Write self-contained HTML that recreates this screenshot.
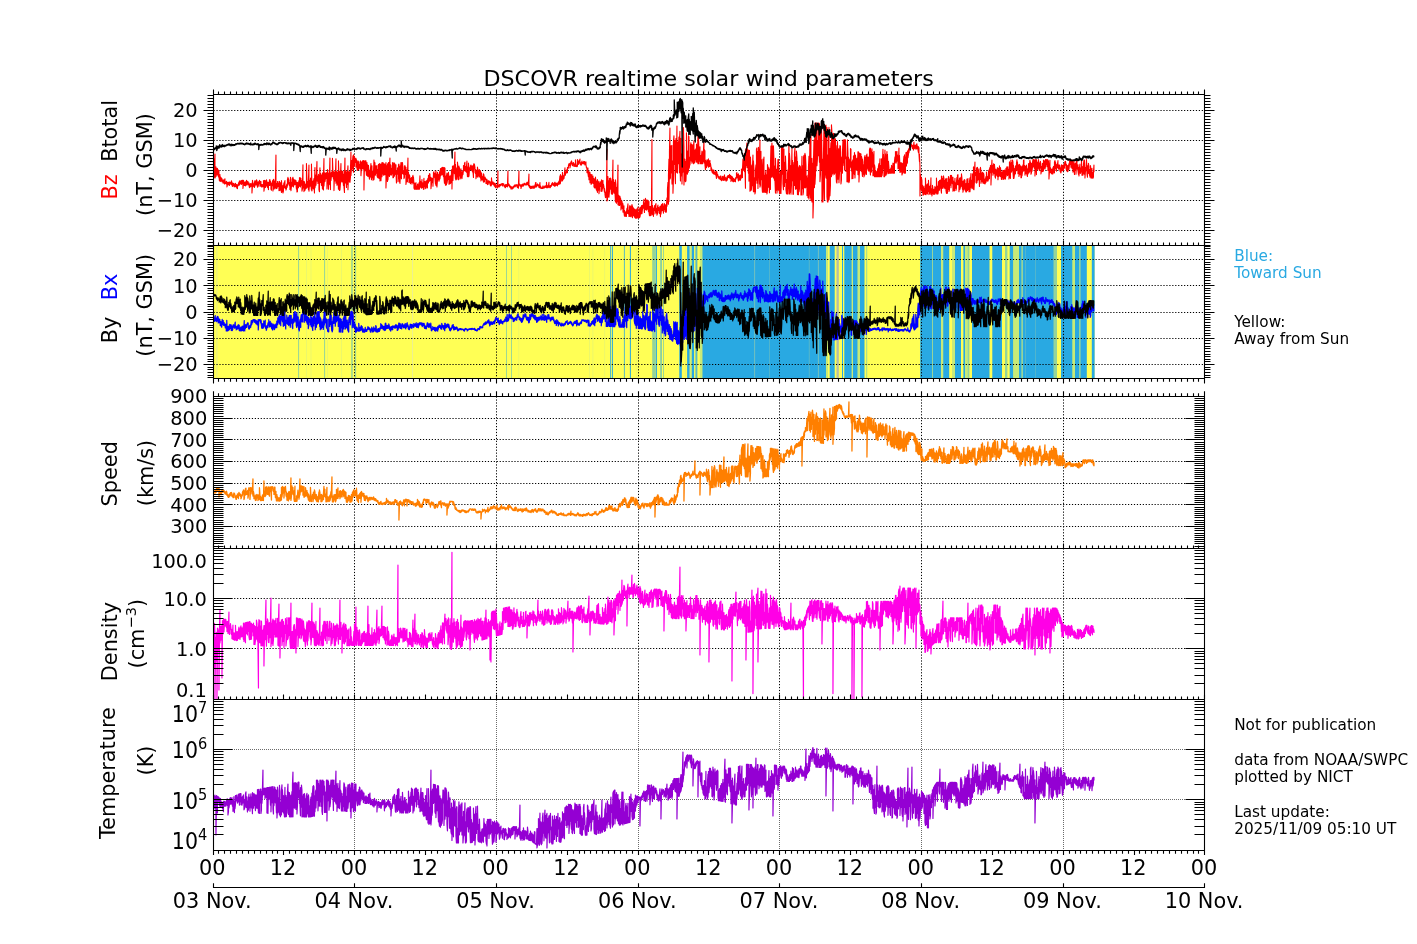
<!DOCTYPE html>
<html><head><meta charset="utf-8"><title>DSCOVR realtime solar wind parameters</title>
<style>html,body{margin:0;padding:0;background:#fff;}body{width:1417px;height:944px;overflow:hidden;}svg{display:block;}</style>
</head><body>
<svg width="1417" height="944" viewBox="0 0 1417 944" font-family="'DejaVu Sans','Liberation Sans',sans-serif">
<defs><clipPath id="c1"><rect x="213.5" y="94.5" width="991" height="151"/></clipPath><clipPath id="c2"><rect x="213.5" y="245.5" width="991" height="133"/></clipPath><clipPath id="c3"><rect x="213.5" y="396.5" width="991" height="152"/></clipPath><clipPath id="c4"><rect x="213.5" y="548.5" width="991" height="151"/></clipPath><clipPath id="c5"><rect x="213.5" y="699.5" width="991" height="151"/></clipPath></defs>
<rect width="1417" height="944" fill="#fff"/>
<rect x="213.5" y="245.3" width="881.1" height="133" fill="#ffff55"/>
<rect x="216.4" y="245.3" width="1" height="133" fill="#e6eb8c"/>
<rect x="298.1" y="245.3" width="1" height="133" fill="#94d49b"/>
<rect x="324.1" y="245.3" width="1" height="133" fill="#94d49b"/>
<rect x="351.2" y="245.3" width="1.5" height="133" fill="#94d49b"/>
<rect x="355.1" y="245.3" width="1" height="133" fill="#94d49b"/>
<rect x="306" y="245.3" width="0.8" height="133" fill="#e8f570"/>
<rect x="310.6" y="245.3" width="0.8" height="133" fill="#e8f570"/>
<rect x="327" y="245.3" width="0.8" height="133" fill="#e8f570"/>
<rect x="341.1" y="245.3" width="0.8" height="133" fill="#e8f570"/>
<rect x="412.2" y="245.3" width="0.8" height="133" fill="#e9eda0"/>
<rect x="506" y="245.3" width="0.9" height="133" fill="#94d49b"/>
<rect x="511" y="245.3" width="0.9" height="133" fill="#94d49b"/>
<rect x="518.4" y="245.3" width="0.8" height="133" fill="#e8f570"/>
<rect x="589" y="245.3" width="0.8" height="133" fill="#e8f570"/>
<rect x="592.5" y="245.3" width="0.8" height="133" fill="#e8f570"/>
<rect x="604.3" y="245.3" width="0.8" height="133" fill="#e8f570"/>
<rect x="610" y="245.3" width="1.2" height="133" fill="#5cbcc0"/>
<rect x="612.1" y="245.3" width="0.9" height="133" fill="#29a9e2"/>
<rect x="623.9" y="245.3" width="1" height="133" fill="#5cbcc0"/>
<rect x="629.9" y="245.3" width="1" height="133" fill="#29a9e2"/>
<rect x="636.4" y="245.3" width="0.8" height="133" fill="#e8f570"/>
<rect x="652.2" y="245.3" width="3.4" height="133" fill="#94d49b"/>
<rect x="655.8" y="245.3" width="1.1" height="133" fill="#29a9e2"/>
<rect x="660.4" y="245.3" width="1.3" height="133" fill="#5cbcc0"/>
<rect x="663" y="245.3" width="0.9" height="133" fill="#94d49b"/>
<rect x="679.3" y="245.3" width="2.5" height="133" fill="#29a9e2"/>
<rect x="685.1" y="245.3" width="0.8" height="133" fill="#e8f570"/>
<rect x="687.1" y="245.3" width="2.5" height="133" fill="#29a9e2"/>
<rect x="690.6" y="245.3" width="0.8" height="133" fill="#94d49b"/>
<rect x="691.8" y="245.3" width="2.3" height="133" fill="#29a9e2"/>
<rect x="695.4" y="245.3" width="2" height="133" fill="#5cbcc0"/>
<rect x="699.8" y="245.3" width="2.6" height="133" fill="#c8ea78"/>
<rect x="702.4" y="245.3" width="123.6" height="133" fill="#29a9e2"/>
<rect x="754.2" y="245.3" width="0.9" height="133" fill="#7cc4b8"/>
<rect x="769" y="245.3" width="0.8" height="133" fill="#5ab8c8"/>
<rect x="808.8" y="245.3" width="0.9" height="133" fill="#5ab8c8"/>
<rect x="817.9" y="245.3" width="0.9" height="133" fill="#7cc4b8"/>
<rect x="826" y="245.3" width="2" height="133" fill="#c8ea78"/>
<rect x="829" y="245.3" width="0.8" height="133" fill="#b4de8c"/>
<rect x="830" y="245.3" width="4.7" height="133" fill="#29a9e2"/>
<rect x="836.5" y="245.3" width="2.3" height="133" fill="#b4bea8"/>
<rect x="842" y="245.3" width="1" height="133" fill="#29a9e2"/>
<rect x="844.3" y="245.3" width="7.4" height="133" fill="#29a9e2"/>
<rect x="852" y="245.3" width="1" height="133" fill="#c8ea78"/>
<rect x="853" y="245.3" width="4.6" height="133" fill="#29a9e2"/>
<rect x="858" y="245.3" width="2" height="133" fill="#c8ea78"/>
<rect x="860" y="245.3" width="4.5" height="133" fill="#29a9e2"/>
<rect x="866.3" y="245.3" width="0.9" height="133" fill="#94d49b"/>
<rect x="920.2" y="245.3" width="20.8" height="133" fill="#29a9e2"/>
<rect x="932" y="245.3" width="1" height="133" fill="#94d49b"/>
<rect x="941" y="245.3" width="2.2" height="133" fill="#c8ea78"/>
<rect x="943.2" y="245.3" width="6" height="133" fill="#29a9e2"/>
<rect x="952" y="245.3" width="3" height="133" fill="#c8ea78"/>
<rect x="955" y="245.3" width="6" height="133" fill="#29a9e2"/>
<rect x="963.4" y="245.3" width="1.8" height="133" fill="#29a9e2"/>
<rect x="965.2" y="245.3" width="2.3" height="133" fill="#c8ea78"/>
<rect x="967.5" y="245.3" width="1.9" height="133" fill="#94d49b"/>
<rect x="972" y="245.3" width="17.5" height="133" fill="#29a9e2"/>
<rect x="992.3" y="245.3" width="9.7" height="133" fill="#29a9e2"/>
<rect x="1005" y="245.3" width="2.4" height="133" fill="#94d49b"/>
<rect x="1009.7" y="245.3" width="3.7" height="133" fill="#29a9e2"/>
<rect x="1013.4" y="245.3" width="5.6" height="133" fill="#c8ea78"/>
<rect x="1019" y="245.3" width="2.7" height="133" fill="#29a9e2"/>
<rect x="1021.7" y="245.3" width="1.3" height="133" fill="#94d49b"/>
<rect x="1023" y="245.3" width="30.8" height="133" fill="#29a9e2"/>
<rect x="1025" y="245.3" width="0.8" height="133" fill="#5ab8c8"/>
<rect x="1035" y="245.3" width="0.8" height="133" fill="#5ab8c8"/>
<rect x="1053.8" y="245.3" width="3.2" height="133" fill="#94d49b"/>
<rect x="1061" y="245.3" width="11.6" height="133" fill="#29a9e2"/>
<rect x="1072.6" y="245.3" width="2.4" height="133" fill="#c8ea78"/>
<rect x="1075" y="245.3" width="4" height="133" fill="#29a9e2"/>
<rect x="1079" y="245.3" width="1.4" height="133" fill="#94d49b"/>
<rect x="1080.4" y="245.3" width="6.4" height="133" fill="#29a9e2"/>
<rect x="1091.8" y="245.3" width="2.8" height="133" fill="#29a9e2"/>
<path d="M354.5 94.4V245.3M496.5 94.4V245.3M638.5 94.4V245.3M779.5 94.4V245.3M921.5 94.4V245.3M1063.5 94.4V245.3M213.5 110.5H1204.5M213.5 140.5H1204.5M213.5 170.5H1204.5M213.5 200.5H1204.5M213.5 230.5H1204.5" fill="none" stroke="#000" stroke-width="1" stroke-dasharray="1.2 1.75"/>
<path d="M354.5 245.3V378.3M496.5 245.3V378.3M638.5 245.3V378.3M779.5 245.3V378.3M921.5 245.3V378.3M1063.5 245.3V378.3M213.5 259.5H1204.5M213.5 285.5H1204.5M213.5 312.5H1204.5M213.5 338.5H1204.5M213.5 364.5H1204.5" fill="none" stroke="#000" stroke-width="1" stroke-dasharray="1.2 1.75"/>
<path d="M354.5 396.5V548.3M496.5 396.5V548.3M638.5 396.5V548.3M779.5 396.5V548.3M921.5 396.5V548.3M1063.5 396.5V548.3M213.5 526.5H1204.5M213.5 504.5H1204.5M213.5 483.5H1204.5M213.5 461.5H1204.5M213.5 439.5H1204.5M213.5 418.5H1204.5" fill="none" stroke="#000" stroke-width="1" stroke-dasharray="1.2 1.75"/>
<path d="M354.5 548.3V699.2M496.5 548.3V699.2M638.5 548.3V699.2M779.5 548.3V699.2M921.5 548.3V699.2M1063.5 548.3V699.2M213.5 598.5H1204.5M213.5 648.5H1204.5" fill="none" stroke="#000" stroke-width="1" stroke-dasharray="1.2 1.75"/>
<path d="M354.5 700V850.2M496.5 700V850.2M638.5 700V850.2M779.5 700V850.2M921.5 700V850.2M1063.5 700V850.2M214 749.5H1204.5M214 799.5H1204.5" fill="none" stroke="#6a6a6a" stroke-width="1" stroke-dasharray="1 1"/>
<path d="M213.95 158.5v13.6l.5 5.2v-4.5l.5-18.8v24.1l.5-2.1v-3.4l.5-5.7v9.7l.5-1.9v-5.5l.5-0.8v5.8l.5 0.7v-6.7l.5 3.9v2l.5 2.9v-7l.5 0.7v5.4l.5 4.9v-3.6l.5-2.8v5.4l.5 1.4v-4.5l.5 0.6v3.4l.5-0.2v-2.7l.5 0.8v2.9l.5-0.2v-1.7l.5 1.1v2l.5 0v-2.8l.5-0.3v2.8l.5 1.5v-2.1l.5-3.3v4.7l.5 0.2v-1.7l.5 0.8v1.1l.5 0.1v-2.7l.5 1v4.7l.5-2.6v-1.4l.5-0.4v2.2l.5-0.1v-2.2l.5-0.3v2.8l.5 0.6v-3.2l.5-0.2v2l.5-0.7v-1.1l.5 0.5v1.2l.5 0.6v-3.9l.5 2.4v1.5l.5 1.9v-3.4l.5 1.1v1.3l.5 0v-2.2l.5 1v2.3l.5-0.5v-1.4l.5-0.8v3l.5-2.3v-1.4l.5 2.4v0.8l.5 0.8v-2.3l.5-0.4v3.7l.5 0.4v-3.5l.5-0.3v1.2l.5-1v-1.6l.5-1.3v3.2l.5-0.2v-4.3l.5 1.8v1.7l.5-1.5v-0.6l.5-1.6v1.6l.5 2.2v-3.1l.5-0.9v3.4l.5-1.4v-2.1l.5 0v8.1l.5-5.1v-2.9l.5 1.4v2.9l.5 0.8v-3l.5 0.3v1.8l.5 1.3v-4.1l.5 0.9v1.6l.5 0.5v-4.4l.5 0.7v4l.5-1.7v-0.8l.5-1.1v1.8l.5 1.4v-1.7l.5-0.1v2.3l.5 2.5v-2.1l.5-1.6v3.2l.5-0.5v-3.1l.5 0.6v1.8l.5 0.4v-1.7l.5-1.6v9.9l.5-6.7v-6l.5 3.4v2.5l.5-0.3v-2l.5-0.2v3.1l.5 0.7v-5.1l.5-1.8v5.5l.5-1.7v-3.3l.5 0.6v1.1l.5 2.2v-5.3l.5 1v2.8l.5 3.8v-4.5l.5-0.7v4.7l.5-1.7v-3.4l.5 0.2v2.1l.5-2.5v-1.3l.5 1.6v4.5l.5-0.6v-4.2l.5 0.1v4.1l.5 1.2v-2.5l.5 0.4v2.2l.5-0.4v-1.7l.5-0.6v2.4l.5-1v-5.1l.5 2.5v8.2l.5-3.8v-7.1l.5 0.3v2.6l.5 4.1v-3.2l.5-3.7v5.6l.5-1.2v-5.2l.5 2.5v3.1l.5 2.2v-4.4l.5-0.8v3.6l.5 3.7v-7.3l.5 0.5v2.8l.5-0.4v-5.4l.5-0.1v5.8l.5-2.4v-2.1l.5 2.6v5.5l.5 1.1v-6.1l.5-1.1v2.9l.5-1.3v-3.3l.5-1v10.6l.5-7v-4.6l.5 0.8v9.2l.5-1v-7.2l.5 2.1v4.3l.5 0.2v-8.7l.5-24v33.7l.5-1v-3.9l.5-0.5v5.1l.5-1.7v-5.1l.5 0v4.9l.5-1.2v-2.1l.5 0v7.4l.5-5.7v-3.5l.5 2.3v6.7l.5-1.4v-6.3l.5 0.2v6.2l.5 3.4v-12l.5 5.7v5.7l.5-4.4v-1.6l.5-0.3v7.4l.5-2v-4.8l.5-3.4v5.3l.5-3.4v-2.4l.5-1.7v6.5l.5 1.4v-1.7l.5-0.7v4l.5-1.2v-3.5l.5-1.4v3.5l.5-2.1v-5.7l.5-2.3v3.6l.5 2.9v-5.4l.5 1.9v4l.5 1.4v-3.4l.5 4.4v2.6l.5-1.4v-10.8l.5 2.4v11.2l.5-4.4v-4.4l.5 0.9v3.3l.5-0.7v-6.8l.5-1.4v9l.5 0.7v-8.3l.5 1.6v2.9l.5 1.7v-4.1l.5-1.1v2.8l.5 2v-3.5l.5-0.4v3.9l.5 4.6v-7.1l.5 1.4v8.6l.5-0.4v-9.2l.5 2.7v2.4l.5 0.3v-4.5l.5-2.8v5.6l.5 0.1v-8.6l.5 5.1v3.3l.5 0.9v-9l.5 0.5v7l.5-1.5v-3.6l.5 2.1v8.7l.5-2.2v-4.3l.5-19.9v23.4l.5-1.1v-2.7l.5-2.9v10.2l.5-4.4v-5.3l.5 2.9v5.6l.5-2v-4l.5 0.1v3.4l.5 0.3v-24.6l.5 16.9v6.7l.5 0v-5.8l.5 0.2v2.8l.5 5.2v-10.2l.5-14.4v26.1l.5-6v-5l.5 0.8v5.4l.5-1.1v-7.1l.5 4.1v3.7l.5 4.4v-26.2l.5 21v5.9l.5-5.3v-3.1l.5-1.5v5.7l.5 2.1v-6.5l.5-3.9v5.5l.5 9v-9.9l.5-15.6v20.5l.5-3.5v-9.7l.5 2.1v8.4l.5-6v-5.4l.5-12.3v18.7l.5 1v-5.6l.5 2.5v5.2l.5-1.3v-7.8l.5 4.1v11.3l.5 2.1v-10.2l.5-13.9v13.1l.5 1.7v-9.3l.5 2.7v4.8l.5 4.8v-9.9l.5-0.7v5l.5 9.1v-16.1l.5 3.9v6.5l.5 6.6v-13.7l.5-17.7v27.4l.5-6.9v-6.4l.5 2.3v6.8l.5-3v-4.6l.5-1.4v6l.5-2.2v-4l.5 3.3v13.2l.5-15.4v-4l.5 2.7v4l.5 13v-16.3l.5 4v7.8l.5-1.3v-9.2l.5-16.3v18.7l.5 12.9v-11.3l.5-5.5v7.8l.5-4.5v-4.1l.5 0v2.7l.5 2v-18.5l.5 13.7v0.7l.5 6.3v-7l.5-0.1v18.8l.5-15.1v-3.7l.5 1.5v7.7l.5-1.9v-7l.5-13.4v24.5l.5-2v-9.6l.5 0.1v13.6l.5-2.4v-10.8l.5 1.3v3.5l.5 12.4v-28.4l.5 13v3.2l.5 13.4v-19.1l.5 0.3v18.3l.5-6.2v-9.4l.5-10.8v17l.5 0.7v-10.1l.5 0v10.9l.5-5.1v-2.8l.5-3.1v8.4l.5 6v-7.6l.5-3.8v12.9l.5 5.4v-15.2l.5-19.2v25.3l.5-3.4v-9.1l.5 0v7.3l.5 9.3v-15.5l.5 6.2v4.1l.5 2.5v-11.7l.5-7.3v24.1l.5-10.7v-6.7l.5-0.6v8l.5 1.9v-4.1l.5-6.2v11.1l.5-5.2v-7.9l.5-17.4v23.5l.5-6.6v-8.5l.5 0.2v8.9l.5-2.7v-5.4l.5-5.5v9.2l.5 7.1v-17.5l.5 1.9v7.8l.5 1.8v-9.5l.5 3v2.8l.5-1.6v-1.4l.5-1.3v8.9l.5-3.9v-3.7l.5 5.6v2.7l.5 2.6v-6.7l.5-3v5.2l.5 3.8v-7.5l.5-0.4v7.4l.5-3.3v-1.8l.5 1.6v1.8l.5 1.4v-8.1l.5 3.7v11.1l.5-7.3v-5.4l.5-1.3v7.5l.5-0.5v-6.9l.5-1.2v7.3l.5 1.2v-8.4l.5 0.4v29l.5-25.2v-3.7l.5 0v9.9l.5-3.3v-7l.5 0v7.8l.5 6.8v-9.8l.5-2.9v10.2l.5 3v-11.3l.5 6.4v5.5l.5-1.1v-10.1l.5 6.9v3.5l.5 3.6v-8.4l.5-0.6v6l.5 0.9v-8.1l.5-5.5v9.8l.5 6.5v-8.2l.5-5.9v12.3l.5-0.7v-4.6l.5-1.3v8.9l.5-3.6v-3.4l.5-13.3v19.7l.5-5.1v-12.5l.5 1v4.4l.5 7.6v-9.1l.5-0.1v5.7l.5 1.8v-6.5l.5-1.3v9.7l.5 2v-5.6l.5-2.3v8.3l.5-4.5v-8.8l.5 5.5v8.6l.5-1.2v-13.8l.5 4.4v13.1l.5-4.6v-12l.5-0.4v16.7l.5-8v-6l.5-4.2v14.2l.5-6.5v-7.1l.5-0.6v8.6l.5 4.2v-10.2l.5-1.5v10.6l.5 0.6v-7.9l.5-2.7v9.6l.5 0.9v-7.2l.5-5v25.5l.5-12.5v-9.4l.5-0.6v6.1l.5 9.9v-17.7l.5 6.4v9.7l.5-6.9v-10.5l.5 0v8.1l.5 5.8v-11.1l.5-7.3v16.8l.5 0.1v-10.3l.5 1.1v6.4l.5 3v-5.4l.5-1.5v5l.5 0.6v-11.3l.5 2.7v12.6l.5-0.1v-12.9l.5-2.3v10l.5 3.7v-12.9l.5 0.7v9.6l.5 0.7v-8.5l.5-1v8.2l.5 9.9v-12l.5 0.4v0.9l.5 2.1v-6.4l.5 1.2v12.7l.5-12v-5l.5-0.7v11.2l.5 6.7v-12l.5-3.9v17.3l.5-9.1v-6l.5-5.8v6.5l.5 9.7v-9.2l.5-7v4.1l.5 7v-11.1l.5 5.6v3.6l.5 2.6v-3.8l.5 1.5v6.6l.5-1.2v-11.2l.5-0.6v5.1l.5 4v-7.7l.5 0.5v17l.5-3.6v-8.9l.5-2.3v11.8l.5 0.3v-7.8l.5-16v20.2l.5-0.7v-5.2l.5 5.6v4.5l.5-0.9v-6.6l.5 2.7v4.1l.5 2.1v-5.5l.5 1.1v3.2l.5-2v-3l.5 0.6v5.9l.5-4.1v-2.8l.5-1.9v6.9l.5 1.1v-6.5l.5 7.8v3.5l.5 1.2v-6.2l.5 0.5v5.7l.5 0v-2.9l.5-3.8v6.4l.5 0.3v-3.6l.5 1.1v2.5l.5 0v-5.2l.5 1.1v4.1l.5 0v-1.8l.5-4.8v4.2l.5 2.4v-4l.5-9.5v11.8l.5-2.7v-3.9l.5 2.1v2.8l.5 2.4v-2.8l.5-5.9v7.7l.5 0.2v-4.9l.5 1.9v2.5l.5 2.4v-4.5l.5-6.5v6.9l.5 1.6v-5.7l.5 2.7v5l.5-1.5v-5.6l.5-0.6v7.1l.5-3v-3.2l.5-1.9v5.2l.5 2.6v-7.5l.5-2.3v4.8l.5 0v-7.5l.5-0.2v6.2l.5-0.4v-7.5l.5 0.3v5.8l.5 0.9v-3.2l.5 0v11.3l.5-4.6v-6.1l.5 0.6v4.2l.5-0.8v-3.8l.5 0.5v7.6l.5-11.7v-1.8l.5-1.1v3.2l.5 2.6v-3.5l.5-0.7v4.8l.5 5.9v-7.9l.5-5.3v14.7l.5 0.1v-8.6l.5-3v13l.5-6.4v-8.4l.5 2.9v1.8l.5 3.1v-2.9l.5-2.8v7l.5-2v-6.7l.5-1.8v8.2l.5-5.3v-5.2l.5 1.5v5.6l.5-1.7v-5.9l.5-0.2v4.4l.5 2.6v-7.2l.5-0.3v5.2l.5 4.2v-9.1l.5 3.9v6l.5 5.6v-15.5l.5 0.5v10.2l.5 7v-8.6l.5-0.5v4.9l.5 3.9v-9l.5-2.9v10.2l.5-2.8v-5.1l.5-1.8v5.9l.5-1.6v-5.5l.5 6.2v5.7l.5-0.2v-8l.5 4.9v2.8l.5-0.4v-7l.5-1.3v7.6l.5-7.7v-5.3l.5 0.1v19.2l.5-17.5v-5.5l.5 4.2v10.2l.5-11.1v-3.5l.5 0.9v3.3l.5 3.8v-8.5l.5-13.3v18.6l.5 8.4v-14.8l.5 10.6v5.2l.5-5.9v-3.3l.5-3.1v11.5l.5-7.9v-9.3l.5 4.8v6.3l.5 6.7v-11.2l.5-2.6v10l.5-1.3v-7.2l.5 5.6v6l.5-2.3v-4l.5-3.9v9l.5-1.2v-5.1l.5 3.9v3.2l.5-4.3v-2.2l.5-1.5v4l.5-4.4v-4.8l.5 0.1v5.3l.5-0.8v-6.5l.5-1.3v6.8l.5 2.1v-4.3l.5-0.4v5l.5 0.7v-5.5l.5-5.7v8.1l.5 7.5v-9.1l.5-0.6v4.8l.5 5.1v-13.8l.5 5v8.2l.5-6.3v-2.1l.5 1.1v0.9l.5-0.7v-3.1l.5-1v4.2l.5 1.1v-4.4l.5 0.8v1.6l.5 3.7v-6.2l.5 2.8v2.5l.5 6.4v-12l.5-1.9v5.6l.5-2.8v-2l.5 2.9v5.1l.5 1.2v-4.4l.5 2.6v6.9l.5-3.3v-1.4l.5-4.2v3.9l.5 3.4v-10.1l.5 3.4v3.7l.5 1.8v-5.8l.5 1.4v5.5l.5-3.5v-3.9l.5 1.9v5l.5 1.7v-7.5l.5 5.7v4.6l.5-3.7v-4.6l.5 3.7v3.4l.5 0.2v-2.3l.5-1.2v2.2l.5 3.5v-8.4l.5 1.1v4.2l.5 2.8v-3l.5-1.9v2.7l.5-0.5v-1.3l.5 1.4v4.2l.5-0.2v-2.7l.5-1.4v3.7l.5 1.8v-2.5l.5-1.4v3.7l.5-1.7v-2l.5 0.2v1.2l.5 0.7v-1.7l.5 1.3v1.6l.5 1.6v-3.9l.5 1.8v2.4l.5-1v-7.2l.5 4.8v1.9l.5-0.6v-1.6l.5-0.5v1.4l.5 1.4v-2l.5 0.5v1.9l.5 1.3v-3.2l.5 1.1v1.3l.5 2.2v-4.1l.5 1.3v1.5l.5 0.5v-1.3l.5 0.6v1.2l.5 0.6v-1.4l.5-15.6v15.9l.5-0.3v-1.5l.5 1.2v0.8l.5-0.7v-1.8l.5-0.1v1.4l.5-0.2v-1l.5-0.6v0.9l.5-0.5v-0.8l.5 0v1.1l.5 1.1v-2.4l.5 0.3v0.4l.5 0.9v-1.3l.5 0.3v2.2l.5 0.1v-1.2l.5 0.9v1.5l.5 0v-2.6l.5-0.5v1.1l.5 1v-1.9l.5 0.4v1.1l.5 0.7v-1.6l.5-14.3v14.8l.5-0.4v-1.7l.5 0.6v1l.5 1.2v-1.6l.5 1.9v0.7l.5 0.2v-1.6l.5 0.8v2l.5 0v-2.1l.5 0.8v1.1l.5 0.2v-1.4l.5-0.8v1.7l.5-1v-0.9l.5-0.5v0.9l.5-0.8v-1.1l.5 0.5v1.5l.5-0.8v-1.3l.5-0.2v0.9l.5 0.3v-0.7l.5-0.6v1.9l.5 1.1v-2.2l.5-0.6v2.1l.5 1.3v-4l.5-13.2v14.1l.5 0.2v-1.4l.5 1.3v0.9l.5 0.1v-1.4l.5 0.6v3.1l.5-1.8v-1.8l.5-0.1v1.3l.5-0.8v-1.2l.5 0.7v1.5l.5-0.4v-1.3l.5-1.2v2l.5-1.2v-0.9l.5 0.1v0.7l.5 0.6v-0.5l.5-0.2v1.3l.5-1.1v-0.7l.5-1.2v2.4l.5-1v-1.4l.5 0.4v1.8l.5 1v-3l.5-8.5v12.1l.5 1.2v-1.9l.5 0.6v1.7l.5 0.9v-2.3l.5 0.8v1l.5 0.3v-2.1l.5 0.3v1.4l.5 0.1v-0.8l.5-1.4v1.4l.5 0.5v-1.7l.5 0.8v1.5l.5-0.5v-1.3l.5-1.7v2.8l.5-3.1v-1.9l.5-0.2v4l.5 0.5v-2.2l.5 0.1v0.7l.5-0.3v-1.4l.5 1v1.2l.5-0.2v-1l.5 0.5v2.1l.5 0.2v-1.5l.5-3.6v5.1l.5-0.1v-1.7l.5 1.1v1.4l.5 0v-0.7l.5 0.4v0.3l.5 0v-0.7l.5-1.9v2.6l.5-0.9v-0.9l.5 0.4v0.9l.5 0.1v-1.2l.5-0.9v1.3l.5 0.1v-1.3l.5-0.4v1.9l.5 0.2v-5.4l.5 4.4v1.1l.5-0.4v-1.5l.5 0v1.7l.5-0.7v-1.1l.5-3.4v4.9l.5-0.2v-1.1l.5-0.2v2l.5-0.5v-1.9l.5 0.3v0.5l.5 0v-1.3l.5-1.7v1.9l.5-1.3v-1.2l.5 0.6v1.9l.5 0.3v-1.8l.5 0.3v1.2l.5 1.2v-3.2l.5-0.9v3.8l.5-0.1v-0.9l.5-1.9v2l.5 0.2v-1.8l.5-0.1v1.9l.5 0.6v-2.8l.5-0.2v1.9l.5-0.4v-1.9l.5-1.4v3.1l.5-1.1v-2.3l.5-5v8.2l.5-0.7v-8.8l.5 4.7v2.4l.5-2.7v-2.8l.5 0.2v3l.5 1.6v-8.6l.5 4.1v3.6l.5-2.4v-1.7l.5 0v2.9l.5-3.8v-2l.5-5.2v6.2l.5 1.3v-2.5l.5-1.1v2l.5-1.8v-0.9l.5-1.6v3.1l.5 0.2v-5.3l.5 0.3v1.1l.5-1.5v-1.9l.5-1.7v1.5l.5 0.3v-1.2l.5-1v4.7l.5-2.6v-1.8l.5-1.8v2.2l.5-0.6v-2.5l.5 1.6v1.8l.5 1.5v-2.7l.5 0.6v1.6l.5-1v-1.8l.5 1.5v2.4l.5-0.2v-2.2l.5 0.6v1.5l.5 0.4v-6.6l.5 4.8v1.1l.5 0.7v-1.3l.5 0.3v1.3l.5-0.7v-6.6l.5 2.1v2.3l.5 0.4v-2.1l.5-1.3v1.1l.5 0.9v-2.2l.5-1.6v4.5l.5 0.8v-1.9l.5 1.8v1l.5-0.4v-2.3l.5-1.5v2.7l.5 0v-1.3l.5-0.2v0.9l.5 0.2v-1.4l.5-0.6v2.7l.5-0.2v-2.3l.5 1.1v2.2l.5-0.7v-1.9l.5-0.5v2.6l.5 3.6v-1.4l.5 1.3v4.7l.5 0v-2.9l.5-1.6v5.2l.5 3.5v-5.7l.5 1.8v6.8l.5-0.8v-6.9l.5 0.5v10.2l.5-1.6v-6.9l.5 0.2v9.7l.5 0v-6l.5-3.6v4.7l.5 4.1v-4l.5-3.2v6.7l.5 0.6v-5.4l.5 3v5.7l.5 1v-8.8l.5 0.5v8.5l.5-6.7v-4.2l.5 4.8v5.8l.5 2.6v-9.1l.5 2v6.6l.5 2.8v-13l.5 2.7v8.2l.5-2.4v-5l.5-1.4v12.2l.5-4.1v-6.1l.5-0.6v3.2l.5 0.3v-4.8l.5 2.4v7.2l.5-1.6v-9.8l.5 2.5v9l.5-3.1v-7.4l.5-0.5v5l.5 2.6v-4l.5 3.1v1.5l.5 3.6v-3.9l.5 3.6v2.3l.5 3.5v-3.3l.5-2.3v4.9l.5 0.4v-3.5l.5-44.9v52l.5-1v-23.3l.5-0.1v20.4l.5-7.3v-8.8l.5-0.1v16.5l.5-5.9v-13.2l.5 6.2v5.1l.5-3.5v-7.9l.5 0.9v8.1l.5 6.8v-13.2l.5 3.1v3l.5 7.4v-11.4l.5-22.8v30.4l.5 1.8v-13l.5 3.9v10.2l.5-1.5v-9.3l.5 0.6v9.1l.5 9.7v-22l.5 4.6v13l.5 5.7v-12.5l.5-3.5v9l.5 5.5v-9l.5-27.7v39.8l.5 0.3v-10l.5 0.6v4.6l.5 5.2v-7.6l.5-1.6v8.6l.5-0.7v-6.3l.5 2.7v9.3l.5-2.8v-4.5l.5-1.5v5l.5 2.6v-5.8l.5 1v8.2l.5-0.6v-2.8l.5-2.8v6.6l.5 3.6v-5.9l.5 2.8v3.2l.5-0.2v-4.2l.5 2.8v1.8l.5 0.1v-4.5l.5-3.6v5.3l.5-2.1v-3.9l.5-3.8v9.5l.5 0.6v-4l.5 1.8v4.6l.5-2.6v-6.7l.5-1.6v11l.5-2.5v-7.6l.5 3.3v7.1l.5-2.1v-7.7l.5-2.4v8.3l.5 4.8v-11.9l.5 4.5v4.3l.5 1.1v-7.8l.5 0.9v3.8l.5 4.7v-7.2l.5-0.8v6.3l.5 2.7v-3.3l.5-5.1v7.1l.5 1.1v-3.2l.5-6v9.4l.5-2.9v-4.8l.5-3.5v10l.5 0.8v-5.9l.5 3.3v2.6l.5-0.1v-8.1l.5-2.2v9.7l.5-3.2v-2l.5-5.3v7.1l.5-0.4v-7.4l.5-0.5v8.1l.5-4.1v-3.4l.5-1v3.1l.5-0.1v-5.6l.5-3.2v7.9l.5 5.2v-8.9l.5-0.6v7.1l.5-2.6v-9.1l.5 3.3v7.9l.5 0.6v-6.1l.5-4.2v4.2l.5 5.2v-6.4l.5-2.5v7.3l.5 4.1v-4.5l.5-5.7v10.3l.5 3.9v-9.4l.5 1.3v8.1l.5-2.9v-6.4l.5 0.7v8.6l.5-2.5v-7.6l.5-66.1v74.4l.5 0.5v-9.1l.5 6.1v3.3l.5 1.7v-6l.5-2.5v1.6l.5 1.1v-4.7l.5-0.4v8.4l.5-3.5v-5.5l.5-1.3v5.3l.5 4.3v-4.8l.5 3.1v3.7l.5-1.7v-6.3l.5-2.2v5.6l.5-0.5v-2.9l.5 1.4v3.8l.5 1.1v-3.6l.5-3.5v3.8l.5 6.5v-10.6l.5 2.9v5.2l.5-4v-5.7l.5 1.8v4.5l.5-0.2v-7l.5 0.4v4l.5 5.1v-7l.5 0v3.6l.5-1.1v-5l.5 1.6v6.3l.5 0.1v-6.8l.5 2.9v4.7l.5-1.1v-6.3l.5-7.3v8.4l.5-5.7v-11l.5-7.1v11.5l.5 10.5v-29l.5-16.2v42.4l.5-32v-18.1l.5-23.4v51l.5-1.2v-10.9l.5-21.1v27.1l.5-8.3v-13.8l.5-5.4v38.5l.5-6v-15.2l.5-1.8v32.4l.5-13.6v-38.2l.5-5.8v22.7l.5 6v-23.5l.5-0.4v32.5l.5 10.6v-10.2l.5-34.8v34l.5-0.6v-13.6l.5-32.4v34.1l.5 13v-27.3l.5-3.7v16.5l.5 5.1v-17.7l.5-8.9v21.9l.5 13.8v-32.4l.5-9v34.7l.5 14.8v-39.7l.5-2.8v27.4l.5 10.1v-22l.5 10.8v19.2l.5-13.9v-16.5l.5-8.9v27.5l.5-22.2v-22.3l.5 19v38.4l.5-12.9v-13.3l.5 0.7v19.4l.5 2.9v-14.1l.5-6.4v19.8l.5-13.5v-34.9l.5 25.1v15.6l.5 0.7v-23l.5 6.1v15.5l.5-1.8v-35.1l.5 1v31.9l.5-1.7v-3.3l.5-6.6v7.8l.5-7v-12.6l.5-2.6v13.7l.5 4.9v-16.9l.5 4.3v14.5l.5-3.4v-15.1l.5 2v11.6l.5 5.4v-17.9l.5-5.1v14.7l.5 7.5v-11.8l.5-1.1v8l.5 2v-9.3l.5-2v13.3l.5-10.2v-7.8l.5 5.3v13l.5-1.6v-10l.5-14.7v27.7l.5 0v-26.9l.5 12.5v9.6l.5 2.4v-4.1l.5-10.4v16.9l.5-5.5v-3l.5 1.7v6.8l.5 0v-7.6l.5-5v12.6l.5 0v-10.7l.5-1.3v8.5l.5 1.5v-11l.5-9.9v22.3l.5-2.5v-11l.5 1.4v14l.5 4.8v-9.7l.5 3.8v2.5l.5 1.4v-3.7l.5-4.2v6.4l.5-2.2v-3.5l.5-0.8v2.3l.5 5v-8.2l.5 4.7v3.1l.5-0.9v-4.6l.5-0.7v5.9l.5-1.6v-1.4l.5 3.5v3.6l.5-0.3v-2.7l.5 2.6v1.7l.5 1v-2.3l.5-0.5v3.1l.5 0.8v-3l.5-0.8v3.4l.5 0.5v-1.6l.5-0.1v2.3l.5 0.3v-2.9l.5-0.4v2.9l.5 3.9v-7.1l.5 1.1v3.2l.5 0.4v-1.9l.5 1.1v2.2l.5 0.4v-1.6l.5 1.6v1l.5 0.2v-1.1l.5-1.6v2l.5 1.3v-3.5l.5-0.1v3.6l.5 1v-1.9l.5-0.8v2.7l.5-1.9v-2.3l.5 0.9v1.9l.5 1.2v-3.1l.5-1.2v4.2l.5-1.6v-3.9l.5 3.5v1.8l.5-0.2v-2.4l.5 3v0.5l.5 0v-1.7l.5-2.4v3.6l.5-1.7v-2.1l.5-1.1v2.1l.5-1.5v-0.7l.5 0.4v1.7l.5-0.9v-2.3l.5 1.8v2.5l.5-3.1v-0.4l.5 0.7v5.5l.5-3.4v-1.8l.5 1.4v2l.5 1.4v-4.1l.5 3.8v0.9l.5 0v-3.3l.5 0.7v2.6l.5-0.9v-0.9l.5-0.7v2l.5 0.7v-3.4l.5-1.1v1.8l.5-2.4v-3.6l.5-0.4v5l.5-0.6v-2.7l.5 0.4v3.8l.5 2.3v-7.1l.5 2.7v4l.5-0.8v-3.4l.5-0.8v3.8l.5 1v-2.6l.5-3v4.1l.5-1.9v-7.9l.5 0.6v4.4l.5 3.6v-7.9l.5-10.6v3.5l.5 7.6v-9.2l.5-0.6v7.7l.5 3.5v-18.2l.5 4.3v8.5l.5 22.1v-38.4l.5-1v10.8l.5 6.1v-17l.5-5.8v24.6l.5-13.3v-5.6l.5 1.7v16.9l.5 5.8v-22.7l.5 2v28.7l.5-1.9v-29l.5 26.2v14.9l.5-11.6v-22.7l.5 15.7v17.9l.5-1.4v-15.9l.5-8.3v20.7l.5-0.7v-18.5l.5-11.5v31.2l.5 5.4v-30.7l.5 8.5v22.2l.5 0v-14l.5 4.1v12.3l.5-2.3v-21.9l.5-5.1v14.6l.5 0.8v-31.2l.5-1v35.4l.5-2.7v-13.4l.5-15.8v37l.5-28.9v-12.1l.5 7.8v14.2l.5 14.5v-24.9l.5-19v47.1l.5-1.9v-31.7l.5-2.1v13.7l.5 14.6v-20.1l.5 12.8v13.4l.5 6.4v-17.6l.5-15.5v33.1l.5 0.1v-20.8l.5-14.4v11.5l.5 23.7v-16.3l.5-0.3v15.5l.5 1.2v-17.8l.5-4.4v21.1l.5 1.2v-13.5l.5-4.4v19.4l.5-3.3v-26.2l.5 2.6v20.4l.5-1.1v-15.8l.5-2.9v13.5l.5 11.5v-22.3l.5-1.1v16.1l.5 4.1v-24.3l.5-19.2v23.3l.5 7.8v-23.1l.5-11v34l.5-1.5v-29.7l.5 6.9v20.2l.5 5.1v-32.3l.5 14.8v10.1l.5 9.7v-14.6l.5 5.1v9.3l.5 13v-34.7l.5 15.9v16.2l.5-3.3v-18l.5 8.9v15.1l.5-4.4v-19.9l.5-9.3v26.1l.5 4.4v-30.7l.5 11.6v16.6l.5 5.8v-14.8l.5-5v19.8l.5-3v-19.1l.5 0.5v21.7l.5-18v-27.9l.5-0.9v25.2l.5 2.4v-20.5l.5-7.4v37.1l.5 6.3v-21.8l.5-19v25.3l.5 12.2v-24.4l.5 4v12.1l.5 4.4v-26.6l.5 12.8v20.9l.5 4.1v-6l.5-8.6v14.7l.5 0v-20.3l.5-3.7v24.1l.5-13.5v-14.7l.5-21.9v35.5l.5 14.6v-40.6l.5 7.3v29.3l.5 2.5v-27.2l.5 2.2v26.6l.5-8.6v-13.2l.5-23.5v28.7l.5 3.4v-20.6l.5 12.6v21.4l.5 0v-24.3l.5-7.8v22.2l.5 1.1v-31.4l.5-6.3v26.7l.5 14.7v-32.5l.5 5.7v25.6l.5 0.8v-37.7l.5 7.2v13.7l.5 22.5v-33.3l.5 12.6v20.9l.5 0v-21.8l.5-6v24.9l.5-2.8v-23.4l.5 0.4v13.8l.5-1.3v-12l.5 18.7v9.7l.5 0v-17.5l.5-21.1v32.7l.5-2.7v-9.9l.5-10.8v29.4l.5-3.2v-34.4l.5-2.1v26.7l.5 5.7v-30.5l.5-4v32l.5 2.7v-33l.5 10.6v21.7l.5-0.9v-10.5l.5 4.8v15l.5-1.7v-7.1l.5-11.7v22.5l.5-10.1v-20.2l.5-11v42.8l.5-17.5v-9.6l.5-34.3v52.8l.5 7.4v-29.8l.5-34.2v66.6l.5-9.9v-28.4l.5-3.8v43.5l.5-0.9v-26.8l.5-11.2v55l.5-16.1v-39.9l.5-22v39.4l.5 8.2v-22.4l.5-42.2v61.1l.5-8.7v-35.4l.5-16.9v47.9l.5-19v-28.9l.5 0v42.5l.5-6.7v-17.7l.5-0.9v15.6l.5-0.7v-32l.5-0.1v26.8l.5 12.3v-38.7l.5 18.5v39.6l.5-6.8v-28.4l.5-14.2v23.3l.5 13.9v-46.3l.5 36v42.8l.5-5.6v-37.1l.5 0.3v42.4l.5-27v-19.8l.5-28.2v36.2l.5 36.4v-71.6l.5-2.1v52.1l.5-16.3v-19.1l.5-17.5v48l.5 5.2v-19.3l.5-31.6v69.4l.5 5.2v-47.1l.5 14v33.1l.5-15.2v-45.9l.5-13.4v72.6l.5-4.8v-35.2l.5-11.5v47.1l.5-10v-33.3l.5-9.7v31.4l.5 2.8v-52l.5 7.7v37.6l.5 3.5v-25.1l.5-14.2v40.7l.5-24v-17.6l.5 10.3v29l.5 1.6v-22l.5-14v12.9l.5 21.8v-33.9l.5 20.5v12.6l.5 10v-18.9l.5-17.7v37.5l.5-14.7v-26.9l.5 14.6v23.2l.5-11.5v-19l.5 1v32.9l.5-8.7v-23.1l.5-5.3v25.6l.5-6.3v-18.8l.5 18.8v19l.5-4v-18.6l.5-4.5v16.3l.5 0.1v-21l.5-12.2v25.5l.5-9.5v-6.7l.5-9.4v13.7l.5 16.3v-30l.5 0v18.8l.5-6.1v-12.7l.5 15.9v15.6l.5-3.6v-6l.5-5v24.9l.5-14.1v-27.7l.5 13.3v28.7l.5-4.5v-20.4l.5 11.8v13.9l.5-1.9v-20l.5-1.9v9.1l.5-3.3v-16.1l.5 0.5v11.7l.5 10.2v-9.3l.5 2.3v14.8l.5-1.3v-16.4l.5-1.3v18.7l.5-13.3v-9.5l.5 6.6v10.5l.5 1.8v-22.1l.5 9.3v16.1l.5-11.4v-11.4l.5 5.6v8.9l.5-3.3v-5.8l.5-2.2v11.6l.5-0.1v-5.5l.5-12.6v22.9l.5-9.9v-12.9l.5 6.5v23.7l.5-10.6v-18.4l.5 5.8v12.2l.5-4.8v-12.6l.5 0.4v13.2l.5 4.2v-15.2l.5 2.4v12.7l.5 5.1v-17.3l.5 3.1v12.2l.5-2v-3.9l.5-4v12.4l.5-1.7v-17.5l.5-2.2v19.2l.5-5.5v-12.1l.5 3.4v11.4l.5 2.6v-19.1l.5-1.3v10.8l.5 3.5v-11.5l.5 1.4v11.5l.5 1v-13.8l.5 1.2v13.1l.5-5.7v-15.7l.5-1.9v21.6l.5 5.4v-26.6l.5 6.5v17.5l.5-0.7v-16.5l.5-6.4v16.1l.5 2.3v-15l.5 5.7v17.8l.5-2v-11.7l.5-10.8v24.2l.5 1.3v-12l.5 3v3.6l.5 5.4v-6.5l.5 3.3v3.2l.5 0v-5.1l.5 4.7v0.4l.5 0v-6.5l.5-2v8.5l.5 0v-10.3l.5-2.9v12l.5 1.2v-8.1l.5-9.8v17.9l.5-4.3v-7l.5 1.7v9.6l.5 0v-17.9l.5 1.1v15.9l.5-3.5v-11.6l.5-11.4v11l.5 8.7v-14.8l.5 10.2v12.3l.5 0v-7.7l.5-18.9v25.9l.5-7.4v-14.9l.5 4.3v17.2l.5-1.4v-14.9l.5-7.3v9.6l.5 10.8v-17.8l.5 13.4v6.1l.5-0.3v-12.1l.5 6.5v5.4l.5-0.1v-3.9l.5 3.1v0.8l.5 0v-3.5l.5-1.7v5.2l.5 0v-7.7l.5 1.7v4.4l.5 1.6v-2.8l.5-7.3v9.6l.5 0.5v-2.8l.5-7.1v9.9l.5 0v-11.8l.5-4.6v5.8l.5-3.6v-7.4l.5 0.6v11.2l.5-1.4v-10.2l.5-0.2v7l.5 2.7v-6.4l.5 4.8v9l.5-3.9v-2.2l.5-14.5v19.9l.5 2.6v-15.1l.5 11v6.1l.5-0.9v-8.9l.5 0.5v8.8l.5-0.9v-8.4l.5 1.1v11.2l.5-1.9v-5.3l.5-4.7v10l.5-1.9v-10.2l.5-4.6v14.2l.5 2.5v-18.2l.5 6.7v11.5l.5 0v-8l.5-12.5v13.3l.5 0.2v-13.9l.5 5.2v6.4l.5-1.4v-11l.5-0.8v7.2l.5-3.1v-5.1l.5-1v4.3l.5-4v-3.5l.5 0v2l.5 0.1v-2.6l.5-0.5v1.1l.5 0.7v-2l.5 1.5v1l.5 1.8v-3l.5-0.1v2.1l.5 2.6v-3.5l.5-4.6v7l.5-0.6v-1.7l.5-1.6v2.1l.5 1.1v-3l.5 1.7v2.2l.5-0.7v-4.4l.5-0.2v4.9l.5-0.4v-2.5l.5 1.5v2.4l.5 2.9v-6.1l.5 1.4v5.6l.5 7.8v-7.4l.5 12.4v29.6l.5-15.8v-5.7l.5 4.3v7.6l.5 4v-12.7l.5 3v9.2l.5 2.7v-7.6l.5 5.5v4.7l.5-0.4v-6.3l.5-2.5v3.5l.5 4.8v-6l.5 0.3v3.9l.5 2v-16.5l.5 11.2v5.6l.5-3.6v-6.5l.5 2.1v6l.5 1.2v-10.1l.5 1.7v6.1l.5-4.1v-7.2l.5 8.5v5.7l.5-1v-4.7l.5-2.8v4.3l.5 2.8v-3.2l.5-12.2v16.6l.5-2.9v-3l.5 0.8v6.7l.5-5.2v-5.5l.5 3.5v3.5l.5 2v-5l.5 1.2v3.8l.5-0.1v-3l.5-4.8v7.8l.5-2.5v-4l.5-0.2v3.9l.5 1.9v-15.3l.5 11.1v5l.5-2.8v-5.1l.5 0.5v7.3l.5-3.8v-8.5l.5-0.3v3.6l.5 5.2v-9.8l.5 1.3v0.7l.5 5.7v-8.1l.5 0.2v8.9l.5 4v-17l.5 0.5v7.2l.5 4.5v-9.9l.5 1.2v8.9l.5-4.8v-7.8l.5 2.4v7.1l.5 2.6v-7.6l.5 1.8v6.5l.5-2v-7.9l.5 5.6v6l.5 3v-14.2l.5-0.8v7.6l.5 7.3v-10l.5-1.1v7.5l.5-4.7v-8.5l.5 1.2v13.8l.5-1.4v-9.7l.5-1.3v6.3l.5-2.1v-7.9l.5 4.5v7.9l.5-9v-3.5l.5 2.6v4.5l.5 1.3v-3.1l.5-3.4v14.1l.5-5.9v-4.5l.5 3.5v6.1l.5 0.4v-3.8l.5-8.9v10.2l.5-3.3v-2.5l.5 2.1v5.8l.5-2.4v-6.2l.5-4.7v7.7l.5-0.4v-9.2l.5-0.6v6.8l.5 3.4v-2.4l.5-2.5v11.8l.5-5.6v-8l.5-0.2v11.4l.5-2.2v-4.6l.5-5.5v9.6l.5-1.5v-11.3l.5 4.4v5.8l.5 5v-4.6l.5-3.3v11l.5-2.9v-3.5l.5-5.7v9l.5-0.5v-9l.5 1v8.7l.5 1.7v-6.8l.5-0.7v8.5l.5-0.1v-3.1l.5-9.7v9.9l.5 1.7v-8.4l.5-3.7v7.9l.5 3.2v-6.3l.5 4.7v3.7l.5-3.5v-6.7l.5-3.9v14l.5-5.5v-6.7l.5-6v13.9l.5-3.1v-4.1l.5 0.6v7.8l.5-0.7v-14l.5 2.6v7.5l.5 5.1v-22.3l.5 2.4v20.6l.5-8.4v-10.9l.5-8.5v13.7l.5-2.3v-1l.5 1v9.1l.5 0.6v-14.7l.5-0.9v15.3l.5-4.7v-10.7l.5 6.9v5.8l.5-1.1v-5.7l.5-4.4v6.7l.5 10.9v-11.8l.5-1.3v6.3l.5-4.5v-8l.5 4.1v12l.5-3.1v-7.4l.5 1.4v6l.5 1.6v-9.6l.5 2.2v8.7l.5-2.4v-7.7l.5 2.1v8.4l.5-0.1v-4.5l.5 1.9v3.2l.5-1.3v-3.7l.5-2.4v5.9l.5-2.3v-8.2l.5 5.2v2.9l.5 0.9v-4.4l.5 1.9v2.7l.5-1.8v-8l.5-1.4v6.8l.5 2v-9.4l.5-2v4.2l.5 1.3v-7.7l.5 4.7v15.1l.5-12.2v-4.5l.5-8.3v12.3l.5-1.2v-5.7l.5 0.9v9l.5-3.1v-8.5l.5 1.6v6.1l.5 2.4v-9.6l.5 6.4v5.8l.5 1.8v-6.7l.5-2.4v6l.5-1.4v-3.6l.5 0v5.8l.5 0.5v-8.8l.5 1.2v11l.5-6v-3.6l.5-2.2v8.5l.5-2.7v-7.9l.5 6.3v3.3l.5 1v-8.9l.5 4.2v2.8l.5 4.9v-4.6l.5-2.8v5.9l.5-1.2v-0.4l.5-6.1v9.1l.5-0.8v-8l.5 5.8v2.9l.5-2.5v-6.8l.5 2v5.9l.5 1.2v-5.2l.5-5.5v8.6l.5-3.8v-4.4l.5-2.1v4.4l.5 4.5v-5.5l.5-3.2v6.1l.5 2v-5.8l.5 0.3v9.4l.5-2.7v-14.3l.5 3.9v10.6l.5 2v-11l.5-7.4v8l.5 4.1v-9.7l.5 1.6v4.3l.5 2.6v-10.9l.5 1.9v9.8l.5 6.8v-13.4l.5 6.7v6.7l.5-3.7v-5.4l.5-1.1v5.9l.5-0.6v-7.5l.5-0.6v5.4l.5-1v-6.5l.5-3.7v8.8l.5 1.8v-8.5l.5 6.5v5.4l.5-1.7v-7.2l.5 3.3v8.3l.5-3.3v-8.7l.5 1v7.7l.5 1.7v-8.2l.5-0.4v11.5l.5 0v-6.9l.5-3.9v9.1l.5-3.7v-4.9l.5-2.5v6.8l.5-3.9v-7.4l.5-0.5v10.8l.5 0.1v-5.6l.5 5.8v4.1l.5-5.8v-3.3l.5 4v3.7l.5-5.7v-3l.5 4.1v5.7l.5 1.7v-5.3l.5-2.5v5.5l.5-3.4v-7.3l.5 0.6v8.8l.5-1.3v-7.1l.5-4.4v8.3l.5 2.7v-9.4l.5 5.7v6.8l.5-1.4v-9.6l.5 2.8v5.4l.5-3.9v-5l.5-2.9v7.5l.5-2.5v-5l.5 0v6.4l.5 2.4v-3.1l.5-5.3v16l.5-8.8v-7.6l.5 0.3v3l.5 11.7v-15l.5 3v4.7l.5 2.3v-7.4l.5 1.7v4.6l.5-4.5v-4.4l.5 4v5.8l.5 1.2v-7.5l.5 1v2.7l.5 1.3v-6.9l.5 4.8v7.9l.5-3.4v-4.3l.5 2.2v3.2l.5-3.7v-4.5l.5-0.2v8.4l.5-1v-10.6l.5 3.8v4.6l.5-2.7v-5l.5 2.1v6.3l.5-2.5v-7l.5 0v5.3l.5-0.4v-3.9l.5-1v7.1l.5-1.1v-5.7l.5 0.1v10.5l.5-0.6v-9.1l.5 8.7v9.5l.5-7.2v-4.1l.5-7.5v11.9l.5 0.5v-5l.5 1.5v3.6l.5 0.6v-3.3l.5-0.7v4.7l.5 0v-2.7l.5-3.7v6.3l.5-2.4v-5.1l.5 0.2v3.4l.5 2.9v-10.9l.5-1.4v4.9l.5 3.3v-7.1l.5 3.9v3.6l.5 2v-4.5l.5-2.3v3.6l.5-1.3v-2.2l.5-4v5.7l.5 3v-3.4l.5-0.9v2.5l.5 1.5v-3.9l.5 0.9v4.7l.5 1.6v-3l.5-1.4v5.2l.5-4.5v-3.8l.5 3v3l.5-2.2v-3.2l.5 1v4.5l.5-0.5v-3.9l.5-2.3v2.7l.5 1.4v-4.1l.5-2.5v3.5l.5 0.2v-4.1l.5 3v4l.5 1.8v-5.7l.5 1.9v4.7l.5 0.8v-5.2l.5-0.9v5.9l.5-3.4v-1.9l.5-2.6v5.8l.5-4.5v-3.4l.5-1.2v4.4l.5-0.6v-3.5l.5-1v7.7l.5-1.1v-5.6l.5 4.9v2.9l.5 0.3v-8.5l.5 6.6v5.3l.5-1.3v-4.5l.5-5.9v8.7l.5 5.3v-9.2l.5-1.4v5.3l.5 1.5v-7.5l.5 5.9v5.2l.5-7.8v-5.8l.5 0.4v7.2l.5 1.1v-3.4l.5-1.2v5.4l.5 4.3v-7.3l.5 1.8v7l.5-6v-2l.5-3.8v8.8l.5 0.4v-2.8l.5-2.6v4.3l.5-2v-9.7l.5 10.5v4.3l.5-3.3v-5.4l.5 1.3v7.4l.5-4.1v-6.8l.5-4.4v11.8l.5 2.5v-14.3l.5 6.6v11.4l.5-6.6v-4.1l.5 1v2.7l.5-3.1v-8.3l.5 8v5.9l.5 3.8v-8.3l.5-3.4v7l.5 0.7v-10l.5 3.2v3.4l.5 5.3v-5.9l.5 1.7v6.1l.5-3.8v-7.7l.5 4.2v8.2l.5 0v-4.3l.5-5.4v9.8l.5-0.3v-5.4l.5 0.3v5.6l.5-1.3v-5.3l.5-6.7v7.3" fill="none" stroke="#f00" stroke-width="1.1" stroke-linejoin="round" clip-path="url(#c1)"/>
<path d="M213.75 148.0v1.4l.5 0.3v-1.3l.5-0.2v1.1l.5-0.3v-0.4l.5-1.1v0.9l.5-1.4v-1.2l.5 1.4v3.4l.5-1.7v-1.2l.5-1.6v1.4l.5 0.5v-1.8l.5 0.3v1.5l.5-0.1v-1.4l.5-1.9v2.2l.5-0.7v-0.3l.5 0.5v0.7l.5 0.2v-1.5l.5-0.3v0.9l.5 0.2v-2l.5 1.3v0.7l.5-0.1v-0.9l.5-0.1v0.5l.5 0.8v-1.3l.5-0.1v0.8l.5 0.1v-0.5l.5-0.4v0.8l.5-0.4v-0.9l.5 0.1v0.5l.5-0.2v-0.6l.5-0.1v0.4l.5 0.2v-0.5l.5-0.7v0.9l.5 0.2v-1l.5 0.2v0.4l.5 1.2v-0.9l.5-0.2v0.5l.5-0.1v-0.9l.5 0.8v0.8l.5-0.6v-0.7l.5 0.1v0.7l.5-0.3v-0.3l.5 0v0.8l.5-0.3v-0.5l.5 0v0.6l.5-0.5v-0.3l.5-0.7v0.8l.5-0.1v-0.7l.5-0.2v0.2l.5 0.1v-0.4l.5-0.1v0.6l.5-0.2v-0.4l.5 0.1v0.6l.5-0.1v-0.4l.5-0.3v0.4l.5 0.1v-0.5l.5-0.1v0.4l.5 0.2v-0.4l.5-0.2v0.7l.5 0v-0.3l.5-0.3v0.7l.5 0.3v-0.6l.5 0.1v0.3l.5 0.5v-0.5l.5 0.3v0.4l.5-0.4v-0.4l.5-0.6v0.6l.5-0.2v-0.9l.5 0.4v0.7l.5 0.1v-0.5l.5-0.3v0.4l.5-0.1v-0.3l.5 0.2v0.8l.5-0.1v-0.4l.5 0.2v0.5l.5 0v-1.1l.5-0.4v1.9l.5-0.4v-0.4l.5 0.2v0.4l.5 0.2v-0.8l.5 0.1v0.7l.5-0.1v-0.6l.5-0.4v0.3l.5 0.5v-0.6l.5-0.8v1.2l.5-0.2v-0.7l.5-0.1v0.5l.5 0.4v-0.3l.5 0.1v0.6l.5 0v-0.5l.5-0.5v0.8l.5 0.4v-0.9l.5 0.1v5.4l.5-4.4v-0.5l.5 0.4v0.4l.5-0.1v-0.2l.5-0.7v0.8l.5-0.5v-0.4l.5 0.2v0.7l.5 0v-0.3l.5-0.3v0.6l.5-0.2v-0.8l.5-0.3v0.5l.5 0.1v-0.5l.5-0.6v0.9l.5-0.3v-0.4l.5 0.2v0.6l.5 0.3v-1.3l.5-0.5v0.8l.5 0.3v-1l.5 1v0.3l.5 0.3v-0.6l.5-0.9v1.1l.5 0v-1l.5 1v0.3l.5 0.3v-0.7l.5 0.1v0.8l.5-0.7v-0.6l.5 0.2v0.2l.5 0v-0.9l.5-1v0.7l.5-0.3v-0.4l.5 0.2v0.6l.5 0.5v-0.7l.5 0.1v0.7l.5 0.2v-0.6l.5 0.5v0.4l.5 0.5v-0.8l.5 0.3v0.5l.5-0.3v-0.4l.5 0.2v0.4l.5-0.5v-0.8l.5-0.5v0.7l.5-0.1v-0.6l.5-0.2v0.4l.5 0v-0.4l.5 0v0.3l.5 0.2v-0.3l.5 0v0.5l.5 0.3v-0.7l.5 0.2v0.5l.5-0.1v-0.8l.5 0v0.3l.5-0.3v0l.5 0v0.1l.5 0.4v-0.4l.5 0.5v0.3l.5 0.2v-1l.5 0.6v0.4l.5 0.1v-0.4l.5-0.5v0.5l.5 0.3v-0.5l.5-0.3v0.8l.5-0.1v-0.5l.5 0v0.4l.5 0.5v-0.6l.5-0.4v2.3l.5-2.2v-0.2l.5 0v0.1l.5 0.1v-0.2l.5 0v0.5l.5 0.3v-0.7l.5 0.1v7.4l.5-6.8v-0.6l.5 0.1v0.5l.5-0.2v-0.3l.5 0.1v0.3l.5 0.4v-0.5l.5 0.3v0.5l.5 0.1v-0.6l.5 0.4v0.3l.5 0.6v-0.4l.5-0.5v0.9l.5 0.3v-0.6l.5 1v0.6l.5 5.1v-5.4l.5-0.2v1l.5-0.3v-0.8l.5 0.2v0.5l.5 0.6v-0.7l.5 0.2v0.7l.5 0.1v-1l.5-0.2v0.8l.5-0.6v-0.6l.5 0.1v0.6l.5-0.1v-1l.5 0v0.6l.5 0.7v-0.8l.5 0.2v0.5l.5-0.2v-0.9l.5-0.3v0.6l.5 0.8v-0.7l.5-0.2v0.8l.5 0.6v-0.9l.5 0.3v0.4l.5-0.2v-0.1l.5-0.9v0.9l.5 6.7v-7.1l.5-0.2v1.1l.5 0.1v-0.3l.5 0.2v0.5l.5-0.3v-0.9l.5 0.3v0.4l.5-0.4v-0.6l.5-0.2v0.6l.5-0.9v-0.4l.5 0.4v0.9l.5 0.4v-1.2l.5 1v0.7l.5 0v-0.5l.5-1.2v1.7l.5-0.7v-0.7l.5-0.5v0.5l.5 0.2v-0.7l.5 0.1v0.8l.5 1v-1.1l.5 0.5v0.6l.5 0v-0.6l.5-0.1v0.7l.5 0.5v-0.9l.5-0.4v1.1l.5-0.6v-0.3l.5-0.3v1.3l.5 0.4v-0.9l.5 0.6v0.3l.5 0.5v-0.5l.5 0.2v6.7l.5-6.5v-0.5l.5 0v0.8l.5 0.2v-0.4l.5-0.3v0.5l.5 0.4v-0.7l.5-0.6v1.2l.5-0.9v-1.3l.5 0.5v2.4l.5-1.3v-0.7l.5 0v0.6l.5 0.2v-0.5l.5-0.2v1.3l.5-0.4v-1.6l.5 0.6v0.9l.5-0.1v-1.5l.5 0.8v0.4l.5-0.2v-0.8l.5 0v0.9l.5-0.1v-0.8l.5 0.5v0.8l.5 0.4v-0.4l.5 0v4.6l.5-4.3v-0.4l.5 0.2v0.2l.5 0.1v-1.1l.5 0.1v0.6l.5 0.9v-0.9l.5 0.5v0.8l.5-0.3v-0.6l.5 0.4v0.4l.5 0.6v-1.2l.5 0.3v0.9l.5-1v-0.5l.5 0.2v0.9l.5 0.5v-1.8l.5 0.9v0.4l.5 0v-0.6l.5 0.2v0.9l.5 0v-0.1l.5-0.6v0.7l.5-0.5v-0.7l.5-0.1v0.7l.5-0.7v-0.7l.5 0.7v0.5l.5 0.2v-0.5l.5-0.4v0.5l.5 0v-0.4l.5 0.5v0.8l.5-0.1v-0.8l.5-0.2v0.9l.5-0.2v-0.6l.5-0.2v0.1l.5 0.1v-0.4l.5-0.6v1l.5-0.4v-0.8l.5 0.5v0.4l.5 0.1v-0.8l.5 0.1v0.5l.5 0.1v-0.4l.5 0v0.5l.5 0.2v-0.5l.5-0.6v0.7l.5 0.1v-1.1l.5-0.2v0.8l.5-0.1v-0.5l.5-0.1v0.5l.5 0.2v-0.8l.5 0.7v0.3l.5 0.1v-0.7l.5 0v0.5l.5-0.1v-0.3l.5-0.5v0.4l.5 0.1v-0.4l.5-0.3v0.5l.5-0.4v-0.1l.5 0.4v1.1l.5-0.1v-0.5l.5 0.5v0.2l.5 0.4v-0.5l.5 0v0.4l.5-0.1v-0.9l.5 0.1v0.1l.5 0.2v-0.3l.5 0.1v0.5l.5-0.2v-0.5l.5 0.3v0.3l.5 0.2v-0.5l.5 0.1v0.5l.5 0v-0.6l.5-0.6v0.4l.5 0.1v-0.3l.5-0.4v0.5l.5 0.2v-0.6l.5-0.6v0.7l.5 0.2v-0.4l.5-0.2v0.4l.5-0.1v-0.3l.5-0.6v0.7l.5-0.3v-0.3l.5 0.1v0.4l.5 0.2v-0.3l.5 0.1v0.5l.5-0.1v-0.4l.5-0.2v0.4l.5 0.1v-0.5l.5 0.1v0.5l.5-0.4v-0.3l.5 0.1v0.2l.5-0.2v-0.3l.5 0v8.6l.5-8.3v-0.2l.5 0v0.7l.5 0.1v-0.5l.5-0.2v0.2l.5-0.1v-0.6l.5-0.7v0.7l.5 0.3v-0.5l.5-0.1v0.5l.5-0.3v-0.2l.5 0.2v0.9l.5-0.3v-0.7l.5-0.2v0.7l.5-0.1v-0.7l.5 0.3v0.3l.5-0.4v-0.4l.5-0.3v0.4l.5 0v-0.3l.5-0.2v0.7l.5 0.1v-0.9l.5 0.1v1.3l.5-0.3v-0.3l.5 0.4v0.5l.5 0.2v-0.3l.5-0.4v0.7l.5-0.6v-0.6l.5 0v0.5l.5 0.2v-1.1l.5-0.2v1.5l.5-0.2v-0.8l.5 0v1l.5 3.5v-4l.5-0.3v0.6l.5-0.3v-0.5l.5-0.7v1.1l.5-0.9v-0.6l.5-0.2v0.7l.5-0.2v-0.6l.5 0.1v1.2l.5 0.4v-0.8l.5-0.6v1.6l.5-0.8v-5.2l.5 5.7v0.5l.5-0.8v-0.2l.5-0.9v0.8l.5 0.1v-0.2l.5 0.1v1.1l.5 0.3v-0.5l.5-0.9v1l.5-0.5v-0.3l.5 0v0.7l.5 0v-0.7l.5 0.1v0.5l.5 0.2v-0.6l.5 0.1v0.5l.5 0.4v-0.8l.5 0.5v0.4l.5 0.6v-0.9l.5 0.6v0.3l.5 0.2v-0.6l.5 0.2v0.4l.5 0.1v-0.5l.5 0.2v0.2l.5-0.1v-0.1l.5-0.2v0.6l.5-0.1v-0.4l.5 0.2v0.2l.5-0.1v-0.4l.5-0.2v0.7l.5 0.2v-0.5l.5 0.4v0.4l.5 0v-0.4l.5 0.1v0.3l.5 0.1v-0.7l.5 0v0.3l.5 0v-0.4l.5 0.3v0.6l.5-0.3v-0.3l.5 0.2v0.3l.5-0.2v-0.4l.5-0.1v0.1l.5 0.1v-0.4l.5 0.3v0.1l.5 0v-0.2l.5-0.1v0.3l.5 0.4v-0.4l.5 0.2v0.4l.5-0.1v-0.4l.5 0.2v0.7l.5-0.4v-0.5l.5 0.4v0.3l.5-0.2v-0.3l.5-0.4v0.3l.5-0.4v-0.3l.5-0.1v0.4l.5 0.1v-0.3l.5 0.3v0.3l.5 0.2v-0.3l.5 0.2v0.3l.5-0.2v-0.4l.5-0.1v0.7l.5-0.3v-0.3l.5 0v0.5l.5 0v-0.2l.5-0.2v0.3l.5 0.1v-0.6l.5 0.6v0.2l.5 0.1v-0.3l.5-0.6v0.4l.5 0.3v-0.8l.5 0.3v0.4l.5 0.6v-0.5l.5-0.3v0.4l.5 0.3v-0.5l.5 0.2v0.2l.5 0.1v-0.4l.5 0.1v0.5l.5-0.1v-0.4l.5-0.1v0.5l.5 0.4v-0.8l.5 0.6v0.1l.5-0.1v-0.4l.5 0v0.7l.5 0.1v-0.4l.5 0.5v0.6l.5 0.1v-0.4l.5-0.3v0.7l.5-0.1v-0.4l.5-0.3v0.3l.5-0.2v-0.3l.5 0.3v0.3l.5 0.1v-0.4l.5-0.1v0.6l.5-0.1v-0.3l.5-0.2v0.5l.5-0.3v-0.4l.5 0.1v0.3l.5 0.2v-0.4l.5-0.6v0.4l.5 0.1v-0.5l.5 0.1v0.2l.5 0.1v-0.3l.5-0.5v0.5l.5 8.2v-8.5l.5 0v0.5l.5-0.1v-0.6l.5-0.1v0.3l.5-0.3v-0.3l.5 0.1v0.2l.5-0.1v-0.2l.5-0.2v0.3l.5-0.3v-0.3l.5 0v0.6l.5 0.1v-0.3l.5 0.1v0.2l.5-0.4v-0.1l.5-0.2v0.2l.5 0v-0.4l.5-0.4v0.5l.5 0v-0.2l.5-0.1v0.3l.5 0.6v-0.5l.5 0.2v0.3l.5-0.3v-0.5l.5 0.3v0.2l.5 0v-0.2l.5 0.4v0.2l.5 0.2v-0.4l.5 0v0.4l.5 0.2v-0.4l.5 0.4v0.2l.5 0v-0.3l.5 0.3v0l.5 0v0l.5-0.1v0.1l.5 0v-0.2l.5 0.1v0.1l.5 0v-0.3l.5 0.3v0l.5 0v0l.5 0v0l.5 0v0l.5-0.4v0.4l.5-0.2v-0.4l.5 0.2v0.1l.5-0.2v-0.6l.5 0.1v0.6l.5-0.2v-0.3l.5-0.1v0.4l.5 0v-0.4l.5 0.2v0.3l.5 0.3v-0.5l.5 0.3v0.2l.5-0.2v-0.4l.5-0.2v0.3l.5 0.2v-0.6l.5 0.1v0.2l.5-0.3v-0.2l.5 0.1v0.5l.5 0.2v-0.3l.5-0.1v0.2l.5-0.1v-0.2l.5-0.4v0.5l.5 0.2v-0.3l.5 0v0.2l.5-0.2v-0.3l.5 0.1v0.3l.5 0.2v-0.4l.5 0v0.5l.5-0.3v-0.2l.5-0.1v0.3l.5 0.1v-0.3l.5-0.2v0.2l.5 0.3v-0.4l.5 0v0.2l.5-0.1v-0.3l.5 0.1v0.5l.5 0v-0.3l.5-0.2v0.2l.5 0v-0.2l.5 0.1v0.2l.5 0v-0.4l.5 0.2v0.2l.5 0v-0.3l.5-0.4v0.6l.5-0.2v-0.5l.5 0.1v0.5l.5 0v-0.3l.5 0v0.4l.5 0v-0.5l.5 0.1v0.3l.5 0.1v-0.3l.5 0.2v0.3l.5 0.3v-0.4l.5 0v0.3l.5 0v-0.4l.5 0.3v0.3l.5-0.2v-0.2l.5-0.1v0.2l.5 0v-0.4l.5 0.2v0.4l.5 0v-0.4l.5 0.1v0.3l.5 0.2v-0.5l.5 0.3v0.5l.5-0.2v-0.2l.5 0v0.1l.5 0.8v-0.8l.5 0.5v0.3l.5 0.3v-0.4l.5 0.4v0.3l.5 0v-0.3l.5-0.1v0.4l.5-0.2v-0.7l.5 0.2v0.5l.5 0.1v-0.4l.5 0v0.3l.5 0.2v-0.4l.5-0.2v0.3l.5 0.1v-0.5l.5-0.1v0.4l.5 0.4v-0.3l.5 0.3v0.3l.5 0.3v-0.3l.5 0.1v0.3l.5-0.1v-0.4l.5 0.3v0.3l.5-0.3v-0.1l.5 0v0.5l.5-0.2v-0.4l.5-0.2v0.3l.5-0.3v-0.3l.5 0.1v0.1l.5 0.5v-0.4l.5-0.1v0.5l.5-0.1v-0.3l.5-0.5v0.8l.5-0.1v-0.5l.5 0.1v0.4l.5 0.1v-0.5l.5 0v0.4l.5 0.5v-0.8l.5 0.6v0.2l.5-0.1v-0.4l.5 0v0.3l.5 0v-0.3l.5-0.1v0.3l.5 0.1v-0.5l.5 0v0.2l.5 4.1v-4.2l.5 0.4v0.5l.5-0.2v-0.3l.5 0.2v0.3l.5 0.4v-0.6l.5 0.2v0.4l.5 0v-0.3l.5 0v0.5l.5 0v-0.5l.5 0.1v0.4l.5 0.2v-0.6l.5-0.3v0.9l.5-0.8v-0.3l.5 0v0.5l.5-0.1v-0.4l.5 0.1v0.3l.5-0.1v-0.3l.5 0v0.3l.5 0.1v-0.2l.5 0.2v0.4l.5 0.3v-0.3l.5 0v0.5l.5-0.4v-0.4l.5 0.1v0.2l.5 0v-0.2l.5-0.1v0.4l.5-0.1v-0.3l.5-0.1v0.5l.5 0.3v-0.6l.5-0.2v0.2l.5 0.3v-0.5l.5 0v0.3l.5 0.1v-0.3l.5 0.1v0.7l.5-0.2v-0.2l.5 0.3v0.2l.5 0.3v-0.7l.5 0.1v0.2l.5-0.1v-0.3l.5 0v0.5l.5-0.2v-0.3l.5 0.1v0.7l.5-0.1v-0.4l.5-0.3v0.5l.5 0.2v-0.5l.5 0.2v0.4l.5 0.3v-0.5l.5 0.1v0.4l.5 0.2v-0.4l.5 0.4v0l.5 0v0l.5 0v0l.5 0v-0.1l.5-0.6v0.5l.5-0.4v-0.3l.5 0v0.4l.5-0.2v-0.3l.5-0.1v0.3l.5 0v-0.7l.5 0.1v0.5l.5 0v-0.5l.5 0.2v0.2l.5 0.6v-0.8l.5 0.3v0.4l.5 0v-0.2l.5-0.2v0.4l.5-0.2v-0.5l.5 0.2v0.5l.5 0.2v-0.4l.5-0.2v0.6l.5-0.5v-0.4l.5 0v0.5l.5-0.2v-0.6l.5 0.4v0.3l.5 0.1v-0.5l.5-0.1v0.4l.5 0.5v-0.3l.5-0.7v0.8l.5 0.3v-0.5l.5 0.1v0.4l.5-0.4v-0.3l.5 0v0.3l.5-0.1v-0.4l.5 0.1v0.4l.5 0.9v-0.9l.5 0.2v0.2l.5-0.2v-0.4l.5 0.1v0.4l.5 0v-0.2l.5-0.1v0.3l.5-0.4v-0.3l.5-0.2v0.5l.5-0.5v-0.1l.5-0.3v0.6l.5-0.6v-0.1l.5-0.2v0.2l.5 0v-0.3l.5-0.1v0.2l.5 0.5v-0.7l.5 0v0.4l.5 0v-0.5l.5 0v0.3l.5 0.4v-0.6l.5-0.3v0.6l.5-0.2v-0.6l.5 0.2v0.5l.5 0.1v-0.9l.5 0.3v0.5l.5 0.4v-0.3l.5-0.3v0.8l.5 0.6v-1.2l.5-0.5v0.8l.5 0.2v-1.1l.5-0.2v0.9l.5-0.5v-0.3l.5-0.4v0.8l.5-0.2v-0.6l.5-0.5v0.7l.5 0.6v-0.9l.5-0.2v0.7l.5-0.2v-0.5l.5-1v1.1l.5 0v-0.8l.5-0.3v0.7l.5 0v-1l.5 0v0.8l.5-0.3v-0.7l.5-0.1v0.8l.5 0.4v-0.6l.5-0.4v0.7l.5-0.9v-0.3l.5 0.3v0.5l.5 0.6v-0.7l.5-0.5v0.8l.5-0.6v-1.1l.5-0.4v0.9l.5-0.9v-0.7l.5-0.1v0.1l.5 0.2v-0.4l.5 0v0.8l.5 0.4v-1.3l.5-0.3v0.8l.5 0.4v-1.1l.5 0.8v1.1l.5 1v-1.3l.5 0.9v0.6l.5 0v-0.9l.5 0.3v0.3l.5-0.1v-1.3l.5-0.6v0.5l.5 0.4v-2.3l.5-3.2v2.5l.5-3.1v-2.5l.5-0.3v1l.5 1.4v-1.5l.5-0.2v2.1l.5-0.5v-1.7l.5 1.7v1.4l.5 0.2v-1.7l.5-0.3v2.6l.5-0.9v-1.3l.5 0.7v0.5l.5-1.3v-3l.5 0.3v21.4l.5-17.5v-3.8l.5 1.3v0.6l.5 1v-1.7l.5-1.1v1.6l.5 1v-0.7l.5-0.2v1l.5 2.1v-1.8l.5-2.2v2l.5-1v-1.5l.5 1.2v1.3l.5 1.8v-3l.5 0.6v1.6l.5-0.2v-1.4l.5 0.9v2.1l.5-1.2v-0.5l.5-0.4v1.2l.5 0v-0.8l.5-0.8v1l.5 0.6v-1.3l.5-0.5v0.9l.5-0.4v-2.1l.5-0.5v0.7l.5 0.1v-1.5l.5 0.4v0.2l.5-0.6v-3l.5-4.6v3.4l.5-4.1v-2.5l.5-0.1v1.5l.5 0.4v-1.5l.5-0.1v1l.5-0.3v-0.8l.5-0.8v1.1l.5 1.3v-1.5l.5-0.6v1.6l.5-0.6v-1l.5-0.4v1.2l.5-0.3v-1.1l.5-0.8v1.9l.5-1.8v-1.6l.5-0.4v1l.5-0.1v-2.4l.5 0.1v1.5l.5 0.5v-1.4l.5 0.4v0.9l.5 0v-1l.5 0.9v0.6l.5 1.4v-1.5l.5-2.1v2.7l.5-0.6v-1.9l.5-0.1v1.6l.5 1.2v-0.9l.5-0.8v1l.5 1.2v-1.2l.5-0.1v1.2l.5 0.2v-1.9l.5 1v1l.5-1v-1.1l.5 1.8v1.2l.5 0.5v-1.3l.5 1.1v0.2l.5 0v-1l.5-1v1.1l.5 0.2v-1.1l.5 0.2v0.4l.5 0.3v-0.8l.5-0.2v0.5l.5 1v-1.6l.5 0.3v0.3l.5 0.4v-0.7l.5-0.1v0.6l.5-0.1v-0.8l.5-0.4v0.9l.5 0.1v-0.4l.5-0.3v0.4l.5 0.5v-0.9l.5 0v0.9l.5 0.1v-1l.5 0.5v1l.5 0.3v-0.9l.5 0.7v0.8l.5 0.9v-0.5l.5-0.4v1l.5 0.4v-1.2l.5-0.8v1.6l.5-0.1v-2l.5-0.5v1.3l.5-0.6v-1.4l.5 0.1v1.7l.5 0.8v-2.5l.5 1.1v3.5l.5 0.1v-1.3l.5-0.4v8.5l.5-6.7v-1.2l.5-1.1v1.7l.5-1.4v-0.9l.5 0.2v0.9l.5-0.2v-1.6l.5-0.7v1.1l.5-2v-1l.5-0.8v0.7l.5-0.3v-1.3l.5 0.2v0.5l.5-0.2v-0.9l.5 0.6v0.2l.5 0.5v-0.7l.5-1v1l.5-0.1v-0.3l.5 0.3v1.2l.5-0.5v-1.1l.5-0.3v1.3l.5-1.1v-0.6l.5 0.5v1.3l.5 0.1v-1.1l.5 0.8v1.1l.5 0.6v-1.7l.5-1v0.8l.5 1.1v-2.5l.5 0.7v1.8l.5-0.6v-0.9l.5-2.1v1.8l.5-1v-0.4l.5 0.8v2.3l.5-0.3v-2l.5 2.3v1.4l.5-1.3v-3l.5-2.7v2.6l.5 0v-3.4l.5 2.6v1.8l.5-0.3v-2.4l.5-0.2v2.4l.5 0v-2.1l.5-0.4v1l.5-1.8v-2.4l.5-1.1v3.8l.5-2.5v-15.8l.5 12.2v3.4l.5-1.4v-3.3l.5 0.7v2.1l.5-0.3v-3.5l.5 2.6v5.4l.5-3.2v-12.5l.5 12.5v2.6l.5-8.2v-6.5l.5-0.9v9.6l.5-2.5v-6l.5-3.7v7.2l.5 2.2v-10.1l.5 2.6v8.5l.5 3.3v-9.2l.5-4v2.9l.5 64.5v-66.2l.5 2.1v2.9l.5 12.2v-9.8l.5 10.7v4.3l.5-2.5v-8.5l.5 5.8v4.8l.5-2.3v-3.1l.5-1.6v11.2l.5-0.3v-6.3l.5 2v4.1l.5 4.5v-11.7l.5 2v7.6l.5 2.5v-13.9l.5-3.5v20.5l.5-1.1v-14.2l.5 9v4.7l.5 1.7v-12.9l.5 0.4v7.5l.5-5.1v-8.1l.5 2.5v11.4l.5 0.3v-7.5l.5-9.6v17l.5 3.5v-26l.5 10.9v12.2l.5-4.4v-14.6l.5 12.9v8.5l.5 8.5v-18.8l.5-0.2v13.3l.5-6.1v-9.8l.5 7.9v5.9l.5 1.2v-9.8l.5 3.5v4.7l.5 2.2v-5.4l.5 1.2v5.1l.5 1.4v-6.4l.5 0.4v5.1l.5-2.2v-2.6l.5 0.6v4.8l.5-0.7v-2.6l.5-0.8v2.9l.5 2.2v-3.2l.5 1.9v4.4l.5 0.5v-2.9l.5-0.9v2.7l.5-0.9v-4.2l.5 1.4v2.5l.5 2v-1.4l.5-0.3v0.9l.5 0.1v-2.3l.5 0.8v1.6l.5 0v-0.8l.5 0.1v1l.5 0.3v-0.6l.5 0.6v0.5l.5 0.2v-0.2l.5 0.5v1l.5-0.1v-0.4l.5 0.4v0.2l.5 0.2v-0.2l.5 0.3v0.2l.5 0.5v-0.5l.5 0.4v0.5l.5-0.1v-0.2l.5 0.2v0.4l.5 0.2v-0.3l.5 0.4v0.2l.5 0.6v-0.6l.5 0.3v0.2l.5 1v-0.7l.5 0.4v0.7l.5 0.2v-0.3l.5-0.1v0.7l.5 0.1v-0.6l.5 0.3v0.6l.5 0.2v-0.5l.5-0.4v0.6l.5 0.6v-1l.5 0.6v0.4l.5 1.7v-2.3l.5 0.3v0.5l.5 0.3v-0.7l.5 0.5v0.5l.5-0.6v-0.6l.5 0.3v0.4l.5 1v-0.6l.5 0.6v0.2l.5-0.2v-0.5l.5 0.1v0.6l.5 0.2v-0.7l.5 0.6v0.6l.5-0.1v-0.8l.5 0.1v0.4l.5-0.1v-0.8l.5 0.1v0.3l.5-0.4v-0.3l.5 0.3v0.6l.5-0.2v-0.6l.5-0.2v1l.5-0.1v-0.5l.5 0v0.5l.5 0.3v-1l.5 1v0.4l.5 0.9v-0.8l.5 0.4v0.4l.5-0.2v-0.2l.5 0.1v0.7l.5 0.2v-1.1l.5 0.1v0.2l.5 0.3v-0.8l.5 0v1.7l.5-1.1v-0.7l.5-0.8v0.8l.5-0.6v-1.3l.5-0.5v0.6l.5-0.7v-0.9l.5-0.8v0.7l.5 0.5v-1.3l.5 0.8v1.1l.5 0.7v-0.8l.5 0.9v2l.5 1.7v-1.3l.5 1.8v1.3l.5 0.7v-1.3l.5 1.5v1.2l.5 1.9v-3.2l.5-2.9v2.1l.5-1.3v-1.1l.5-2v1.1l.5-2.4v-0.6l.5-2.7v1l.5-1.9v-0.5l.5-1.9v1.9l.5-3.3v-1.9l.5-0.5v3.2l.5-2.3v-1.6l.5-0.6v0.7l.5 1.8v-1.6l.5 0.9v0.9l.5-0.7v-0.8l.5 0.5v1.2l.5-0.7v-1.3l.5-0.2v1.3l.5-0.5v-1.5l.5-1.1v1l.5 0.7v-0.6l.5-1.2v1.6l.5-0.1v-1.3l.5-0.9v0.6l.5 0v-1.1l.5-1.6v1.4l.5-0.2v-0.3l.5-0.5v0.8l.5-0.2v-0.2l.5-0.9v5l.5-3.2v-1.1l.5 0.8v0.8l.5-0.2v-1.9l.5-0.2v1.6l.5-0.2v-0.5l.5-0.7v1.1l.5-0.2v-0.8l.5-0.7v1.2l.5 0.8v-1.4l.5 1.4v0.8l.5-0.4v-1.3l.5 0.2v4.5l.5-3.9v-0.7l.5 1.8v2l.5-0.3v-1.4l.5 1.1v1.2l.5 1.5v-1.6l.5-0.1v1.1l.5 0.3v-2l.5 0.4v0.7l.5-0.3v-0.8l.5-0.4v2.3l.5-0.2v-0.6l.5 0.2v0.9l.5-0.2v-0.8l.5-0.5v1.5l.5-1.3v-0.6l.5-0.2v1.2l.5 0.2v-1.2l.5-1.3v1.1l.5 0.1v-1.5l.5 0.8v2.2l.5 0.5v-1.5l.5-0.3v1.5l.5-0.4v-0.9l.5 1.7v1l.5 1.3v-1.9l.5 2v0.8l.5 0.2v-1.2l.5 1.8v0.6l.5 0.6v-1.1l.5 0.1v1.5l.5 0.2v-0.7l.5 0.2v0.5l.5 0v-0.2l.5-1.2v1.1l.5 0.2v-1.1l.5-0.1v0.9l.5 0.2v-0.5l.5-2.2v2.3l.5-0.7v-1l.5-0.3v1l.5 0.3v-1.4l.5 0.7v0.8l.5 0v-0.9l.5-0.1v0.6l.5-0.4v-0.3l.5-0.9v0.8l.5 0v-1.3l.5 0.6v1.6l.5 0v-1l.5 0.2v0.8l.5 0.3v-0.4l.5 0.4v0.7l.5-0.1v-0.9l.5 0.9v1.3l.5 0.1v-0.5l.5-0.4v0.6l.5-0.2v-1.1l.5-0.3v0.4l.5 0.5v-0.7l.5-0.3v1l.5-0.3v-0.6l.5 0.8v0.6l.5-0.1v-0.7l.5 0.1v0.6l.5-0.3v-0.9l.5 0.2v0.8l.5-0.1v-1l.5-0.4v1.3l.5-1.7v-1l.5 0.1v1.2l.5-0.5v-1l.5 0.3v0.5l.5 0.4v-1.3l.5 0.4v0.4l.5 0v-0.5l.5-1.8v1.8l.5 0v-0.8l.5-0.6v0.3l.5-0.4v-1.9l.5-2.5v2.2l.5 1.5v-3.7l.5-0.4v4l.5 0.4v-5.2l.5-4.9v4.8l.5-4.2v-4.2l.5 0.6v7.6l.5 2.8v-10.8l.5 0.1v14.7l.5-2.8v-6.3l.5-1.9v4.9l.5 0.2v-6.8l.5-2.2v3.5l.5-1.9v-5.1l.5 1.5v8.5l.5 0.3v-7.3l.5-7.2v12.9l.5 1.2v-9.7l.5 3.5v6.5l.5 1.6v-7.3l.5 4.2v2.5l.5-0.7v-11.9l.5-0.7v10.7l.5-3.4v-2.5l.5-2.6v4.8l.5-2.9v-2.9l.5-1.1v4.5l.5 2v-6.1l.5 1.4v2.9l.5 7.1v-8.9l.5 2.4v5.6l.5-4.8v-2.8l.5 0.2v6.2l.5-3.8v-7.6l.5-1.1v7.8l.5 0.4v-3.7l.5-6.2v9.1l.5-0.3v-5.7l.5-0.4v6.8l.5 2.2v-6.3l.5 2.2v1.9l.5 5.6v-7.6l.5 6.3v4l.5-2.4v-2.6l.5 2.3v3.5l.5-1.5v-2.3l.5-4.2v5.5l.5 0.1v-4.1l.5 0v2.1l.5 1.2v-3.8l.5-0.6v5.6l.5 2.1v-2.9l.5-0.4v2.7l.5-0.6v-3.7l.5 1.6v2.2l.5 1.7v-4.1l.5 2v2.8l.5 0v-1.1l.5-0.5v1.1l.5-0.4v-2.7l.5-1.4v1.3l.5 1.5v-1.5l.5-0.7v2.2l.5-0.5v-1.8l.5 0.8v0.7l.5-0.9v-1.1l.5-0.2v0.9l.5-0.9v-1.8l.5-0.6v1.4l.5-0.7v-0.4l.5-0.4v1l.5-0.3v-0.6l.5-0.2v0.7l.5-0.6v-0.4l.5 0v1.8l.5 0.8v-1.2l.5 0.7v0.6l.5 1v-0.9l.5 0.4v0.9l.5-0.2v-1l.5 0.1v1.5l.5 0.6v-1l.5 0.5v0.9l.5 0.5v-1.2l.5-1v1.6l.5-1.3v-0.7l.5-0.4v0.5l.5-0.3v-0.6l.5 0.4v0.8l.5 0.8v-1.1l.5 0.1v1.5l.5 0v-0.7l.5 0.7v1.3l.5 0v-0.5l.5-0.2v1.2l.5-0.2v-0.5l.5 0.8v0.7l.5-0.3v-0.5l.5-0.9v1.1l.5-1.3v-0.9l.5 0.7v0.7l.5-0.3v-1.3l.5-0.3v0.7l.5 0.6v-0.5l.5 0.5v0.6l.5-0.3v-0.4l.5 0v0.7l.5 0.3v-1.2l.5 0.4v1.1l.5 0.6v-0.8l.5 0.5v1.3l.5 0.1v-0.9l.5 0.7v1l.5-0.6v-1.1l.5 0.2v1l.5 1v-1.8l.5 0.1v0.5l.5 0.2v-0.7l.5 0.6v0.5l.5-0.5v-0.2l.5-0.4v1.4l.5 0v-0.8l.5-0.3v0.7l.5-0.1v-0.6l.5 1v1l.5 0.2v-0.2l.5-0.8v0.6l.5 1.6v-1.9l.5 1.8v0.5l.5 0v-0.6l.5-0.5v0.9l.5-0.7v-0.6l.5 0.1v0.5l.5 0.2v-1.1l.5 0.1v0.6l.5-0.1v-0.9l.5 0.5v0.8l.5 0.3v-1.1l.5 0.7v1l.5 0.1v-0.7l.5 0.2v1.1l.5-0.8v-0.3l.5-0.3v0.7l.5 0.4v-1l.5 0.1v0.5l.5 0v-0.5l.5 0v0.3l.5 0.2v-1.3l.5 0.5v0.6l.5 0.8v-0.7l.5 0.2v1.4l.5-0.6v-0.7l.5-0.4v0.6l.5 0v-0.3l.5 0.6v0.5l.5 0.4v-0.9l.5 0v1.2l.5-0.3v-1l.5 0.3v0.7l.5-0.5v-0.9l.5 0.9v0.3l.5 0.6v-1.1l.5 0.2v1l.5-0.7v-1l.5 0.3v0.5l.5 0.4v-0.7l.5 0v0.7l.5-0.4v-0.3l.5-0.6v0.3l.5 0.1v-0.9l.5 0v0.3l.5 0.4v-0.8l.5 0.5v1.2l.5-0.6v-0.3l.5-0.6v0.9l.5-0.2v-0.9l.5-0.6v0.4l.5 0.4v-0.4l.5 0.2v0.3l.5-0.1v-0.4l.5-0.2v0.5l.5 0.1v-0.7l.5-0.1v0.4l.5 0v-0.6l.5-0.1v0.5l.5 0.3v-0.3l.5 0.2v0.5l.5-0.5v-0.7l.5-0.2v1.1l.5-0.3v-0.2l.5-0.1v0.9l.5 0v-0.8l.5-0.5v0.9l.5-0.4v-1.2l.5 0.3v0.8l.5 0.2v-0.6l.5-0.4v1.2l.5-0.1v-0.6l.5-0.6v0.9l.5 0.2v-0.9l.5 0v0.6l.5 0.6v-0.7l.5 0.5v0.5l.5 1v-1.1l.5-0.8v0.8l.5 1.4v-2.3l.5 0.8v1.3l.5-0.4v-1.4l.5 0.5v1l.5 1.1v-2.5l.5 0.1v2.6l.5 5v-7.2l.5-2.6v3.5l.5-1.6v-2.8l.5-0.1v1.8l.5 0.1v-1.3l.5-2.1v1.1l.5-0.9v-0.7l.5-1.6v1.4l.5-1.3v-1.3l.5-0.2v0.8l.5 1.2v-1.7l.5 1.1v1l.5 0.2v-1.4l.5 1.1v1.4l.5-0.1v-1l.5-0.9v1.9l.5-0.1v-1.7l.5 3.3v0.8l.5 1.2v-3.4l.5 0.3v2.7l.5-0.3v-1.8l.5-1v2.8l.5-0.2v-1.4l.5-1v1.8l.5-1.2v-2.1l.5-0.3v2.3l.5 0.8v-1.7l.5 0.6v2l.5-0.4v-0.9l.5-1.4v1.5l.5 1v-1.8l.5 0.7v1.6l.5-0.2v-1.2l.5 0.1v1.4l.5-0.2v-0.9l.5-1.1v1.9l.5-1.3v-1l.5 0.5v1l.5 0.3v-0.9l.5 0.7v0.5l.5-0.6v-0.9l.5 0.8v0.6l.5 0.2v-0.9l.5-0.2v0.7l.5-0.5v-0.6l.5-0.1v0.7l.5 0.1v-1.1l.5 0.8v1.1l.5 0.3v-0.2l.5-0.3v0.7l.5 0v-1l.5 0.3v0.5l.5 0.3v-0.8l.5 0.1v0.4l.5 1.4v-0.9l.5-2.4v2.9l.5 0.4v-1.1l.5 0.6v0.8l.5-0.2v0l.5-0.5v0.6l.5 0v-1.3l.5 1v0.6l.5 0.2v-1.1l.5 0.4v1.2l.5 0.1v-0.7l.5-0.3v1.1l.5 0.2v-1.1l.5-0.2v0.3l.5 0v-0.5l.5 0.4v0.5l.5 0.8v-1.1l.5 1v0.8l.5 0.1v-0.7l.5 0.1v0.7l.5-0.1v-0.8l.5 0.6v0.5l.5 0.3v-1.1l.5 0.3v0.8l.5-0.1v-1.1l.5 0.4v0.6l.5 2.2v-2.3l.5 0.5v1l.5-0.3v-0.5l.5-0.3v0.8l.5-0.4v-0.8l.5 0.1v0.7l.5-0.6v-0.9l.5 0.1v0.6l.5 0.7v-0.7l.5-0.2v1.1l.5 1.2v-1l.5 0.5v1l.5-0.1v-0.5l.5 0v0.8l.5-0.2v-1.3l.5 0v0.6l.5-0.2v-1.1l.5 0.7v0.9l.5-0.1v-0.7l.5 0.9v0.5l.5 0.2v-0.7l.5-0.3v0.8l.5 0.9v-1l.5 0.2v0.6l.5 0.1v-1.2l.5-0.3v0.9l.5-1.1v-0.6l.5 0.8v0.4l.5 0.5v-0.4l.5-0.6v1l.5-0.7v-0.4l.5-0.8v0.9l.5-0.4v-0.5l.5 0v0.7l.5 0.3v-0.8l.5 0.1v0.7l.5 0.4v-0.6l.5-0.7v1.3l.5-1v-0.3l.5-0.1v0.6l.5 0v-0.6l.5 1.1v0l.5 0.6v-0.4l.5 0.7v1.8l.5 1.4v-1.1l.5 1.2v0.6l.5 1v-1.1l.5 1.1v1.3l.5 0v-0.2l.5 0v0.1l.5 0.2v-1.4l.5 0v0.5l.5 0.2v-1.2l.5-0.8v1.1l.5 0.4v-0.8l.5 0.1v0.9l.5 0.1v-1.3l.5 0.3v1.1l.5 1.2v-1.8l.5-0.1v3.4l.5-1.9v-1.8l.5-1.2v2.4l.5-0.2v-1l.5-0.4v1l.5-0.1v-1.4l.5-0.1v2l.5 0.1v-0.7l.5-0.9v1.7l.5 0.7v-1.3l.5 0v1.2l.5 0.1v-1.1l.5 0.2v1.3l.5-0.4v-0.6l.5-0.2v1l.5 5.5v-7.5l.5 0.9v1.4l.5-0.5v-1.1l.5 1v1l.5 0.9v-1.5l.5-1.9v0.8l.5 0.2v-1l.5-0.2v0.8l.5-0.2v-0.5l.5 0v0.4l.5 0.9v-1.2l.5 0.1v1l.5-0.8v-0.2l.5 0.1v0.8l.5 1.3v-1.2l.5-0.6v1.1l.5 0.5v-1.2l.5-0.2v0.6l.5 0.6v-1.5l.5 1.1v0.7l.5 0.3v-0.6l.5-0.2v1.6l.5 0.4v-1.1l.5 0.3v1.3l.5 0.4v-1.2l.5 0v1.1l.5 0.4v-0.5l.5-0.5v0.9l.5 0.6v-1.6l.5-0.4v0.9l.5 0v-0.7l.5-0.5v1l.5 5.2v-5.5l.5-0.3v0.9l.5 0.4v-1l.5-1.5v3l.5 0.9v-1.5l.5-0.2v1.4l.5 0v-1.2l.5-0.4v1.5l.5-1.1v-0.7l.5-0.8v2l.5-0.9v-1.6l.5 1.9v0.7l.5-0.3v-1.2l.5-0.6v0.9l.5 0.9v-0.8l.5 0.2v0.8l.5-0.2v-0.9l.5-0.4v0.6l.5 0.4v-2.1l.5 1.1v1.2l.5-0.6v-0.7l.5-0.2v1.2l.5-0.9v-0.8l.5 0.1v0.9l.5 0.3v-0.6l.5-0.5v0.5l.5-0.5v-0.8l.5 0.3v1.6l.5-0.7v-1l.5-0.3v0.8l.5 0.6v-1l.5 0.5v1.6l.5 0.4v-0.9l.5 0.5v1l.5-0.4v-0.4l.5 0.3v0.4l.5 0.3v-0.8l.5-0.8v1.4l.5-1.1v-0.6l.5-0.1v0.5l.5 0.2v-0.6l.5-0.2v1.1l.5-0.3v-0.9l.5 0.6v0.6l.5 0.3v-0.6l.5-0.1v0.8l.5 0.3v-0.7l.5 0.2v0.6l.5-0.1v-0.5l.5-0.2v0.7l.5 0.2v-0.8l.5 0.1v0.7l.5-0.4v-0.5l.5-0.5v1l.5-0.3v-0.5l.5-0.1v0.7l.5 0.5v-0.7l.5 0.3v0.5l.5 0v-1l.5-0.1v0.2l.5 0v-0.6l.5-0.4v0.7l.5 0.3v-1.1l.5 0.5v0.7l.5-0.1v-0.3l.5-0.1v1l.5-0.3v-0.7l.5 0.2v0.4l.5-0.1v-0.8l.5 0.3v0.6l.5 0.2v-0.7l.5-0.2v0.6l.5-0.6v-0.4l.5-0.1v0.7l.5-0.1v-2.1l.5 1.5v1.1l.5-0.5v-0.7l.5-0.1v0.5l.5-0.2v-0.2l.5-0.5v0.6l.5 0.6v-0.5l.5 0.2v0.3l.5 0.2v-1.1l.5-0.3v0.8l.5-0.4v-0.8l.5 0.1v0.4l.5-0.2v-0.9l.5 0.1v0.7l.5 0.5v-0.7l.5-0.4v0.6l.5 0.3v-0.7l.5 0.8v0.8l.5-0.1v-0.9l.5-0.8v0.9l.5 0.6v-0.9l.5-0.1v0.7l.5 1.3v-1.6l.5-0.5v0.7l.5 0v-0.6l.5-0.3v0.7l.5-0.7v-1l.5 0.1v1.1l.5 1.1v-1.9l.5-0.1v1.5l.5-0.8v-0.5l.5 0.1v1.7l.5 1.4v-2.2l.5 1.1v0.9l.5-0.7v-1.2l.5-0.3v0.8l.5 0.1v-0.9l.5 0v1.7l.5 0v-1.5l.5 1.3v0.6l.5 0v-1.3l.5-0.1v0.8l.5 0.2v-1.7l.5 0.3v2.4l.5 0.8v-1.5l.5-0.7v1l.5-0.2v-1.1l.5-0.3v1.1l.5 0v-1.3l.5 0.2v0.4l.5 0.5v-1.5l.5 1.1v1.2l.5 1.1v-1.1l.5 0.7v0.3l.5 0.5v-1l.5 0.8v0.6l.5-0.1v-1.1l.5 0.6v0.8l.5-0.3v-0.8l.5 0.1v0.6l.5 0v-0.9l.5 1.4v0.4l.5-0.1v-0.5l.5 0.2v0.4l.5 0v-0.1l.5-0.5v0.6l.5 0v-0.7l.5 0.1v0.6l.5 0v-0.8l.5 0v0.5l.5-0.6v-0.6l.5-0.1v1.5l.5-1v-1l.5 0v1l.5 0.9v-1.6l.5 0.6v1.1l.5-0.6v-0.8l.5 0.4v1l.5-0.5v-3.3l.5 1.7v0.9l.5 0.2v-1.1l.5-0.2v1l.5 1v-1.6l.5 1.2v0.7l.5-0.8v-0.3l.5-2.4v2l.5-2v-0.7l.5-0.3v1l.5-0.1v-0.3l.5-0.5v1l.5-0.4v-0.7l.5 0.8v0.8l.5 0.1v-1.1l.5 0.3v1.1l.5-1.1v-0.8l.5 0.3v1l.5 0.4v-0.9l.5-0.9v1.9l.5-0.8v-1l.5 0v1.3l.5 0.3v-1l.5 0.7v1.2l.5-0.3v-0.9l.5-0.1v0.8l.5-0.7v-0.9l.5-0.7v1.4l.5-0.8v-0.7l.5 0.3v1.1" fill="none" stroke="#000" stroke-width="1.3" stroke-linejoin="round" clip-path="url(#c1)"/>
<path d="M214.25 317.7v2.6l.5 1.2v-4.4l.5-1.5v5l.5 0.1v-2.3l.5-0.2v2.7l.5 0.6v-2.7l.5-2.2v4.4l.5-1.7v-3l.5 1.5v5.2l.5-1.9v-2.6l.5 2v1.2l.5 1.3v-3.7l.5 4.9v1.4l.5-0.9v-3.2l.5 2v2.4l.5 1.4v-3l.5-4.9v5.2l.5 0.1v-2.7l.5-1.4v1.3l.5 3.4v-2.7l.5 0.2v2.4l.5 0.6v-0.8l.5-0.6v3.4l.5 0.1v-3.8l.5 0.8v6l.5 0v-10.6l.5 9.7v0.9l.5 0v-4.2l.5 1v2.4l.5 0.2v-4.3l.5 1.9v1.8l.5-1.3v-4.1l.5 0.7v2.5l.5 1.2v-3.9l.5 0.3v5.5l.5-0.3v-4l.5 0.1v4.2l.5-1.2v-2.9l.5-1.8v2.5l.5-0.2v-1.6l.5 1.5v1l.5 0.3v-3.8l.5-2.4v3.1l.5 2.7v-1.2l.5 1.5v1.8l.5-1.8v-1.9l.5-0.2v3.2l.5-0.6v-1.9l.5-2v3.5l.5 0.6v-2.6l.5-1v5.3l.5 0.4v-2.6l.5-0.5v3.1l.5-0.9v-2.9l.5 0v3.7l.5-0.1v-1.3l.5-3.3v3.7l.5 0.6v-2.7l.5-1.5v4.6l.5 0.1v-2l.5-8.3v8.4l.5 1.9v-2.1l.5-4v3.9l.5-1.5v-2.6l.5 0.8v1.9l.5 0.1v-2l.5-2v1.3l.5-0.8v-1.2l.5 0.7v2.6l.5 3v-2.2l.5 0.4v1.9l.5-1.2v-2.6l.5 0v2.1l.5-0.2v-2l.5-4.5v4.4l.5-0.5v-3.8l.5 0v1.8l.5 0.2v-2.8l.5-0.3v1.7l.5-1.5v-0.2l.5 0v0l.5 2.8v-2.8l.5 0.2v2.5l.5 0.9v-3l.5 1.1v2.6l.5-0.9v-2.3l.5 2.4v1.6l.5 0.1v-2.4l.5-2.8v10.3l.5-7.3v-2.9l.5-0.1v1.1l.5-1.1v0l.5 0v1l.5 2.5v-3.5l.5 1.3v3.3l.5 3.9v-4.2l.5-0.3v2.4l.5 2.2v-4.3l.5-0.2v4.3l.5-2.6v-4.7l.5 1.5v3.8l.5 0.1v-1.5l.5-4.5v7.4l.5 0.7v-2.4l.5 2.3v2.1l.5-1.5v-2.9l.5-0.5v2.3l.5-0.2v-3.2l.5-1.8v1.8l.5 0.9v-5.5l.5 4v3.4l.5-2.2v-1l.5-2.5v5l.5 0.2v-2.3l.5-1.2v3.3l.5 2.4v-2.2l.5-2.8v4.5l.5 1.8v-3.1l.5-2.2v3.6l.5-2.4v-1.8l.5 0.9v4.5l.5-0.7v-3.3l.5-0.6v1.5l.5 1.2v-3.7l.5-0.1v3.2l.5 0.6v-6.6l.5 0.4v3.5l.5-2v-5.1l.5 0.5v3.9l.5-1.2v-4.6l.5-0.2v7.9l.5-3.2v-6.4l.5 2v2.9l.5 6.2v-6.7l.5-2.7v3.7l.5-0.6v-7.9l.5 0v9.7l.5 0.8v-3.7l.5-3.3v11.3l.5-2.9v-5.3l.5-6.6v13.9l.5-3.2v-10.7l.5 9.1v3.2l.5 5.1v-8.7l.5 1.4v2.3l.5-1.3v-7.4l.5 4.3v2l.5 2.9v-3.2l.5-3.7v5.8l.5 2.4v-7.6l.5-2.6v5.3l.5 3.9v-9.1l.5-0.3v12l.5-5.5v-4.1l.5-2.2v7.7l.5-0.9v-3.1l.5 1.3v6.5l.5 1.6v-8.2l.5-2.5v5.2l.5-0.6v-8.8l.5-0.4v8.6l.5-5.5v-4.9l.5 0v5.3l.5 5.2v-7.6l.5 0.7v10.3l.5 2.1v-14.9l.5 7v3.3l.5 2.9v-9l.5 0.4v7.1l.5 5.3v-6.8l.5-0.9v9.1l.5-5.9v-4.5l.5-1.5v4.5l.5 3.7v-8.7l.5-3.8v6l.5 1v-7.1l.5 0.1v6.2l.5 1v-10.5l.5 0v2.9l.5-1.6v-1.3l.5 0.2v10.6l.5-5.8v-5l.5 1.5v7.3l.5-0.1v-8.7l.5 0.9v9.5l.5 0.2v-5.7l.5 2.7v5l.5-0.8v-6.7l.5 5.1v6.9l.5-2.9v-8.2l.5 1.2v3.4l.5 0.1v-1.7l.5-1.1v5.5l.5-2.6v-10.8l.5 10.4v4.7l.5 0v-8.9l.5 5.8v3.8l.5 3.2v-9.7l.5-4.3v7l.5 2.4v-6.2l.5-3.9v7.9l.5-2.6v-8.7l.5 8.7v8.6l.5-7.2v-4.5l.5 1.7v7.7l.5-3.7v-10.9l.5-0.1v11.4l.5-8.7v-3.9l.5 0v11.8l.5-1.7v-9.9l.5-0.2v8.6l.5 6.6v-9.9l.5 1.1v11.8l.5-5.6v-5.5l.5 2.4v8l.5-2.3v-4.5l.5 0.1v5.2l.5-0.4v-5.5l.5-2.6v10.4l.5-4.7v-4.5l.5-8.6v13.3l.5-6.7v-6.7l.5 1v8.6l.5 2.1v-5.3l.5 1.3v7.5l.5 1.6v-8.6l.5-0.1v8.3l.5 3.4v-0.7l.5 1.2v0l.5 0v-12.6l.5 0.9v4.5l.5 1.8v-9.2l.5-5.3v7.3l.5 5.3v-7.1l.5-2v8.3l.5 6.9v-9l.5 2.7v7.6l.5-2.4v-7.8l.5-4.3v5.5l.5 0.5v-9.5l.5-2.4v9.6l.5 2.4v-7.8l.5 2.9v7.6l.5-5.4v-4.4l.5-1.1v6.6l.5-0.9v-9.5l.5 0v9.2l.5-0.5v-2.7l.5 0.4v8.6l.5-3.4v-7.9l.5 6.9v10l.5-2v-8.5l.5-3.3v9.9l.5 4v-8.7l.5-4.2v8.9l.5-2.8v-4.1l.5 6.3v4.5l.5 0.1v-7l.5-7v10.8l.5 0v-8.6l.5-5.2v11.3l.5-0.4v-12.5l.5 4.7v10.9l.5-2.8v-10.1l.5 7.3v2.7l.5 1.7v-5.7l.5-2.3v4l.5 6.2v-7.6l.5-0.2v8.9l.5 0.8v-11.9l.5-2.9v5.1l.5-0.7v-7l.5-0.9v11l.5-5.9v-7.1l.5-0.3v6.4l.5 1.3v-7.7l.5 1.2v15l.5-9.9v-5.7l.5 4.1v5.8l.5 5.5v-6.9l.5 2.6v3.5l.5 1.6v-4.3l.5 0.6v5.1l.5 2.6v-2.1l.5-3.2v4.9l.5-1v-3.8l.5 0.9v1.7l.5 0.9v-1.8l.5 0.8v1.7l.5-1.2v-6.8l.5 5.5v1.6l.5 0.8v-3.6l.5 0v1.2l.5 1.6v-3.2l.5-1.6v4.3l.5-1.3v-1.6l.5-0.3v3.8l.5 1.7v-2.1l.5-1.2v2.7l.5 0.6v-1.9l.5-0.5v2.3l.5 0.1v-1.4l.5-3.4v3.9l.5-1.9v-0.5l.5 1.4v1.2l.5 0v-1l.5-1.4v1l.5-2.2v-1l.5-0.1v1.7l.5 1v-2l.5 0.2v1.1l.5 1.3v-1.7l.5 2v1.4l.5 0.4v-1.4l.5-2.1v1.9l.5-1v-2.4l.5 1.7v3.1l.5-0.1v-2l.5-1.4v3l.5 0.1v-4.8l.5 2.1v1.2l.5 0v-1.5l.5 0.6v1.9l.5-0.7v-4.8l.5 1.2v5.3l.5-1.4v-0.7l.5-0.4v1.9l.5 0.7v-3.4l.5 0v1.6l.5 1.1v-2.9l.5 0.6v2.3l.5-1.1v-1.5l.5-1.7v1.1l.5 0.5v-5.1l.5 3.5v1.2l.5-1.2v-2.5l.5 1.2v2.3l.5 0.4v-2.6l.5 1.5v2.3l.5-0.3v-3.2l.5 1.6v1.9l.5 0.7v-2.2l.5-5v7l.5-1.1v-6l.5 3.3v2.1l.5-0.1v-0.7l.5-2.4v3l.5-0.8v-1.9l.5 1.4v1.2l.5-1.8v-2.6l.5 1.7v1.8l.5 2.4v-3.3l.5 1.6v1.1l.5 1.9v-3.6l.5-0.6v1.6l.5 1v-2.9l.5-0.2v3.4l.5-0.2v-3.7l.5 0.3v1.3l.5-0.3v-1l.5-0.1v1.6l.5 0.4v-2.3l.5 0.2v1.2l.5 0.8v-3.3l.5 0.1v2.7l.5-0.3v-1.9l.5 2.5v2.6l.5-0.2v-2.8l.5-2.5v4.4l.5-4.4v-1.8l.5 0.1v3.1l.5 1.6v-3l.5-1.2v4.8l.5-1.3v-1.7l.5-0.4v3.5l.5 0.3v-4.1l.5-1.2v1.3l.5 1.7v-2.6l.5 1.6v1.8l.5 0.4v-2.5l.5 0.4v1.6l.5-0.5v-2.3l.5-0.9v4.6l.5 0.7v-2.3l.5-1.8v2.7l.5-0.9v-3.2l.5-0.6v3.8l.5-0.7v-1.2l.5 1.2v2.8l.5 0.6v-2l.5-0.1v2.5l.5-1.3v-1.8l.5-2.6v3.9l.5-1.5v-1.8l.5 0.1v1.6l.5 2.1v-3.8l.5-0.2v1.9l.5 0.7v-1.5l.5 0.1v1.2l.5 0.7v-3.9l.5 0.6v1.7l.5 0.1v-2l.5 1.3v1.1l.5-0.8v-2.1l.5-0.7v2l.5 2.7v-2.8l.5-0.3v2.5l.5 0.2v-3.8l.5 1.7v2.8l.5-2v-1.8l.5-1.1v2.2l.5-1.2v-1.1l.5 0v0.9l.5 0.6v-1.5l.5 0v2.4l.5-1.1v-1l.5 1.7v1.9l.5-2.5v-1l.5 0.8v1.7l.5-1.2v-1.2l.5 0.4v3.7l.5 1v-3.2l.5 2v0.9l.5 0.5v-2.3l.5 0.7v1.9l.5-2v-1.1l.5-3v3.5l.5-1.6v-1.9l.5 2.4v1.7l.5 0.4v-0.6l.5-3.1v3.1l.5-0.1v-2.2l.5 2.1v1.2l.5 0.4v-5.1l.5 4.9v2.5l.5 0.4v-2.2l.5 0.5v0.7l.5-0.9v-2.3l.5 1.5v1.3l.5-0.4v-1.2l.5-0.5v2.4l.5 1v-3.2l.5-0.1v2.7l.5 1.1v-2.1l.5-1.1v1.9l.5 0.2v-2.5l.5 1v2l.5 0.5v-4.7l.5 1.7v1.3l.5-2.4v-0.9l.5-1.1v1.4l.5 1v-1.4l.5-0.7v1.3l.5 2.1v-2.6l.5 0.5v2.7l.5-2.1v-3.8l.5 1.7v1.9l.5 0.4v-2.1l.5 1.4v2.5l.5-1.5v-1.7l.5-0.7v1.9l.5 3.5v-7.3l.5 0v4.9l.5-0.4v-1.7l.5-1v2.5l.5-0.9v-2.2l.5-0.3v2l.5 0.1v-2.3l.5 0.2v3.4l.5-1.2v-2.2l.5 2.3v1.3l.5 2.5v-2.5l.5 1.3v1.6l.5-0.5v-2.2l.5 0.1v1.1l.5-0.6v-1.4l.5-2.1v2.6l.5-0.5v-0.7l.5-2.1v2.5l.5 2.9v-3.3l.5 0.2v1.9l.5 0.9v-2.5l.5 0.4v1.6l.5 0.2v-0.9l.5-1.4v2l.5-0.6v-1.2l.5 0.7v1l.5 2v-1.9l.5 0.5v1.1l.5-0.3v-1.2l.5-0.4v0.9l.5 0.1v-0.6l.5-0.4v0.2l.5 0.6v-0.9l.5 0.2v0.7l.5 0.3v-0.5l.5-0.2v0.4l.5 0v-0.4l.5 0.2v0.7l.5 0.6v-0.9l.5 0.3v1.1l.5-0.8v-1.1l.5-0.7v0.8l.5-0.1v-0.7l.5 0.4v0.4l.5 0.3v-0.5l.5 0.3v1.5l.5-0.6v-0.8l.5-0.3v0.8l.5-0.4v-0.6l.5 0v0.5l.5-0.3v-0.7l.5 0.7v0.3l.5-0.2v-0.7l.5 0v0.4l.5 0.5v-0.9l.5-0.3v0.7l.5 0.3v-0.5l.5 0v0.3l.5 0.3v-0.3l.5-0.7v1l.5 0.5v-1.5l.5 1.6v0.4l.5-0.3v-0.5l.5 0.7v0.4l.5 0.2v-0.8l.5-0.2v0.9l.5-0.9v-1.2l.5 0v0.5l.5-0.1v-0.5l.5-0.2v1.2l.5-0.6v-2.3l.5-0.3v1.5l.5-0.1v-0.5l.5-0.4v0.6l.5 0.4v-0.8l.5-0.4v1.2l.5-0.5v-1.4l.5-1.4v0.6l.5-0.3v-1.2l.5-0.5v1.8l.5-1.3v-0.4l.5-0.8v0.6l.5 1.4v-2.6l.5 0.3v1.6l.5-0.4v-1.1l.5-0.8v1.2l.5-0.9v-1.2l.5 0.7v1.7l.5-0.7v-2.6l.5 2.7v0.8l.5 2.8v-3.9l.5 0.8v2.1l.5-1.4v-1.7l.5-0.2v2.4l.5 0.2v-2l.5 1.2v1l.5-0.2v-1.5l.5-1.2v1.4l.5 0.4v-0.9l.5-1.7v3.2l.5-0.7v-2l.5-2.5v2.6l.5-2.3v-1.7l.5 0.3v1.7l.5-0.6v-0.8l.5 0.9v0.7l.5 2.7v-3.1l.5-1.2v2l.5 2.8v-2.2l.5 1.7v2.3l.5-1.1v-2.9l.5 1.2v1.4l.5-1.2v-2.4l.5 0.8v2.5l.5 0.3v-1.8l.5 0.6v0.9l.5 1.1v-2.4l.5-0.3v0.8l.5-0.1v-1.1l.5 0.3v0.7l.5-1.6v-1.1l.5 1v1.1l.5-1.7v-2.6l.5 0.8v1.7l.5 2.1v-2.9l.5-4.1v6.3l.5 0.3v-3l.5 0.9v1.8l.5-1.3v-4.4l.5-1.4v2.1l.5 1.6v-2.9l.5 1.9v1.7l.5-1.1v-1.6l.5-0.6v2.8l.5 1.1v-2.3l.5 0.4v1.7l.5 0.5v-1.7l.5 1.6v2.6l.5-0.4v-2.1l.5-0.8v1.6l.5 0.9v-0.9l.5-2v1.4l.5 0v-1.9l.5 0.3v1.5l.5 1.1v-2.6l.5-2.9v3.3l.5-2.2v-2.1l.5 0.1v2.2l.5 1.3v-1.4l.5 2v1.5l.5-0.6v-1.8l.5 2.1v1.4l.5-0.2v-2.4l.5 1v2.6l.5 0.8v-3l.5-1.1v3.6l.5-1.3v-1.7l.5-4.4v4.8l.5-1.3v-1.9l.5-0.7v1.6l.5-1.1v-2.1l.5 0.6v1.4l.5 1.4v-3.4l.5 3.4v1.3l.5 1.5v-2.9l.5 1.3v1.4l.5 0.5v-3.3l.5 0.6v2.8l.5 2.5v-5.2l.5 2.1v2.6l.5-4.7v-3.2l.5 2.7v2.7l.5-1.4v-3.4l.5-1.3v2.9l.5-1.1v-1.8l.5 0v1.5l.5 1.1v-2.4l.5 0.9v2.6l.5 0.7v-2.8l.5-0.1v2.9l.5 0.9v-3.2l.5-0.6v4.7l.5-2.6v-0.7l.5 0.6v1.5l.5 3.6v-4.7l.5 0v3.9l.5 0.1v-3.6l.5-0.8v2.1l.5 0.9v-2.2l.5-1.2v2.4l.5 0.6v-1.5l.5-0.9v1.4l.5-2.1v-1l.5 1.9v2.4l.5-0.3v-2.1l.5-3.4v5.3l.5 0.2v-1.6l.5-0.7v2.3l.5 0.2v-5.9l.5 3.8v1.9l.5 0.6v-1.6l.5-3.1v3.7l.5-0.3v-2.9l.5 0v3.6l.5 2.5v-3.9l.5-1.3v2.2l.5-2.8v-1.7l.5 0.1v1.9l.5 2.4v-4.7l.5 3.7v0.7l.5-0.4v-0.9l.5 0.6v2.7l.5 0.1v-2.2l.5-1.3v2.6l.5-1.8v-1.3l.5 0.7v1.4l.5 0.6v-2.7l.5 0.1v1.2l.5 2.5v-1.9l.5 2.5v0.6l.5 1.7v-1.8l.5-1v2.6l.5-1v-1.6l.5 1v3.6l.5-2.2v-3.6l.5 1.6v2.2l.5-1.5v-1.1l.5 0.8v4.3l.5-2.2v-1.1l.5 0.1v0.9l.5 0.1v-1.1l.5 1v1l.5 0.9v-1.3l.5 0.1v1.7l.5-1.7v-1.4l.5 0.9v1.5l.5 0.2v-1l.5-0.2v1.3l.5 0.1v-2l.5 0.1v0.4l.5 0.7v-1l.5-1.4v1.9l.5-1.9v-1l.5 0.1v0.8l.5-0.9v-0.4l.5-0.5v2.1l.5 1.8v-1.1l.5 0.1v0.8l.5-1v-1l.5 0.2v0.9l.5-0.3v-1.1l.5-0.6v1.3l.5-0.1v-1.4l.5 1.3v1.3l.5 0.5v-1.7l.5 1.8v0.6l.5 0.8v-1.2l.5-0.6v1.3l.5-1.7v-1.1l.5-0.7v1l.5 0.4v-2l.5 1.2v0.9l.5-1v-0.6l.5-1.4v2.2l.5 3.2v-5l.5-0.5v4.3l.5 0.1v-1.2l.5-0.3v0.8l.5 1.1v-1.2l.5 0.4v1.1l.5-1.3v-0.8l.5-1v0.7l.5 0.7v-1.2l.5-1.3v2.4l.5-2.1v-1.7l.5 0v0.7l.5-0.2v-0.5l.5 0v0.9l.5-0.2v-0.6l.5 0.6v1l.5-0.3v-0.8l.5-0.3v1l.5 0.4v-0.8l.5-0.2v2.1l.5-0.8v-0.9l.5-0.9v1l.5 1.4v-2.1l.5 1.6v4l.5-2.2v-3.6l.5 3.9v2l.5 0.2v-0.7l.5-0.3v1l.5-0.7v-2.2l.5 0.2v1.1l.5-0.2v-2.8l.5 0.1v2l.5-0.9v-2.2l.5 0.3v1.1l.5 2.6v-5.2l.5-1.5v3l.5 4.8v-5.8l.5-1.1v4.2l.5-0.8v-3.3l.5-3.2v1.6l.5 1.4v-4.5l.5 0.5v2.9l.5 3.9v-6l.5 2.8v1.3l.5 0.5v-4.2l.5 0.6v3.6l.5 2.2v-4.6l.5 1.1v2.2l.5 1.6v-4.3l.5 1.3v6.2l.5-4v-5l.5-0.9v6.4l.5-4.3v-3.7l.5-3.9v8.7l.5-2.7v-2.7l.5-4.3v8.9l.5 0.7v-6.9l.5-2v11.5l.5-1.1v-3.1l.5 2.7v6.3l.5 0v-4.4l.5 3.1v1.3l.5 0.1v-4.6l.5-6v9.5l.5-1.3v-6.6l.5 4.6v4.4l.5 0v-8.9l.5-4.6v13.5l.5 0v-19.8l.5 16.5v3.3l.5-0.7v-4.3l.5-2.9v6.9l.5 1.1v-5l.5-1.7v6.8l.5-1v-4.5l.5 0.6v4.9l.5 0v-17.9l.5 6.6v5.8l.5 3.6v-19.6l.5 5.7v8.2l.5-6.1v-4l.5 1.6v4.2l.5 6.5v-12.8l.5 3.7v9.2l.5 4.2v-5.7l.5-0.7v7.9l.5-1.2v-9.3l.5 4.3v6.3l.5 0v-1.3l.5-1.1v2.4l.5-0.2v-2.5l.5-2.7v5.4l.5-0.4v-7.5l.5 1.8v2.7l.5 3.6v-10.3l.5-1.4v4.8l.5 6.1v-9.3l.5-10.1v14l.5-0.4v-8.5l.5-4.3v10.1l.5 9.5v-12.3l.5-3.7v8.9l.5 0.1v-10.2l.5 1.3v4.6l.5 0.7v-2.6l.5-9.2v13.4l.5-1.6v-11.2l.5 0.4v11.7l.5 0.6v-6.2l.5 3.1v3.4l.5-4.3v-8.8l.5-1.4v13.6l.5-2.5v-11.1l.5 0.8v5.2l.5 3.3v-2.1l.5 0.4v8.8l.5 2.9v-5.7l.5-1.6v8.8l.5-8.3v-8l.5-0.3v19.8l.5-10.9v-10.2l.5 2v12l.5 4.2v-13.3l.5 6.5v9.9l.5-3.4v-8.8l.5 10v2.2l.5 0.1v-6.4l.5-5.3v10.2l.5 1.2v-5.5l.5-4.3v10.3l.5 0.2v-4.4l.5-5.8v10.2l.5-2.5v-15.4l.5 8.5v6.6l.5-0.1v-10.6l.5 6v4.9l.5 2.3v-9.1l.5-4.1v14.2l.5-1.7v-14.9l.5 3v3.5l.5-6.7v-8.5l.5 0.7v13.6l.5 9.3v-10.7l.5 0.6v12.4l.5 0.1v-14.1l.5 2.6v11.5l.5 0.2v-13.8l.5-5v9.4l.5 8.9v-9.8l.5 2.3v8.3l.5-2.8v-6.3l.5 2.5v6.8l.5-2v-22.5l.5 12.2v10.6l.5-0.2v-4.4l.5-11.6v17.2l.5 1.2v-9l.5-8.5v6.7l.5-6.2v-9.6l.5 1.1v15.2l.5 3v-17.7l.5 7.1v4.5l.5-0.6v-10.1l.5-2.3v13l.5 6.6v-8.5l.5 0.9v9.1l.5-6.5v-11.9l.5 3.5v8.9l.5-4.7v-9.4l.5 2.4v16.3l.5 0.5v-9.5l.5 0v17.1l.5-14.5v-8.9l.5 7.9v8.2l.5 5.1v-10l.5-4v16.8l.5-3.2v-8.5l.5 0.6v13.4l.5-1v-12.2l.5-7.9v8.2l.5 6v-15.8l.5 9.6v8.7l.5-7.1v-4.4l.5 5.2v9.1l.5-1.5v-5.7l.5-2.6v10.1l.5 4.5v-11.7l.5-0.8v12.8l.5-2.1v-7.7l.5-0.9v10.8l.5 0.7v-9.6l.5 9.9v0.3l.5 0.4v-4.4l.5-2.4v4.8l.5-8.6v-9l.5 10v4.9l.5-8.6v-4.6l.5-1v17.1l.5-7.4v-10.2l.5 6.2v12.1l.5 3.2v-13l.5-7.9v14.3l.5 7.7v-14.1l.5 0.3v12.4l.5 0.7v-12l.5 6.5v5.1l.5-0.8v-8.6l.5-6.6v17.9l.5-13.9v-5.4l.5-11.2v16.5l.5 12.3v-15l.5 10.6v3.9l.5-0.7v-31.5l.5 14.2v13.2l.5-4.1v-17.1l.5 5.7v16.7l.5-13.3v-19.8l.5 10.2v20.7l.5-4.3v-22.3l.5-14.8v26.2l.5 17.3v-15.3l.5-7.4v12.2l.5-8.8v-12.6l.5 1.6v16.4l.5-5.4v-27.9l.5 0.8v25.6l.5 4.1v-22.5l.5 8.1v14.6l.5 5.5v-30.9l.5-4.4v32.7l.5 0.3v-15.2l.5 1.2v20l.5-5.6v-30.5l.5 8.6v19l.5 0.3v-14.5l.5-12v33.5l.5-22.3v-15.9l.5 15.3v13.9l.5 3.8v-16l.5 5.1v15.4l.5-3.1v-21.9l.5-17.1v33.7l.5 3.7v-15.4l.5 7.8v15.7l.5-0.1v-21.7l.5-0.1v18.7l.5-1.9v-25.6l.5-14.3v33l.5 2.4v-13.2l.5-17.8v19.6l.5 0.4v-12l.5 1.7v24l.5-13v-10.2l.5-9v10.9l.5 13.1v-17.2l.5-10.2v13l.5-0.3v-11.6l.5 4.7v5.6l.5-4.5v-2.8l.5 1.3v2.9l.5-1.8v-1.7l.5 1.6v2.8l.5 1.3v-2.8l.5-2.8v1.5l.5-0.2v-2.8l.5 1.1v2.4l.5-0.5v-3.5l.5-0.9v3.8l.5-1.7v-0.8l.5-1.9v3.1l.5 1.7v-3l.5-0.3v2.4l.5-3v-0.8l.5-2.1v2.3l.5 1.6v-0.5l.5-2.9v4.4l.5-0.2v-3l.5-1.7v4.7l.5-1.2v-3.5l.5 0v5.6l.5-0.2v-3.1l.5 1v3.6l.5-0.2v-3.9l.5 1.7v2.2l.5-2.2v-2.7l.5 1.3v7.1l.5-4.9v-1.2l.5-0.4v4.5l.5-0.1v-3l.5-0.2v5.3l.5-1.4v-8.4l.5 6.7v4l.5-0.5v-3l.5 0.6v3.1l.5-1.4v-2.7l.5 1.4v0.9l.5 1.8v-2.3l.5-3.8v4.9l.5-2.1v-2.7l.5 0.6v2.8l.5 0.2v-2.3l.5-1v2.9l.5-0.2v-3.4l.5 1v0.9l.5 2v-4.3l.5 2v1.9l.5 0.5v-2.5l.5-0.9v5l.5-1.5v-3.5l.5-1.7v4.1l.5-3.4v-2.1l.5 1.2v2.2l.5 1.8v-3.5l.5 2v3.2l.5-3.3v-2.5l.5 2.1v1.7l.5-0.4v-2.7l.5-2.4v3.1l.5 0.7v-5.6l.5 4.6v2.3l.5 0.6v-2.1l.5-1.4v2.3l.5 0.7v-3.2l.5 1.3v1.9l.5 3.6v-5.8l.5 0.4v3.5l.5-1.6v-1.7l.5-2.3v2l.5-0.2v-2.6l.5 1.9v2.5l.5 1.1v-2.6l.5 0.7v2.4l.5 0.5v-3.5l.5 0.5v4.2l.5-1.7v-2.4l.5-2.9v4.6l.5-0.8v-6.3l.5 2.3v3.4l.5-0.2v-2.8l.5-0.2v3l.5 0.3v-2.4l.5 2.1v3.5l.5 1.4v-9l.5 1.4v4.7l.5-3.8v-5.7l.5 0.4v2.7l.5 3.7v-4.9l.5-0.1v9.4l.5-3.8v-2.9l.5-0.6v6.1l.5 0.9v-6.8l.5-0.9v8.5l.5-2.2v-7.5l.5-2.8v4.2l.5-0.4v-4.6l.5-0.1v0.1l.5-0.1v-0.2l.5 0.6v2.9l.5 2.2v-5.9l.5-0.1v6.2l.5 4v-10.5l.5 1.2v10.8l.5-4.4v-2.9l.5-0.8v11.5l.5-0.7v-10.1l.5-1.2v7l.5-3.9v-5l.5-2.8v17.5l.5-6.2v-5.2l.5-5.7v7.8l.5 3.2v-5.9l.5-3.1v8.3l.5 2.4v-9l.5 4.8v3l.5-2.6v-1.7l.5 3.5v4l.5 1.6v-4.2l.5-2.7v5.7l.5-6.9v-3.2l.5 0.8v10.1l.5-5.5v-2.8l.5 4.2v2.7l.5 1.8v-7.5l.5 4.2v3.3l.5 0v-6.8l.5 1.2v4.3l.5 1.2v-10.1l.5 3.8v6.4l.5-1.1v-7l.5 3.4v1.4l.5-1.6v-2.3l.5 2.8v4.4l.5-1.7v-5.9l.5 0v5.5l.5 2.1v-10.1l.5-3.9v12l.5-4v-4.9l.5 3.2v6.7l.5-2.5v-5.7l.5-1v5.3l.5-2.1v-4l.5 1.6v7.8l.5 1.6v-6.6l.5 0.8v5.8l.5-0.6v-4.3l.5 4.9v0l.5 0v-2.6l.5-14.1v16.7l.5 0v-3l.5-1.7v3.9l.5 0.8v-5.3l.5 2.5v2.8l.5-1.1v-7.9l.5-1.1v6l.5 0.2v-7.6l.5-0.5v2l.5 9v-9.8l.5-4.3v3.4l.5 5.1v-8.6l.5 1.8v2.5l.5 1.5v-3.9l.5-4.2v10.9l.5-1.2v-4.4l.5 0v11.3l.5-1.5v-6.4l.5 2.1v4.5l.5-5.2v-2.9l.5-1.8v4.6l.5-0.5v-6.6l.5 3.6v4.7l.5-0.1v-3.9l.5-2.5v10.5l.5-2.5v-7.4l.5 1.3v4.6l.5 1v-6.8l.5-5.6v9.5l.5 2.8v-7.4l.5 0.5v6.8l.5 2.8v-7.4l.5-4.7v7.7l.5 2.5v-8.3l.5 3.1v5.1l.5 3v-7.4l.5-1.7v3.2l.5 4.4v-4.2l.5 1.2v5l.5 1.2v-1l.5-7.1v2.6l.5-0.9v-9.6l.5 13.5v2.5l.5-2.7v-8.6l.5 0.9v6l.5 3.7v-9l.5 4.7v6l.5 0.2v-8l.5 3.3v6.8l.5-2.9v-9.4l.5 2.8v14.1l.5-7.1v-12.5l.5 8.1v15.6l.5 0.1v-10.9l.5-21.6v15.2l.5 8.7v-20.1l.5 2.5v30.4l.5-14.5v-11l.5-18.8v24.4l.5-0.7v-23.5l.5 9.8v18.7l.5 8.7v-22.7l.5 10.8v18.7l.5-4.7v-9.8l.5-4.8v15.4l.5-1.5v-10.8l.5-0.1v16.1l.5-7.5v-17.9l.5 2.2v10.6l.5 1.8v-17.9l.5-10.4v16.4l.5 4.3v-14.2l.5-9.3v12.5l.5 15.4v-27.5l.5 4.6v21l.5-8.3v-17.3l.5 7.7v25.9l.5-1.9v-7l.5-8v22.4l.5-9.9v-25.3l.5 3.8v17.5l.5 13v-17.8l.5-6.9v15l.5 5.8v-21.7l.5 6.2v13.8l.5-5.5v-22.4l.5 15.9v8.2l.5 10.8v-11.6l.5-1.7v15.3l.5 0v-16.9l.5 3v13.9l.5-0.8v-23.6l.5 12.8v8.7l.5 4.6v-21.5l.5 6.2v16.6l.5-2v-17.4l.5 8v11.4l.5 14.6v-33.4l.5 31.2v4.9l.5 1.4v-3.4l.5-11v14.4l.5-1.5v-18.4l.5 6.6v12l.5-7.7v-19.5l.5 1.3v25.4l.5-13.5v-6.1l.5-5.5v21.3l.5 6v-19.6l.5 8v9.8l.5 1.6v-7.9l.5 2.2v5.6l.5-12.2v-7.3l.5-6.6v24.9l.5 1v-16.5l.5 0.7v13.3l.5 2.3v-14.7l.5-0.8v11.7l.5-0.4v-13l.5-2.7v16.4l.5 3.2v-15.4l.5 5.8v1.7l.5 0.9v-5.8l.5 1.3v9.1l.5-4.8v-16.5l.5 2.1v11.1l.5 4.2v-9.8l.5-1.2v8.6l.5-5.2v-5.9l.5 2.1v3.3l.5-1.6v-2.8l.5 2.6v3.8l.5 0.2v-4l.5-1.1v6.3l.5-1.4v-2.8l.5-0.3v2.1l.5-0.2v-3.2l.5-0.6v1.7l.5-1.5v-1.2l.5 0v0l.5 0.6v-0.6l.5 0v0l.5 1v-1l.5 0v14.1l.5 0.7v-9.8l.5 0.8v4l.5-1.7v-2.4l.5-5.1v4.7l.5-1.3v-4l.5 4.1v4.5l.5-3.8v-4.8l.5 0.8v4.7l.5-1.7v-3.5l.5-0.3v1.8l.5 3v-3.9l.5 0.7v8.6l.5 2.3v-6.7l.5-1.3v2.6l.5 2.8v-6.8l.5 0.7v5.8l.5 1.6v-4.2l.5 1.1v2.9l.5-3.1v-3.4l.5-2.9v4l.5 3.6v-3.8l.5-0.8v3.7l.5 0.8v-4.5l.5-1.8v2.7l.5 0.6v-3.3l.5 1.1v9.8l.5-7.2v-5.6l.5 5.3v3.6l.5-1.4v-3.7l.5 1.1v8l.5-5.1v-4.9l.5-1.6v6.3l.5 0.6v-3.7l.5-3v5l.5 2.4v-3.3l.5 2.2v2.1l.5-0.7v-1.8l.5-0.3v1.1l.5 1.1v-0.9l.5-0.7v0.2l.5 1.1v-0.9l.5-0.7v1l.5-0.3v-1l.5 0.3v0.3l.5 0.4v-1.3l.5 0.2v0.8l.5-0.3v-1l.5 0.5v0.8l.5 0.4v-1l.5 0.6v0.7l.5-0.2v-0.9l.5-1v1.1l.5 0.7v-1.7l.5-0.3v1l.5 0.8v-1.8l.5 1.3v1l.5 1.1v-1.7l.5 0.3v0.6l.5-0.3v-0.4l.5-0.3v0.3l.5 0.3v-1.1l.5-1v3.1l.5-0.6v-1.1l.5-0.6v1.2l.5-0.8v-1.1l.5-0.1v0.9l.5 1.3v-0.9l.5-0.5v0.9l.5 0.7v-0.9l.5-0.7v0.9l.5 0.3v-0.5l.5-0.3v1l.5-0.5v-1.1l.5 0.1v3.5l.5-2.5v-0.4l.5 0v1.2l.5-0.5v-0.8l.5-0.7v1l.5 0.9v-1.1l.5 1v0.5l.5 0.2v-0.7l.5-0.7v0.9l.5 0v-1.2l.5 0.3v0.9l.5-0.1v-0.9l.5-0.5v0.7l.5-0.2v-0.4l.5-0.3v1l.5 1.2v-1.4l.5-0.5v1.6l.5-0.7v-1.1l.5 0.8v1.3l.5-0.1v-0.4l.5-0.5v1.7l.5-0.6v-1.7l.5 0.9v1.2l.5-0.3v-0.9l.5-0.5v0.8l.5 0.3v-0.9l.5-0.2v0.5l.5 0.1v-0.7l.5 0.4v1.1l.5-0.3v-1.2l.5 0.1v1.1l.5 0.4v-0.6l.5-1v0.3l.5 0.1v-1l.5-0.2v0.8l.5 0.4v-0.4l.5 0.3v0.8l.5 0.3v-0.3l.5-0.6v0.7l.5 0v-2.9l.5 2.6v0.3l.5 0.8v-0.7l.5-0.2v1l.5 0.5v-0.7l.5-1.8v1.4l.5-1.4v-4.9l.5-1.1v5.1l.5-1.4v-3.5l.5-5.1v5.8l.5 1.6v-6.9l.5-2.9v9.9l.5 2.7v-14.5l.5 9.7v5.9l.5-0.5v-5.6l.5 2.2v3l.5-2.8v-12l.5 3.5v10.2l.5-1.3v-8.8l.5 0.5v7.8l.5 0.8v-17.8l.5-6.2v9.9l.5 4.7v-9.9l.5-3.5v7.5l.5 3.2v-8.5l.5-13.1v13.6l.5-2.9v-11.4l.5-5.1v15.4l.5 4.9v-10l.5-7.3v10l.5-2.9v-8.5l.5 6.3v10.7l.5-5.9v-14.6l.5 2.1v10.5l.5 1.7v-9.2l.5-4.3v12.2l.5 2.3v-6.5l.5-4.2v12.2l.5 5.3v-21.9l.5 3v8l.5 2.3v-9l.5 5.8v5.7l.5 7.2v-9.8l.5-8v4.5l.5 4.5v-13.4l.5-0.5v22.4l.5-6.5v-14.5l.5 3.6v8.3l.5 9.5v-17.1l.5 1.7v10.4l.5-7.7v-7.3l.5 2.3v13.3l.5 2.9v-13.9l.5-2.5v17.7l.5-3.7v-9.9l.5 0.5v10.9l.5 3.1v-7.1l.5-6.9v5.5l.5 8.4v-12.7l.5 8.9v3.8l.5 0v-3.1l.5-4.5v6.4l.5 1.2v-7.4l.5 3.9v3.5l.5-1v-2.4l.5-1.8v4.8l.5-3v-18.1l.5 18.7v2.8l.5 0v-12.8l.5-2v14.8l.5-8.2v-3.4l.5-3.6v10.4l.5-1.3v-7.7l.5-1.2v8.8l.5 1.3v-9.4l.5-3.1v7.2l.5-8.4v-3.7l.5 0v4.7l.5 11.4v-9.9l.5-2.2v14.9l.5-0.2v-11.9l.5-5.1v13l.5-5v-9.5l.5 10.1v3.8l.5 2.4v-12.6l.5-0.1v13.3l.5 0.6v-6.7l.5 2.1v9.3l.5-1.9v-8.7l.5-0.5v8.7l.5-2.3v-15.8l.5 0.2v20.5l.5-2.2v-3.9l.5-2.2v7.3l.5-1.5v-7.3l.5-2.6v9.6l.5 0.5v-12.1l.5-4v4l.5 4.8v-6.2l.5 3.4v4.5l.5-1.8v-9.4l.5 10.7v7.6l.5-1.6v-17.2l.5 4.1v6.2l.5 2.7v-9.6l.5 7.9v8.9l.5 0v-14.5l.5 8.8v5.8l.5 0v-2.3l.5-5v7.3l.5-4.5v-7l.5-2.2v7.1l.5 5.3v-11.1l.5-1.9v5.8l.5 5.4v-10.2l.5-2.5v5.2l.5 2.9v-14.6l.5 2.9v9.7l.5-6v-4.9l.5-1.6v2.8l.5 6.5v-9.3l.5 3.1v10.4l.5-0.5v-11.8l.5 1.2v7.3l.5 6.3v-9.4l.5 2.6v6.1l.5-3.5v-7.8l.5 3.1v5.6l.5 4v-3.9l.5-2.4v5.9l.5-1.4v-4.5l.5 0.1v1.7l.5 2.4v-2.7l.5 1.4v2.5l.5 0.1v-3.6l.5 0.2v1.3l.5 1v-1.5l.5 1v1.8l.5-1.7v-2.6l.5 1v0.9l.5 0.6v-1.2l.5-1v2.1l.5-0.1v-1.3l.5 0.9v0.7l.5-0.2v-5.1l.5 1.8v2.2l.5 2.2v-3.3l.5-3.1v5.2l.5-0.1v-1.4l.5-0.4v1.9l.5-2v-0.6l.5-0.2v1.1l.5-0.4v-0.6l.5-0.1v1.9l.5-0.4v-2l.5 0.8v1.4l.5 1.1v-1.9l.5-0.5v2.3l.5 0v-1.6l.5 0.4v0.9l.5 1.6v-2.2l.5 1.4v1l.5 0.2v-2.4l.5 1.3v1.6l.5 0v-2.5l.5-0.8v3l.5-2.2v-1.6l.5-0.5v1.8l.5-1.9v-0.7l.5 0.5v1.5l.5 0.2v-2l.5 1.6v0.8l.5 0.4v-1.6l.5 0.2v1.6l.5 0.3v-2.3l.5 0.3v1l.5 0.6v-2.3l.5 0.1v2.1l.5 1.6v-2l.5 0.5v2.3l.5-1.2v-1.7l.5-2.7v2.8l.5-0.3v-1.7l.5 0v1.2l.5-1.1v-0.9l.5-0.5v6l.5-3.8v-1.2l.5 0.3v4.6l.5-1.2v-1.8l.5-0.7v1.1l.5 3v-2.7l.5 2v0.7l.5 0v0l.5-1.1v1.1l.5 0v-1.7l.5-0.4v2.1l.5-1.1v-2.1l.5-0.1v2l.5 0.9v-1.2l.5-1.7v1.5l.5-1.7v-1.2l.5 1.7v2.8l.5-0.8v-1.1l.5-0.8v2.2l.5 0v-2l.5 1.9v0.8l.5-0.3v-1l.5-0.4v0.9l.5 0.6v-1.7l.5-0.1v1.8l.5-1.1v-0.7l.5 0.3v1.7l.5 0v0l.5-3.1v2.5l.5-0.3v-1.6l.5 1.5v1l.5 0v-0.5l.5-0.4v0.4l.5-1.5v-1.5l.5-1v2.9l.5-0.2v-1.9l.5-1.6v1.9l.5 1.4v-2.7l.5 1.7v1.2l.5-0.8v-1.1l.5 0.3v0.9l.5 2v-1.5l.5-2.1v1.6l.5 1.3v-1l.5-0.7v1.6l.5-1v-4.8l.5 1.9v2.5l.5 0.3v-1.4l.5 0.7v2.7l.5 0.4v-2.6l.5 1.2v0.6l.5-0.2v-1.5l.5-0.3v2.1l.5-0.2v-1.3l.5-1.1v1l.5-1.8v-1.2l.5-1.8v2.6l.5-0.8v-1.3l.5 0.8v2.2l.5-1.3v-0.6l.5-2.4v1.7l.5 0.2v-1.9l.5 0.5v1.2l.5 2.2v-2.6l.5-0.7v2.6l.5 2v-3.1l.5-0.3v3.4l.5-2.8v-0.6l.5 1.2v1.1l.5 0.9v-2l.5-0.7v2.4l.5 0.4v-1.4l.5-0.1v1.3l.5 0.2v-2.7l.5-1.5v3.2l.5-0.2v-1.4l.5 0.1v1.6l.5 1.5v-2l.5-0.6v1l.5-0.2v-2.3l.5 0.5v2l.5-0.1v-1.8l.5-1.5v4.9l.5 1.7v-3.8l.5-2.5v1.7l.5 0.6v-3l.5 0.2v4.3l.5-0.6v-1.2l.5 0.3v1.4l.5 2v-2.8l.5 1.9v1.1l.5-1.7v-4.5l.5 2v1.1l.5-0.2v-0.9l.5 0.8v1.3l.5 0v-1.9l.5 0.4v1l.5 0.1v-0.6l.5-0.7v4.4l.5-1.5v-1.9l.5 0.4v1.4l.5-0.2v-2.2l.5-0.1v2.2l.5 0.1v-2.8l.5 0.3v2l.5 1.4v-1.5l.5-0.3v3.3l.5 0.2v-2.1l.5 0.5v1.4l.5 2v-3.1l.5 3.2v5.5l.5 1.7v-1.5l.5-6v8l.5-0.9v-4.9l.5-2.9v5.4l.5-1.6v-5.4l.5-0.4v4.7l.5-1.8v-4.5l.5 1.2v1.6l.5 4.8v-6.4l.5 3.9v9.9l.5 0v-7.1l.5 0.3v6.8l.5-2.3v-6.9l.5 4.3v4.9l.5 0v-4.4l.5-3.4v4.9l.5-0.6v-5.7l.5 1.7v7.1l.5-0.6v-14.6l.5 7.2v7.8l.5-0.2v-10.2l.5 3.2v4.6l.5 0.8v-6.9l.5-6.6v13.5l.5 2v-4.1l.5-5v6.3l.5 1.9v-5.5l.5 2.1v3.9l.5 0.8v-1.8l.5-2.9v4.4l.5-0.3v-10.3l.5 1.6v4.2l.5 0.2v-8l.5 5.1v5.3l.5 0v-7.7l.5 1.8v3.9l.5 1.8v-2.5l.5-4.4v5.9l.5 0.8v-3l.5-2.4v8l.5-4.3v-6.3l.5 2.7v3.6l.5 0.2v-3.4l.5 6.4v1.4l.5 0v-5.5l.5-1.5v4.5l.5-2.4v-4.6l.5 0.7v4.5l.5 2v-3.6l.5-2.5v5.1l.5-3.2v-1.1l.5-2.4v6.7l.5-0.8v-6.9l.5-2.7v2.8l.5 3.1v-8.6l.5 6.4v2.2l.5-0.6v-7.2l.5 3.8v5.6l.5-0.3v-6.2l.5 3.2v3.7l.5 5.8v-7.5l.5-1.9v6.1l.5-2.9v-3.7l.5-0.7v5.3l.5 4.8v-7.6l.5-1.5v5.9l.5 0.2v-5l.5 0.2v4.3l.5 1.1v-7.7l.5 4.3v6.3l.5-1.7v-5l.5-2.9v4.5l.5-0.4v-6.6l.5 2.9v1.6l.5-2.4v-5.3l.5 0.6v8l.5 0.2v-6.6" fill="none" stroke="#00f" stroke-width="1.2" stroke-linejoin="round" clip-path="url(#c2)"/>
<path d="M214.25 294.9v1l.5-1.1v-0.5l.5 0.7v1l.5-0.3v-0.7l.5 1.9v1.3l.5 1.1v-2.3l.5 1.3v1.7l.5 0.5v-2.3l.5-0.3v1.7l.5 0.1v-0.5l.5 0v3l.5-1.9v-1.5l.5-2.4v3.5l.5 3v-6.3l.5-0.6v3.7l.5 2.3v-5.2l.5 2.2v3l.5 0.3v-1.8l.5-0.3v1l.5 1.8v-4.3l.5 3.5v1.2l.5 1v-4.8l.5 3.1v5l.5-0.8v-4.7l.5-1.1v2.1l.5 4.4v-10.5l.5 7v4.2l.5 2.1v-3.7l.5-2.1v5.5l.5-4.6v-3.2l.5 0.1v4.5l.5-3.8v-2.3l.5-1.1v5.2l.5 3.6v-5.4l.5 3v2.2l.5 3.3v-3.3l.5-0.4v3.9l.5 0v-5.1l.5 0.2v4.3l.5 0.1v-6l.5 0.7v6.2l.5-4.5v-5.7l.5 5.1v2.4l.5-1.1v-5.7l.5-3.8v4.4l.5 0.4v-6.8l.5 1.1v5.7l.5-0.6v-3.4l.5-0.2v7.5l.5-2v-8l.5 6.1v3.6l.5 1.2v-3.2l.5-5.7v8.8l.5 3.2v-8.5l.5 7.4v4l.5 0.1v-4.9l.5-1.9v6.9l.5 0.2v-6.1l.5 0.8v3.2l.5 2.2v-7l.5-0.2v5.5l.5-5.2v-11.8l.5 5.1v8.7l.5-4.4v-4.5l.5-3.5v9.8l.5-4.3v-8l.5 4.2v7.5l.5 5v-13.1l.5 3.7v3l.5 4v-4.9l.5-2.1v11.1l.5-0.9v-16.3l.5 6.5v10.3l.5-5.4v-5.9l.5-0.4v6.1l.5 1.8v-13.5l.5 7v6l.5 3.7v-7.1l.5 2.7v4.8l.5 3.1v-10.1l.5-3.4v6.3l.5 7.2v-10.6l.5 4.2v6.4l.5-2.5v-9.9l.5 5.9v6.5l.5 0v-2.9l.5-5.7v8.6l.5 0v-8.4l.5-8.9v9.6l.5 2.5v-9.4l.5-8.9v15.3l.5 2.2v-10l.5 6.7v9.3l.5 0v-5.3l.5-6.6v10.5l.5-3.9v-9.7l.5 0.2v4.4l.5 0.6v-4.9l.5-6.3v15.4l.5 0.7v-2l.5-1.4v4.9l.5 3.4v-4.3l.5-1.7v6l.5-4.9v-5.5l.5 0.9v2.8l.5 4.8v-12.7l.5 2v9.1l.5 3.4v-10.1l.5-14.3v23.7l.5-0.4v-7.3l.5-4.7v10.6l.5 1.6v-8.8l.5-8v17.8l.5-7.5v-5.9l.5 1.9v5.8l.5-0.6v-7.3l.5-0.1v7l.5 2.4v-3.1l.5-9.1v9.1l.5 1.9v-11.3l.5 1v10.3l.5 5.5v-8.8l.5-4.3v6.9l.5 6.2v-7l.5-3v4l.5 4.3v-8.1l.5-2.2v12l.5 0v-6.6l.5 0.2v3.5l.5-4.5v-4.6l.5-5.9v12.3l.5-0.9v-6.6l.5-2.2v12.5l.5 1.8v-11l.5-5v9.8l.5 4.5v-6.1l.5 5.9v2.9l.5 0v-13.5l.5-0.3v13.8l.5 0v-8.2l.5-3.5v7.3l.5-2.3v-3.2l.5-6.6v5.2l.5 7.2v-7.5l.5-3.6v7.6l.5 3.2v-14.3l.5-2.3v7l.5 2v-7.6l.5 0.7v6.3l.5 1.9v-3.2l.5-8.6v11l.5 4.2v-11.7l.5-1.9v12.7l.5 4.8v-12.8l.5 0.9v6.2l.5-3.1v-8.8l.5 2.9v4.4l.5 3.3v-6.9l.5 6v5.5l.5-4.2v-11l.5 1.5v7.1l.5 2.1v-5.7l.5 4.2v5.1l.5-5.5v-8.8l.5 2.2v6.5l.5 3.5v-5.3l.5-6.9v10.4l.5 5v-12.9l.5-0.3v3.1l.5 2.9v-2.1l.5-3v8.8l.5-4v-4l.5-2.1v9.3l.5-2.5v-6.2l.5-2.3v8.7l.5 5v-10.9l.5-1.8v10.9l.5 5.8v-13.4l.5-1.8v7.5l.5 9.2v-17.2l.5 8v5.6l.5-2.5v-10.9l.5 4.6v12.8l.5-7.3v-8.6l.5-0.3v16.1l.5-2.1v-10l.5-2.9v9.7l.5-1.1v-5.4l.5 3.1v10.1l.5 0v-12.6l.5 5.4v2.6l.5 3.5v-11.7l.5 3.7v9.1l.5 0v-8.3l.5 1.9v6.4l.5 0v-6.8l.5-1.2v8l.5-0.7v-8.4l.5-1.6v6.2l.5 3.2v-7.9l.5-3.3v4.7l.5 0v-8.2l.5 4.8v5.4l.5 4.3v-11.9l.5-10.1v18.7l.5-3.7v-6.2l.5-0.6v7.9l.5-1.8v-8l.5 2v7.6l.5 1.2v-11.3l.5 0.6v3.7l.5 3.8v-5.1l.5 5v5.1l.5-1.9v-7.3l.5-1.4v11.4l.5-4v-9.2l.5 1.9v4.8l.5 5.2v-11.7l.5 0.8v4.6l.5 4.3v-6.6l.5-3.2v8.2l.5 4.3v-10.4l.5-5.3v10.3l.5 6.1v-9.8l.5 0.9v9.4l.5 3.2v-9.9l.5 1.5v1.9l.5-0.3v-6.8l.5 1.5v11l.5 0.2v-10l.5-13.6v20.9l.5-3v-12.9l.5-1.5v12.5l.5 7.8v-13l.5 1.1v8.7l.5-1.1v-4.7l.5 0v3.9l.5-6v-5.6l.5 2.3v7.8l.5 1.6v-9.8l.5 3.9v9.6l.5 1.5v-7.3l.5-3.1v10.9l.5 0v-8.8l.5 0.6v8.2l.5 0v-6.1l.5-7.5v8.9l.5-0.2v-12.4l.5-1.4v8.6l.5 5.6v-6.3l.5-0.9v6.2l.5 5.5v-7l.5-4v7.7l.5 0.7v-11.9l.5-1.3v3l.5 6.4v-7.7l.5 0.9v12.9l.5-1.5v-9.8l.5 2.5v4.1l.5-2.2v-7.3l.5-0.9v10l.5 5.4v-3l.5-6.3v6.3l.5 3v-10.6l.5 4.4v6.2l.5 0v-3.5l.5-3.5v7l.5 0v-7.4l.5 2.9v4.3l.5-3.9v-4.9l.5-4.3v12.9l.5-9.3v-10l.5 4.3v7.3l.5 1.2v-6.3l.5-2.6v8l.5-5.1v-8.1l.5 5v6.8l.5 0.1v-6.3l.5 6.5v3.2l.5 0.5v-7.2l.5-3.2v13.6l.5-8.8v-9.7l.5 4v4.7l.5 2.3v-10.2l.5 7v5.6l.5-1.3v-8.4l.5 3.4v10l.5-2.7v-10.7l.5-3.7v9.1l.5-4v-1l.5 0.9v5.5l.5 2.1v-11l.5 4.6v2.5l.5 5.4v-8.8l.5 0.6v10.4l.5-3.5v-10.9l.5-1.2v10.2l.5 3.1v-9.4l.5 2.1v9.9l.5 0.5v-5.9l.5-2.7v9.7l.5-6.5v-8.1l.5 2.7v7.2l.5 5.6v-5l.5-17.1v20.9l.5 1.9v-7.5l.5-3.4v10.8l.5 0v-6.3l.5 1.1v3.4l.5 1.8v-15.1l.5 5.5v9.5l.5-1.7v-16.2l.5 7v10.8l.5 0v-4.7l.5 1.1v3.6l.5-1.5v-5.6l.5-2.5v8.8l.5-6.3v-6l.5 2.6v3.6l.5 2.8v-6.5l.5-5.5v7.9l.5-2.7v-4.4l.5-2v4.3l.5-3.7v-2.1l.5 0.7v3.7l.5 13.8v-13.5l.5 8.8v5l.5 0v-2.4l.5 2.3v0l.5 0v-2.4l.5-1.4v3.8l.5-1.3v-16.4l.5 4.5v12.7l.5-2.2v-2.9l.5 1.9v3.6l.5-2.8v-5.9l.5 0.1v4.2l.5-1.9v-6.1l.5 2v9.4l.5 0.8v-6.9l.5 5.4v1.5l.5 0v-2.8l.5-5.2v5.1l.5-7.5v-2.3l.5-4.3v16.3l.5-9.5v-5.1l.5 2v4.4l.5 0.9v-5.1l.5 4.6v5.6l.5-3.5v-3.9l.5 1.6v4.4l.5-5.3v-4.2l.5 0.3v4.3l.5 8v-12.1l.5 0.6v4.1l.5 7.1v-13.3l.5-2.1v4.3l.5 1.9v-5l.5 2.7v4.8l.5 0.6v-7.7l.5-0.1v5.8l.5-4.5v-3.6l.5 0.8v5.2l.5 2.1v-6.8l.5 2.5v4.3l.5 1.8v-5.8l.5 0.7v5.1l.5-4.2v-4.7l.5 2.3v7.5l.5 0.5v-9.6l.5 4.8v6.3l.5-2.2v-5.8l.5-1.5v4l.5 7.6v-10.3l.5-0.4v4.6l.5-1.3v-12.6l.5-1v11.8l.5 2.5v-4.2l.5-3.2v6.8l.5 0.5v-6l.5 0.2v7.4l.5-0.7v-3.7l.5-4.4v11.6l.5-2.4v-7.9l.5-1.8v7.2l.5-0.5v-4.1l.5-2.6v6.6l.5-2.6v-4l.5 0.2v5.5l.5 4.2v-8.9l.5 2.7v2.3l.5 1.1v-1.9l.5-2v5.3l.5 3.8v-6.5l.5 2.2v5.1l.5-3.9v-4.4l.5-0.3v8l.5 0.7v-7.3l.5-1.2v7.6l.5-2.4v-5l.5-0.6v4.9l.5-1.6v-4.5l.5 2.9v5.2l.5 0.3v-3.4l.5-3.6v6.8l.5-1.2v-3.9l.5 0.3v6.6l.5 0.4v-5.5l.5 2.9v3.9l.5 1.1v-1.7l.5 1.2v0.5l.5 0v-2.7l.5 0.1v2.6l.5-1.7v-2.7l.5-9.3v13.7l.5-2.6v-6.4l.5-0.8v6.9l.5-5.6v-4.1l.5 7.4v4.3l.5-3.6v-6.2l.5 0.7v2.1l.5-0.5v-4l.5 1.8v4.1l.5 0.7v-6.3l.5 2.5v1.5l.5 4.9v-5.2l.5 1.7v5.4l.5-1.9v-2.1l.5-1.9v6.8l.5 0.3v-3.1l.5-10.1v11.1l.5 1v-3.2l.5 0.2v4.1l.5 0v-2.6l.5-1.3v3.8l.5 0.1v-0.8l.5-4.8v5.6l.5-2.7v-6.9l.5 3.7v2.4l.5 1.8v-7.7l.5 2.1v2.6l.5 1.3v-2l.5-4v5.9l.5-3.1v-3.4l.5 1.4v6l.5-1.1v-3.6l.5 0.8v5.8l.5-4.6v-3.9l.5 1v7.4l.5 0.8v-2.1l.5 0.5v1.4l.5-0.7v-2.2l.5-5.2v5.5l.5-2.3v-3.6l.5-2.3v6l.5-0.1v-3.4l.5 0.4v4.6l.5-2.9v-3.3l.5 0.8v3.7l.5 1.5v-7.3l.5-0.1v3.9l.5 0.5v-6.8l.5 0.6v12l.5-6.9v-3.1l.5 1.3v4.8l.5-4v-3l.5 2v3.4l.5-4.7v-2l.5-0.2v3.4l.5 3.5v-6.1l.5 1.1v2.2l.5 3.4v-5.1l.5 1.1v3.5l.5 2.6v-2.4l.5-1.9v3.8l.5 2.4v-4.6l.5-4.4v4.1l.5 2.3v-2.2l.5-2.4v2.4l.5 1.6v-3.5l.5 2.2v2.2l.5 0.5v-2.7l.5-1.8v3.8l.5-1.2v-3.7l.5-0.5v1.1l.5 3.8v-6.7l.5 1.4v4l.5-5.5v-1.1l.5 1.7v3.7l.5 7v-7.2l.5-2v3.9l.5-0.8v-3.2l.5-0.9v5.3l.5-0.9v-2.5l.5 0.2v1.7l.5 3.8v-5.2l.5-0.8v3.1l.5-0.7v-1.9l.5-0.6v2.6l.5 4.1v-9.3l.5 2.4v6l.5-0.9v-5.2l.5-0.7v4.9l.5-2.9v-4.2l.5 0v1.2l.5 1.2v-2.3l.5 0.4v2.3l.5 1.3v-2.3l.5 1.6v2.8l.5 2v-4.2l.5 1v6.7l.5-1v-2.1l.5-1.8v4.9l.5-3.8v-1.2l.5-5.8v6.4l.5-1.8v-2.3l.5-2.3v3.2l.5 2.5v-0.7l.5-3.3v3.5l.5-1v-2.1l.5-0.2v1.8l.5 2.6v-4.9l.5 2v2.2l.5 1.2v-2.3l.5-1.2v3l.5-0.1v-2.9l.5 0.9v2.5l.5 2.2v-2.4l.5-2.5v3.6l.5-0.7v-2.1l.5-0.8v3.4l.5-0.5v-2.7l.5 2.7v1.9l.5-1.8v-1.8l.5-1.2v3.3l.5-0.5v-5.7l.5 1.1v3.6l.5-0.7v-1.9l.5-13.2v16.4l.5 0.6v-2.4l.5-3.3v2.7l.5-0.1v-3.6l.5 0v4.2l.5-0.6v-3l.5 1.8v4l.5 0v-2.3l.5 0.1v2.9l.5-1.5v-3.4l.5 1.9v1.5l.5 1.4v-3.2l.5 0v4.3l.5-1v-2.9l.5 3v1.9l.5 0.9v-4.4l.5-13.9v16.2l.5-0.6v-2.4l.5-0.1v2.2l.5 1.1v-2.7l.5 0.7v2.5l.5-2.4v-5.1l.5 3.3v2.5l.5 0.5v-6.4l.5-0.2v5.5l.5-0.3v-2.6l.5-1v2.8l.5 0.3v-1.5l.5-0.1v1.5l.5-0.2v-2.5l.5-2.2v2.3l.5-1.7v-0.6l.5 0.8v2.3l.5 1.3v-3.7l.5 4.5v3.2l.5-0.1v-2.5l.5-2.3v2.7l.5 1v-3.5l.5 0.4v4.3l.5 2.4v-3.9l.5-1.5v2.2l.5 1v-4.1l.5 0.2v1.6l.5 0.3v-2.2l.5-2v2.6l.5 2.2v-1.5l.5-0.8v4.3l.5-1.4v-3.1l.5 0.4v3.1l.5-0.6v-2.9l.5 0.3v3.6l.5-0.3v-4.4l.5 1.3v4.6l.5-3.1v-3.6l.5 1.8v1.8l.5-0.3v-1.6l.5-0.3v2.8l.5-0.6v-1.6l.5 2v0.6l.5 3.4v-0.7l.5-4.4v4.9l.5 0v-2.4l.5-1.7v3.1l.5-0.7v-2.5l.5-3.9v3.5l.5 2.1v-3.8l.5-1.5v3.3l.5-2.1v-2.2l.5-1.4v3.4l.5 0.2v-2.2l.5-1.7v2l.5 2.2v-2.2l.5 0.9v3.9l.5-2v-2.4l.5 0.1v2.1l.5 0.6v-2.1l.5-1v3.8l.5 4.2v-6.1l.5-0.3v4.1l.5 1.7v-4.6l.5 0.3v3l.5 0.4v-2.4l.5-2.4v4.5l.5-0.1v-5l.5 2.6v3.6l.5-0.9v-2l.5-1.9v3l.5-0.8v-1l.5-1.4v2.5l.5 0.9v-3.7l.5 0.5v4l.5-0.3v-3l.5-0.7v3.2l.5 1v-2.5l.5-2v3.6l.5-2.4v-1.6l.5 0.9v3.6l.5 0.9v-4.3l.5 2.8v2.7l.5 0.4v-3.1l.5 0.2v2.6l.5-0.1v-2.2l.5-0.4v2.2l.5 1.3v-7.1l.5-2.9v4.9l.5-0.6v-2.2l.5-0.6v7.5l.5-6.3v-1l.5-1.6v4l.5-1.4v-3.3l.5 3.4v1.1l.5 0.6v-1.8l.5-0.4v3.8l.5-1.5v-2.1l.5-0.6v5.3l.5 0.9v-3.9l.5 1.4v3.6l.5-2.1v-0.8l.5-3.4v3.4l.5-1v-2.5l.5 1.5v4.3l.5 0.6v-3.9l.5-1v2.6l.5-0.7v-4.5l.5 0.3v4.8l.5-6.2v-1.5l.5-0.3v2.8l.5-1.8v-1.1l.5 2.4v2.4l.5 0.3v-4.9l.5 1v2.6l.5 0.4v-4.2l.5 1v5.2l.5 0.6v-3.9l.5 0.6v3l.5 0.4v-2.9l.5-0.4v2.1l.5 2.4v-2.2l.5-4.9v5.8l.5 1.3v-4.1l.5-1.5v7.4l.5-4.1v-1l.5-4.1v6.4l.5-2.6v-4.2l.5-0.2v4.7l.5-1.7v-1.4l.5-0.9v4.6l.5-0.2v-2.1l.5 0.7v2l.5 0.2v-3.1l.5 0.2v2.7l.5 0.7v-3.6l.5 2.7v3.6l.5 0.2v-4.7l.5-1.3v3.6l.5 0.4v-2.8l.5-4v6.5l.5 3v-5l.5-0.2v4l.5 0v-3.5l.5-1v3.7l.5-0.4v-2.9l.5 4v1.9l.5 0.8v-3.5l.5 0.6v3.4l.5-3.7v-2.1l.5-2.9v4.9l.5-1.8v-2.9l.5-0.1v5.6l.5-2.1v-2.8l.5 0.9v4.9l.5-1.7v-3l.5-2v4.6l.5 1.3v-3.1l.5 2.8v2.6l.5-2.1v-3.7l.5-0.2v1.9l.5-0.1v-3.4l.5 1.2v2.5l.5-1.1v-3.7l.5 1.5v3.2l.5-0.4v-3.7l.5 1v3.8l.5 2.1v-6.3l.5 0.2v2.9l.5 2.3v-3.1l.5-0.4v3.8l.5-1.1v-5.4l.5 2.2v0.9l.5 3.4v-4.3l.5-1.4v4.1l.5-2.3v-2.4l.5-2.1v5.9l.5-2v-2.3l.5-2.5v11.6l.5-7.6v-4l.5 0v1.2l.5 4.1v-5.2l.5 2.4v2.2l.5 4v-5l.5 2.5v6l.5-1.8v-2.9l.5-3.3v4l.5-1v-4l.5 0.4v3.6l.5-2.5v-2.5l.5-1.6v2.8l.5-0.3v-1.9l.5 1.7v6.4l.5-1.4v-2.7l.5-4.1v8.4l.5-5.5v-2.5l.5-2v2.4l.5-2.4v-0.2l.5-0.2v1.9l.5 0.3v-1.7l.5-0.6v5.6l.5-3.2v-1.3l.5-1.2v3.2l.5 2.7v-1.8l.5-2.6v4.5l.5 6v-13.2l.5 1v6.4l.5 1.1v-4.3l.5-4.5v7.3l.5 5.4v-5.8l.5-3.6v4.9l.5-0.8v-3.7l.5 2.3v6.2l.5-3.5v-2.2l.5-3.8v4.3l.5-0.2v-1.5l.5-3v4.6l.5-0.2v-3.9l.5 1v3.3l.5 1.3v-3.6l.5-0.9v3.9l.5 0.4v-3.1l.5-0.6v8.9l.5-3.7v-4.8l.5-2.4v8.2l.5 0.6v-8.1l.5 2v8.7l.5 0.1v-12.7l.5 7.9v4.5l.5-1.5v-5.6l.5 2.5v7.5l.5 2.2v-5.8l.5-15.6v19.4l.5-4.2v-12.3l.5 8.8v9.1l.5-4.5v-17.9l.5 6.6v14.2l.5 0.4v-19.2l.5 15.8v8.3l.5 0.4v-12.8l.5 7.2v5.7l.5 0.1v-5.7l.5-24.9v30.6l.5-0.1v-13.3l.5-3.3v13l.5 3.2v-16.1l.5-14v22.8l.5 1.2v-13l.5-5v18.3l.5-15.4v-12.3l.5-0.1v8.5l.5 1v-9.5l.5 2.1v8.3l.5-3.3v-7.3l.5-4.2v14.2l.5 3.9v-12.5l.5 14.7v3.2l.5-2.1v-14.6l.5-0.7v12.4l.5 5.9v-16.6l.5 11.5v12.3l.5-13.4v-14.6l.5 5v14.5l.5 10.1v-22.5l.5-0.5v16.2l.5-13.3v-9.8l.5 3.1v9l.5 3.8v-14.2l.5-1.9v16.2l.5 10.3v-16l.5-1.2v12.7l.5 6.3v-22.4l.5 10v2.9l.5 7.5v-16.2l.5-12.2v29.3l.5-9v-10.1l.5-2.2v14.5l.5-7.4v-7l.5-6.8v9.8l.5-2.3v-7.6l.5 8.3v7.9l.5 10.1v-5.3l.5-8.1v17.8l.5-5.4v-13.4l.5 4.1v8.2l.5-0.9v-14.6l.5-2.2v16.7l.5 2.6v-11.6l.5-2.9v12.2l.5-1.3v-10.7l.5-2v11l.5 7.6v-17.7l.5 11.3v6.7l.5-2.8v-10.8l.5-1.3v7.4l.5 1.3v-23.4l.5-0.1v14.5l.5 8.8v-13.3l.5-7.5v9.6l.5 7.7v-17.1l.5 1.7v16.8l.5-2.6v-9.8l.5-3.1v13.6l.5 1.5v-14.6l.5 0.5v19.5l.5-3.5v-13.9l.5-2.2v19.5l.5-13.6v-7.6l.5-5.8v9.4l.5-0.3v-9.1l.5-0.1v11l.5 4.7v-14.2l.5-1.7v6.8l.5 8.3v-12.9l.5-2.3v18.7l.5-4v-13.6l.5-1.3v1.6l.5 11.2v-9.5l.5-3.4v11.8l.5 3.3v-15.1l.5-1.3v26.4l.5-0.6v-15.2l.5-5.2v11.4l.5 11.2v-17.8l.5 5.5v3.3l.5 6.8v-11l.5-3.3v17.1l.5-11.5v-3.6l.5-11.5v15.1l.5 9.2v-9.8l.5-2.5v12.2l.5-4.1v-11.5l.5 2.2v9.4l.5 4.5v-15.3l.5 2.8v7.6l.5 0.4v-6.5l.5 1.7v7.7l.5 0.7v-14.2l.5-2.1v8.9l.5 0.1v-11.7l.5 12.6v4.6l.5-0.1v-10.2l.5-7.4v10.3l.5-0.3v-9.1l.5 2.2v6.3l.5 0.4v-5l.5-5v15.3l.5-7.1v-13.3l.5 2.4v9.7l.5 8.2v-8.4l.5-24.9v23.3l.5 3.4v-9.8l.5-9.4v17.8l.5 1.1v-8.7l.5-6.7v6.6l.5 12.2v-10l.5-8.4v11.1l.5 0.9v-9l.5 2.6v7.1l.5-0.8v-14.6l.5 2.9v5.8l.5-5.3v-6.4l.5 2.8v11.4l.5 2.6v-9.8l.5-12.1v23.1l.5-17.7v-9.6l.5-1v14.1l.5 0.6v-16.5l.5 10.1v10.5l.5 7v-19.7l.5-4.4v9.1l.5-1.4v-1.6l.5-10v15.4l.5 5.2v-24.8l.5 12.6v10.1l.5-2.1v-13.5l.5 0.1v13.8l.5 3.8v-17.8l.5 3.9v16.8l.5 79.3v-73.4l.5 32.3v37.1l.5-9.2v-19.9l.5-16.4v31.4l.5 2.2v-38.1l.5-50v64l.5-13.5v-32.5l.5 2.5v33.2l.5-10.2v-28.3l.5-0.4v27.9l.5 5.4v-26.2l.5-7.2v20.3l.5 10.6v-31.6l.5 18.8v5l.5 44v-68.6l.5 13v33.2l.5 22v-40.6l.5-14.5v56.4l.5 3.8v-52.7l.5 47v5.8l.5-8.7v-44l.5-29.9v65.6l.5-1.7v-18.1l.5-27.9v25.7l.5 33v-45.7l.5-4.2v39.2l.5-27.9v-25.9l.5-4.4v43l.5 9.8v-48.7l.5 3.7v34.3l.5-5.2v-17.1l.5 12.6v41.9l.5-23.5v-14.4l.5 3v37.4l.5-14.3v-65l.5 28.3v42.7l.5-26.7v-44.2l.5 16v60.7l.5-37.3v-37l.5-6.7v30.7l.5 30.8v-41.2l.5-4.9v53.1l.5 2.5v-29.4l.5-1.5v36.3l.5-7.4v-17.7l.5-22.8v14.3l.5 12.5v-15.6l.5 6.3v16.8l.5-1.5v-12.3l.5-1.3v12.8l.5-1.8v-13.5l.5 1.4v16.5l.5 0.4v-15.8l.5 5.3v9.7l.5-0.2v-7.3l.5-5.8v10.7l.5-4.1v-7.1l.5-4.2v10.3l.5-6.3v-10.6l.5 7.9v6.3l.5 1.9v-7l.5-7.1v10.7l.5-4.1v-9.3l.5 1.8v3.4l.5 4.6v-7.3l.5-0.7v11.9l.5-1v-4.6l.5-3.6v10.8l.5-2v-2.6l.5 1v5.1l.5 0.8v-7.7l.5-0.6v8.7l.5-7.4v-2.5l.5 1.2v9.3l.5-0.1v-3.3l.5-4v3.8l.5 3.4v-6.6l.5-0.1v6.7l.5-1.9v-6.6l.5 0.9v6.1l.5-2.2v-4.9l.5-3v7.2l.5-2.8v-2.1l.5 0.5v3.1l.5 1.1v-5.6l.5-6.3v14.7l.5-7.3v-5.1l.5-1.7v8.2l.5 0.2v-4.4l.5-5.3v5.5l.5-1.9v-3.6l.5 0.6v7.4l.5 0.2v-5.5l.5 1.9v2.1l.5 3.7v-9.5l.5 1.4v7.5l.5-3.2v-3l.5 2.4v4.4l.5 0.3v-6.2l.5 6.2v3.1l.5 0v-6l.5 0.6v5.4l.5-2.8v-3.3l.5 1.9v2.7l.5 2.9v-5.1l.5-0.6v4.3l.5-1v-6.5l.5-1.4v6.9l.5-3.5v-6l.5 1.1v3.1l.5 3.3v-2.5l.5-2.4v3.6l.5 3.5v-7.8l.5 2.6v3.4l.5 0.2v-7.1l.5 3.3v8.9l.5-8.6v-3.1l.5 0v8.2l.5 7v-10.2l.5-0.6v3.3l.5 6.6v-11.2l.5 3.4v2.4l.5-1.5v-6.8l.5 0.2v8.4l.5 13.1v-19.2l.5 2.5v11.8l.5 4v-12.9l.5-8.2v20.4l.5 5.4v-9.6l.5-8.2v15.1l.5 1.3v-5.8l.5-3.5v4.6l.5 3.7v-11.7l.5 1.2v12.7l.5 0.2v-13.1l.5 6.7v8.6l.5-5.1v-8.5l.5-7.8v15l.5-13v-10l.5 2.7v9.9l.5 0.3v-10.2l.5-2.7v12.1l.5-4.4v-7.7l.5 4v4.9l.5-8.7v-0.2l.5 0v17.9l.5-5.3v-7.7l.5 0.3v15l.5-1.1v-12.2l.5 2.2v12.4l.5 3.3v-11.7l.5-0.3v9.8l.5 3.2v-15.9l.5-8.1v24.2l.5-8.7v-12.7l.5-3.2v16.2l.5-1.9v-10.7l.5-5.1v12.3l.5-1.2v-11.1l.5-0.1v7.4l.5 20.1v-27.7l.5 6.4v18.9l.5 4.3v-22.5l.5 10.4v12l.5-0.1v-14.1l.5-8.7v18.4l.5-1.1v-15.4l.5 7.3v8.8l.5 0.7v-3l.5-8v14.5l.5-1.5v-16.9l.5 13.1v5.4l.5 0v-8.4l.5-7.9v16l.5 0.1v-10.5l.5 5.8v4.7l.5-0.1v-7.1l.5-0.5v7.5l.5 0v-29.6l.5 21v8.5l.5-0.1v-13.5l.5-13.1v9.4l.5 1.4v-11.8l.5 0.4v21.7l.5-8.4v-7l.5-5.5v12.3l.5 3.2v-10.1l.5 4.4v13.7l.5 2.3v-11.1l.5 0.3v6.2l.5 0.8v-19.5l.5 15.6v7.5l.5-1.1v-31.2l.5 21.1v10l.5 1v-18.2l.5 2.1v12.9l.5 1v-16l.5-8.8v23l.5-11.3v-17.6l.5 4.7v14.9l.5 11.1v-24l.5 1.4v23.5l.5-10.3v-15.4l.5-6.6v16.6l.5-4.5v-5.6l.5 2.2v9.2l.5-8v-8.1l.5-4.3v9.8l.5-9.8v0l.5 0v10.2l.5 11.4v-14.7l.5 0.9v11.3l.5 4.5v-23.5l.5 0v16.2l.5 1.2v-15.2l.5-2.3v14.8l.5-4.5v-10.3l.5 0v15.8l.5 0v-15.8l.5 9.1v8.6l.5 4.4v-9.8l.5 2v15.4l.5 4.6v-15.7l.5-3.7v9.6l.5-0.5v-7.2l.5 4.3v15.1l.5-14.2v-22l.5 2.8v16.3l.5 6.7v-13.2l.5-7.3v26.4l.5-13.5v-8.1l.5 14.7v11.5l.5-5.2v-17.4l.5 6.8v15.9l.5 0v-23.5l.5 4.9v9.1l.5-3v-12.5l.5-5.3v15.1l.5-0.2v-13.8l.5 1.7v14.6l.5-0.7v-22.4l.5-0.4v20.9l.5 0.9v-16.5l.5 2.9v15.2l.5 3.4v-10.9l.5-5.3v15.8l.5 10.2v-12l.5-22.5v30.8l.5-2.4v-17.6l.5 10.2v13.6l.5-11.1v-17.6l.5-5.6v15.5l.5 17.9v-34.8l.5-1.2v20.5l.5 15.3v-32.6l.5-4.4v23.5l.5-7.4v-14.9l.5 7.3v15.5l.5 1.2v-16l.5-13.5v26.9l.5-10.7v-17.1l.5 23.4v16.6l.5-12.9v-28.6l.5 24.1v19.5l.5 6v-29.5l.5-9.1v45.8l.5-37v-10.4l.5-11v26.6l.5 10.6v-27.4l.5 6.2v22l.5-4.8v-12.1l.5-17.7v37.1l.5 23.4v-58.1l.5-5.8v10.2l.5 19.6v-29.8l.5 0v4.3l.5 10.1v-13.3l.5 9v15.7l.5 17.8v-35.3l.5-2.9v19.9l.5 14.5v-27.8l.5-11.4v25.1l.5-6.7v-8.5l.5-6.2v39.8l.5 18.7v-57.8l.5 30v31.2l.5-4.9v-17.1l.5-38.9v60.9l.5-31.1v-9.1l.5-2.9v28.7l.5 14.4v-26.6l.5-9.9v36.5l.5-27.6v-35.7l.5 6.1v37.3l.5 4.5v-34.5l.5 5.7v25.4l.5 15.5v-39.5l.5 14.1v25.4l.5 1.8v-20.1l.5-6v27.1l.5-1.4v-23.4l.5 3.6v11.4l.5-10.5v-11l.5 0v10.9l.5-3v-14.5l.5 5.6v14.7l.5-4.3v-9l.5 1.2v8.9l.5-6.7v-2.9l.5-1.7v4.1l.5 11.4v-18.8l.5-3.2v21.8l.5-7.2v-8.9l.5-5.4v7.5l.5 5v-8.2l.5-3.6v14.2l.5 3.5v-7.3l.5-1.2v8.8l.5 3v-2.6l.5 2.6v0l.5 0v-2.5l.5-1.6v4.1l.5 0v-7.5l.5-2.9v10.4l.5 0v-9.8l.5-1.9v8.6l.5-0.9v-15.9l.5 10.8v9.1l.5-2.8v-12.3l.5-5.9v16.6l.5-9.2v-6.3l.5 2.6v8.8l.5-4.7v-5.5l.5-3.3v8.4l.5-0.9v-7.1l.5 0.5v11.3l.5 8.8v-18.7l.5-2.3v6.2l.5 8.1v-14.3l.5 0v12.9l.5 0.3v-9.4l.5-3.7v11.1l.5 2.8v-7.3l.5-0.2v6.3l.5-3.1v-7.1l.5 2.8v5.3l.5 7.2v-9.9l.5 6.7v6.1l.5-0.3v-6.8l.5-4.5v12.8l.5-6.2v-9.3l.5 0.2v14.7l.5 0v-8.4l.5 1.3v7.4l.5-3.3v-10.6l.5 2.3v11.9l.5-1.1v-12l.5-0.1v13l.5-5.3v-13.8l.5 3.8v4.8l.5-0.1v-11.2l.5 2.3v7.5l.5 5.5v-12.7l.5 4.6v10.6l.5-2.3v-8.5l.5 3.7v7.9l.5-4.5v-8.7l.5-3.6v15.1l.5-0.3v-13l.5-0.6v7.8l.5 1.4v-8.1l.5-4.1v9.7l.5 2.4v-12.1l.5 6.9v6.4l.5-4.9v-6.5l.5 4.2v8.8l.5-6v-5.7l.5 1.5v4.2l.5-0.1v-3.9l.5-15.4v19.8l.5-1.1v-3l.5 0.2v2.4l.5-0.2v-0.7l.5-2.5v2.1l.5 1.2v-1.7l.5-1.3v1.9l.5-0.6v-1.7l.5-2.4v1.4l.5 3.2v-3.2l.5 0.1v1.8l.5 2v-1.6l.5-1.7v2.2l.5-0.9v-1.5l.5-2.6v8.1l.5-2.1v-2l.5-1.7v2.3l.5-1.5v-1.9l.5-1.3v3.7l.5 0.6v-3.4l.5 0.6v1.9l.5 0.9v-1.8l.5-0.5v3l.5-0.8v-1l.5-1.7v2.7l.5-0.1v-2.5l.5-1.5v3.9l.5 0.6v-2.8l.5 0v2.4l.5-0.7v-1.7l.5 1.2v3l.5-0.6v-1.7l.5-1v2.9l.5-1.3v-3.7l.5-0.6v2.2l.5 6v-7.9l.5-0.9v1.1l.5-0.4v-0.8l.5 0v1.8l.5-0.4v-1.4l.5 0v2.1l.5 0.1v-2.2l.5 0v1.2l.5 2.4v-2.8l.5 0v0.9l.5 3.5v-3.3l.5 0.2v2l.5 0.7v-0.4l.5 1.4v1l.5 0.8v-1.4l.5-17v19.9l.5 0.3v-2.6l.5 1.3v1.3l.5 0v-2l.5 0.6v1.4l.5 0v-1.5l.5-0.3v1.8l.5 0v-1.6l.5-0.6v0.7l.5 0.6v-2.1l.5-0.8v3.6l.5-2.5v-6.1l.5 4.8v1.3l.5 2.7v-5.1l.5-3.5v6l.5 0.2v-1.7l.5-0.5v2.4l.5 2.2v-1.6l.5-0.7v2.3l.5-1v-1.9l.5-0.6v1.5l.5 1.4v-2.3l.5 1.2v1.4l.5-0.5v-2.1l.5-1.7v3.1l.5-2.3v-3.3l.5-5.4v4.8l.5-3.5v-7.3l.5-3.1v1.4l.5-2.1v-5.5l.5 0.8v4.6l.5-1.9v-6.4l.5-2.7v6.1l.5-4.5v-4.2l.5-2.9v5.6l.5-0.1v-3.2l.5 1v7.5l.5-3.9v-5.5l.5-0.8v3l.5 1.1v-2.8l.5-2.6v4.3l.5-1.8v-2.9l.5 2v2.1l.5 1.8v-1.2l.5-1.8v5l.5 1v-3.7l.5 0.9v3.5l.5 0.7v-3.7l.5 1v3.4l.5 7.1v-9.2l.5 4.2v8l.5 4.7v-14.8l.5-1.2v6.4l.5 6.4v-17.6l.5 10.5v8.9l.5 6.5v-12.7l.5-14v12.7l.5 0.6v-10l.5-0.9v4.6l.5 11.1v-15l.5-3.3v25.8l.5-10.4v-15.3l.5-1v3.1l.5 13.3v-16.4l.5 0v3.8l.5 11.6v-12.9l.5 6.9v10.3l.5 1.3v-12l.5-1.3v8.6l.5-2.7v-13.6l.5 0v17.5l.5-8.4v-9.1l.5 3.6v12l.5-5.9v-9.7l.5 3.8v7.4l.5-3v-6.9l.5 5.3v12.4l.5-1.9v-6.9l.5-5v21.5l.5-6v-13.3l.5 11.1v7.4l.5-3.7v-14.1l.5 0.8v3.6l.5 14.1v-14.9l.5 0.9v12.4l.5 2.9v-9.3l.5-3.9v7.7l.5-10.8v-4.1l.5-3.3v14.1l.5-0.5v-11.7l.5-5.7v16.3l.5 7v-12.3l.5 1.2v6.9l.5-1.6v-8.6l.5 5.9v11.8l.5-5.1v-9.2l.5-1v14l.5-7.4v-9.8l.5-5.8v11.1l.5-0.9v-12.9l.5 3.7v8.3l.5 6.8v-16.4l.5-0.5v11.4l.5-2.1v-7.4l.5-3.8v8.4l.5-5v-3.4l.5 0v12.5l.5-0.7v-11.8l.5 0v8.1l.5 6.1v-12.8l.5 10.5v8.9l.5 4v-13.9l.5-9v17.7l.5 8v-17.7l.5-1.7v11.2l.5 8.1v-10.5l.5-14.3v14.4l.5 1.8v-15.1l.5 2.4v21.9l.5-19.3v-8.8l.5 1.2v15.8l.5 6.3v-14.2l.5-9.1v12.1l.5 0.5v-8.4l.5-4.2v12.3l.5-8.4v-3.9l.5 6.4v22.1l.5-12.8v-10.4l.5-3.6v12.2l.5-3.7v-7.8l.5-2.4v10.1l.5 4.5v-14.6l.5 0v12.3l.5 4v-16.3l.5 7.5v10.5l.5-0.8v-16.5l.5 2.4v15.1l.5 5.7v-23.9l.5 2v10.5l.5 4.3v-9.7l.5-2.4v12.5l.5 3.8v-12.6l.5 10.5v10.5l.5-2.6v-12l.5-6.7v18.5l.5 2.8v-19.2l.5 15.3v3.9l.5 0v-9.6l.5-13.4v21.8l.5-5.3v-13l.5-7.9v15.1l.5 9.3v-14.1l.5 4.8v11.5l.5 4.4v-14.9l.5 0.5v12.7l.5-0.3v-5.3l.5-7.6v11.3l.5 4.4v-11.7l.5 4.9v10.4l.5 0v-8.9l.5-3.4v12.3l.5-2.6v-10.3l.5 4.4v8.5l.5-2.6v-12.5l.5-12.1v25l.5 0.9v-26.2l.5 13.2v12.4l.5-13.4v-6.3l.5 4.3v12.8l.5-3.4v-6.3l.5-3.1v12l.5 5.3v-14.2l.5-10.2v13.5l.5 2.5v-13.4l.5-0.2v12.1l.5 0.2v-13.1l.5 5.7v8.7l.5 8.4v-27.6l.5 5.8v20l.5 1.8v-15.1l.5 3.4v8.2l.5 3.5v-6.1l.5-6v12.1l.5 0v-15.5l.5-4.9v6.1l.5 1.7v-7.2l.5-9.6v18.2l.5 8.4v-13.7l.5 5.8v9.1l.5-7.3v-3.7l.5-0.2v11l.5-7.1v-16.1l.5-0.8v13.8l.5 1.5v-5.9l.5-6v16.7l.5 3.8v-13.5l.5-1.4v10.1l.5-3.4v-6.8l.5-0.3v10.9l.5-5.4v-7.9l.5 1.2v5.9l.5 12.5v-16.1l.5-4.4v9.5l.5 11v-11.8l.5 7.2v4.6l.5 0v-8.4l.5-8.5v16.4l.5-0.2v-16.5l.5 2.4v10.6l.5 4.2v-9.4l.5-10.5v13.5l.5-7.9v-12.7l.5 4.9v9.4l.5-4.9v-8.6l.5-1.9v13.5l.5-6.8v-6.4l.5 3.9v2.8l.5 5.7v-5.2l.5-6.5v4.8l.5 1.2v-6l.5 0v3.8l.5-0.7v-3.1l.5 0v7.6l.5 1.4v-9l.5 2.2v7.1l.5-0.7v-5.4l.5 5.5v1.6l.5 2v-9l.5 5.6v5.7l.5 1.4v-5.2l.5-10.3v12.9l.5-6.9v-6.5l.5 1.3v3.5l.5 3.9v-6.7l.5 0.3v10.6l.5-2.3v-6.5l.5 3.5v2.1l.5-1.4v-3.2l.5-3v8.4l.5 5.7v-11.2l.5 6.7v6.1l.5-3.4v-7l.5-2.3v11.4l.5-6v-6.5l.5 0.1v8.5l.5 0.4v-4l.5-2.6v3.4l.5 1v-4.3l.5-0.1v5.6l.5 4.6v-12.2l.5-1.1v5.5l.5-3.8v-5l.5 4.1v3.4l.5-1.5v-6l.5 1.2v9.5l.5-0.1v-3.6l.5-2.3v6.6l.5 2.4v-4.2l.5 0.9v2.8l.5 0.9v-14.1l.5 1.8v9.6l.5-3.3v-6.8l.5 4.5v3.7l.5 5v-4.8l.5-1.4v9.2l.5-6.1v-5.1l.5 1.2v5.1l.5-1.9v-10.7l.5 6.4v4.8l.5 3.5v-7.9l.5 1.3v7.9l.5 1.8v-8.8l.5-3.4v3.7l.5 5v-7.6l.5-3.7v8.3l.5 2.3v-5.2l.5-6.4v6.6l.5-3.5v-3.4l.5-1.4v6.3l.5 6.8v-9l.5-0.9v5.6l.5 1.2v-7l.5 2.6v4l.5 3.5v-7.1l.5 4.4v6.1l.5-1.7v-3l.5-2.8v6.4l.5-1.8v-3.8l.5 2.1v3.2l.5-0.8v-4.7l.5 1v3.5l.5 4v-4.9l.5-1v3.7l.5-0.8v-2.8l.5-4v3l.5-1.5v-3.7l.5 0.5v5.5l.5 0v-3.4l.5 0.7v2.8l.5 0.6v-4l.5 2.2v4.5l.5 1.1v-5l.5 0.1v5.4l.5-1.3v-3.1l.5 1.2v6.2l.5-0.5v-6.8l.5-1.3v5.3l.5-0.7v-4.7l.5-3.1v5.5l.5-4.6v-3.3l.5 2.6v10.9l.5-8.5v-5.3l.5 1.4v2.6l.5-1.7v-1.4l.5 0.1v5.5l.5-1.4v-4.8l.5 5.5v5l.5-1.5v-1.3l.5-1.6v2.5l.5-2.4v-4.8l.5 3.3v5.8l.5-5.2v-4.2l.5 0.2v4.3l.5-1.4v-9.3l.5 3.2v4.8l.5 4.2v-6.9l.5 2.7v7.8l.5 0.9v-13.2l.5 0.1v3.9l.5 4.1v-5l.5 4.8v6l.5 0.3v-8.3l.5 0.8v3.5l.5 3.2v-5.9l.5 0.5v6.2l.5 0v-3.9l.5-0.6v3.4l.5-0.7v-1.6l.5-14v14.2l.5 3.2v-9.1l.5 4.4v3.2l.5 1.5v-1.9l.5-1.4v3l.5 0v-16.4l.5 11.2v4.5l.5 0.5v-6.2l.5 1.5v5.2l.5 0v-2.6l.5-6.7v8.4l.5-2.8v-3.3l.5 3.2v3.8l.5 0v-7.7l.5 1.6v1.9l.5 4.2v-11.4l.5 7.3v4.1l.5 0v-6.9l.5 2v4.9l.5 0v-1.6l.5-2.2v3.8l.5-2.3v-4.5l.5 2.1v4.7l.5-10.7v-1.7l.5-5.4v6l.5 5.4v-7.6l.5-3.4v13.4l.5-3.5v-9.1l.5 8.7v5.8l.5 1.9v-7l.5 4.6v2.6l.5-1v-7.6l.5-2.4v9.5l.5 1.5v-4.4l.5-4.1v8.5l.5-4.9v-2.7l.5-2.2v5.8l.5 4v-6.2l.5-4.6v6.2l.5-5.1v-4.8l.5 0.3v1.7l.5 3.8v-8.6l.5 7.8v7.1l.5-4.3v-5.5l.5-1v6.4l.5 0.4v-8.3l.5 1.7v2.9l.5 9.7v-15l.5-0.1v7.1l.5-5.7v-3.1l.5-0.6v6.4l.5-1.7v-3.8l.5-0.9v6l.5 3v-9l.5 0.7v4.8l.5-1.3v-4.2l.5 0v2.2l.5 4.5v-4.6l.5-2v7.5l.5-4.8v-2.8" fill="none" stroke="#000" stroke-width="1.2" stroke-linejoin="round" clip-path="url(#c2)"/>
<path d="M213.95 489.7v2.5l.5 0.6v-1.4l.5 0.4v1.2l.5-0.2v-2.4l.5-1.2v1.7l.5 1.3v-3.5l.5-0.5v2.5l.5 0v-2.5l.5 0.2v1.7l.5-0.6v-0.9l.5 0.2v8.3l.5-4.3v-3.9l.5 3.6v1.2l.5 0.6v-2.2l.5-0.6v3.3l.5-1.3v-1.8l.5-1.5v2.1l.5-0.7v-0.8l.5-0.5v1.9l.5-0.2v-1.6l.5 0.1v0.5l.5 1.5v-1.3l.5 1v1.6l.5-0.4v-1.5l.5 0.8v1.6l.5-1.3v-1.8l.5 1.7v2.4l.5 0.4v-0.3l.5-0.9v2.3l.5 0.6v-1.4l.5-0.5v1.7l.5-0.9v-2.3l.5 0.7v1.2l.5-1.2v-2.1l.5 0.4v2.1l.5-0.5v-2.1l.5 1.2v2.6l.5 0.2v-1.5l.5 0.7v1.8l.5 0.1v-2.4l.5-2.3v2.1l.5-0.3v-1.3l.5 2v1.8l.5 0.5v-1.7l.5 1.1v2.2l.5 0v-3.3l.5-0.7v1.1l.5 0.9v-3.5l.5 1.1v2l.5 1.7v-3.8l.5-2.5v0.8l.5 2.2v-2.2l.5 2v0.8l.5 0.5v-2.3l.5 2.3v2.4l.5-1.3v-1.5l.5-1.4v1.6l.5-1.2v-2.6l.5-1.3v2.1l.5 0.7v-4l.5 0.4v9.2l.5-1.4v-4.9l.5-2.2v4.4l.5-2.6v-4.1l.5-0.5v6.5l.5-0.6v-2.1l.5-0.4v2.7l.5-2.1v-1.5l.5 3.6v3.9l.5-2.7v-5.9l.5-1.9v1.8l.5 0.9v-2.3l.5 1.7v9.6l.5-6.9v-4.9l.5 0.3v3.6l.5-0.1v-3.5l.5 2.8v3.2l.5-0.7v-3.4l.5-10.8v17.1l.5-0.4v-4.2l.5 2.8v4.4l.5-0.9v-2l.5 0.4v1.8l.5 2.4v-2.2l.5-3.4v5.7l.5-1.8v-1.6l.5-2.7v3.5l.5-0.6v-2.5l.5 0.8v4.9l.5-1.4v-4.1l.5 0.7v3.6l.5-2.2v-9.4l.5 8.3v2l.5 2.6v-4.5l.5 1v2l.5 1.5v-2.7l.5-0.4v2.9l.5 0v-5.4l.5 1.7v2.7l.5 1.2v-2.2l.5-17.4v15.1l.5-1.1v-3.9l.5 1.8v3.7l.5-0.8v-8.4l.5-0.4v8.3l.5-6.1v-2.3l.5 0v4.6l.5 2.9v-1.6l.5-4.3v4.6l.5 1.5v-7.7l.5 3.7v3.7l.5 1.9v-6.3l.5-3.1v4.8l.5-0.9v-2.5l.5-1.4v3.7l.5 9.5v-12.5l.5-0.8v1l.5 0.9v-1.9l.5 0.3v3.2l.5 1.2v-2.4l.5 0.7v4.7l.5-3.9v-3.3l.5 0v3.8l.5 6.6v-5.9l.5-0.3v3.6l.5 5.9v-3.3l.5-2.9v5.1l.5 1.1v-4.2l.5 2.7v1.5l.5 0v-1.8l.5-1.5v3.4l.5 0v-1.4l.5-1.6v3l.5-0.4v-5.3l.5-0.9v4.6l.5 1.1v-12.6l.5 5.1v4.3l.5-4.1v-6.5l.5 2v2.1l.5 2.6v-5.8l.5 1v9.8l.5-6.7v-1.3l.5-3.2v4l.5 0.9v-5.2l.5 6v2.6l.5 1.8v-5.1l.5 2.8v5.6l.5-3.3v-3.3l.5 3v3.9l.5 0.4v-7.9l.5-1.5v4.7l.5 2.8v-4.4l.5-2.9v6.9l.5-3.3v-2.1l.5-15.2v22.4l.5-4.3v-6.4l.5-3.8v3.3l.5 4v-4.6l.5-1.1v6.9l.5 0.5v-2.5l.5-1.5v8.1l.5 2.3v-4.7l.5-10.4v15.1l.5 0v-2.1l.5 0.2v1.9l.5 0v-5.5l.5 1.1v4.2l.5-4.2v-1.6l.5-5.2v6.7l.5 0.4v-3.3l.5-1.9v7.2l.5-3.2v-5.3l.5-11.7v15.9l.5-7.1v-2.1l.5 1.7v4.5l.5-1.3v-4.5l.5-0.2v5.3l.5-0.5v-4.3l.5 0.4v8.4l.5-3.8v-3.2l.5-1.7v10.7l.5-0.1v-3.9l.5-1.3v4.5l.5-0.2v-8.6l.5 4.1v4.2l.5-0.9v-3.7l.5-0.7v3.4l.5 2.9v-4.4l.5 2.1v2.5l.5 3v-6l.5 1.1v3.1l.5 3v-5.1l.5 0.6v4l.5-2.4v-11.1l.5 9.6v4.7l.5 0v-1.8l.5-3.8v2.5l.5-2.4v-1.6l.5 0.5v6.6l.5-3v-6.5l.5 1.9v3.6l.5 0.9v-8.7l.5 2.3v3.3l.5 3.8v-3l.5-1.8v5.4l.5 1.2v-6.4l.5 5.8v1.3l.5 0v-4l.5-1.1v4.6l.5 0.5v-4.4l.5-5.5v6.7l.5 0.5v-9l.5 2.9v2.4l.5 3.4v-3.9l.5 0.4v6.5l.5-1.7v-5.5l.5 1.2v6l.5-2v-4.4l.5 0.2v2.8l.5 1.4v-6.2l.5-7v9.1l.5 0.7v-7.4l.5 0.8v5.1l.5 2.8v-3.8l.5 2v6l.5-1.6v-4.2l.5-8.7v14.5l.5-1.1v-3.6l.5-0.2v4.2l.5-1.1v-2.4l.5-0.6v4.6l.5-0.5v-3.1l.5-2.8v5.3l.5-2.1v-2.1l.5-4.7v5.7l.5-0.3v-5.8l.5-14.2v16.8l.5 8.1v-5.9l.5 3.5v2.4l.5 0v-2.9l.5-4.1v4.6l.5 0.2v-3.5l.5-1.7v5.7l.5 1.7v-7.2l.5 2.4v3.7l.5-4.2v-7.1l.5 2.5v6.4l.5-1v-5.5l.5-3.9v10.5l.5-3v-1l.5-0.5v2.7l.5-3.4v-2.2l.5 3.2v4.4l.5-3.3v-4.7l.5 2.1v3.8l.5 0.3v-4.9l.5-0.5v3.2l.5-0.4v-4.1l.5 0.8v5.9l.5-2.4v-5l.5 2.7v3.6l.5 0.3v-4.9l.5 2.5v4.7l.5-0.8v-5.6l.5 0.5v5.7l.5 4v-5.4l.5 1.5v3.5l.5 0.4v-3.9l.5-1.3v4.3l.5-1.2v-4.8l.5 1.8v3l.5-2v-2.4l.5 2v4.5l.5 0v-2.1l.5-4v6.1l.5-4.1v-3.8l.5 2.6v4.2l.5-4.2v-4.6l.5-0.7v5.6l.5-3.1v-3.5l.5-0.8v6l.5-0.2v-4.3l.5 1.6v2.6l.5-0.5v-4.3l.5 0.2v4.1l.5 2.5v-9.3l.5 6.6v5.1l.5 1.1v-5.7l.5 1.1v3.1l.5 3v-5l.5-2.9v2.4l.5 1.4v-3.6l.5-1.5v3.4l.5 1.7v-5.9l.5 0.2v9.6l.5-6.3v-4.6l.5 1.5v3l.5-0.6v-2.2l.5 1.7v1.2l.5 0.6v-3.2l.5 0.2v3.5l.5 3.2v-4.9l.5 1.7v1.1l.5 2.3v-2.2l.5-2.5v2.1l.5 0.4v-1.4l.5-0.9v1.6l.5 2.5v-2.7l.5 1.6v2.8l.5-1v-3l.5 0v1.5l.5-0.6v-1.3l.5 0.3v2.6l.5-1.6v-0.8l.5-0.6v1.5l.5-0.2v-0.9l.5 0.2v1.8l.5-0.2v-1.5l.5 0.3v0.9l.5-0.4v-1.9l.5 1v2.2l.5-1v-0.5l.5 0.1v1.9l.5-0.9v-1l.5 0.5v1.6l.5 0.3v-1l.5 0.3v0.7l.5 0.8v-0.5l.5-0.7v1.6l.5 1.4v-1.5l.5 1.4v0.6l.5 0v-1.5l.5-0.3v1.9l.5-1v-1.1l.5-0.8v2.5l.5 0.3v-0.7l.5-0.4v0.9l.5 0.5v-1.1l.5-0.2v0.9l.5-0.1v-1l.5-0.2v0.3l.5 0.5v-1.1l.5 0.2v1.7l.5-0.9v-0.6l.5-1.5v2.3l.5-1v-4.3l.5 3.4v1.1l.5-0.7v-1.4l.5-0.5v1.3l.5 0.6v-1.1l.5 1.7v1.2l.5-0.3v-1.4l.5-0.6v1.9l.5 0.7v-1.1l.5-1.1v1.8l.5 0.1v-1l.5-0.1v0.3l.5 0.9v-0.7l.5-1.6v1.1l.5 0v-1l.5 0.4v2.2l.5-1.1v-1.1l.5-2.6v2.3l.5-1.5v-0.8l.5 0.8v1.9l.5 0.5v-0.5l.5-1.8v1l.5 3.6v-2.4l.5 1.3v1.1l.5-0.7v-1.4l.5-0.4v17.3l.5-17v-1.3l.5 0.2v1.6l.5-0.8v-1.7l.5 0.9v1.4l.5 1.6v-1.8l.5-0.1v1.6l.5 1.2v-2.5l.5-1.1v1.4l.5-0.8v-1.9l.5-1.1v1.3l.5 4.7v-4.3l.5-1.7v1.9l.5 0.2v-2.1l.5-0.8v1.8l.5-0.5v-0.9l.5 0.4v6.1l.5-5.1v-0.9l.5-0.3v1.6l.5 0.5v-1.8l.5 0.1v0.8l.5 2v-2.1l.5 1.2v1.3l.5 0v-2.2l.5 1.1v1.9l.5-0.4v-1.9l.5 0.1v1.9l.5 0.3v-1.5l.5-0.7v1.3l.5 1.9v-1.4l.5-0.4v1.1l.5-0.1v-0.5l.5 0.8v0.9l.5 0.8v-2.8l.5 0v1.8l.5 0.5v-2.8l.5 0.3v1l.5-0.9v-3.9l.5 2.8v2.9l.5-2.2v-1.9l.5 1.3v2.1l.5 2v-4.4l.5 4v1.2l.5-0.8v-1.6l.5-0.5v2.7l.5 0.3v-0.5l.5-1.2v1.6l.5-0.8v-2.8l.5-1.8v1.6l.5-0.5v-3.1l.5-0.7v0.9l.5 0.2v-1l.5 0v0.4l.5 1.1v-1l.5 0.7v3.1l.5-1.3v-2.9l.5 0.7v1.9l.5 0.7v-3.2l.5 0.4v1.7l.5 0.4v-1.6l.5-0.5v4.4l.5 0.2v-1.5l.5 0.7v1l.5 2.5v-3.1l.5-1.2v1.7l.5-0.1v-2.5l.5 0.7v2.1l.5 0.3v-1.6l.5-1.1v2.5l.5-0.5v-1.3l.5 1.3v1.6l.5 2.1v-2.7l.5 1.9v0.8l.5 0v-1.6l.5-1.6v1l.5-0.6v-1l.5 0.9v1.8l.5 0.6v-1.4l.5-0.9v1.2l.5-1.7v-1.2l.5-1.9v2.9l.5-1.7v-0.9l.5-0.2v1.9l.5 1.1v-3.6l.5-0.2v3.8l.5 3v-4.1l.5-0.4v0.7l.5-0.5v-0.6l.5-0.1v1.3l.5 1.2v-2l.5 0.3v1.3l.5-0.2v-1.6l.5 0.7v1.6l.5 0.8v-1.1l.5-0.8v1.3l.5-0.8v-0.8l.5 1.2v9.9l.5-8.6v-2.6l.5 1.8v2.7l.5-1.3v-2.4l.5-1v2.5l.5-1.9v-1.8l.5-1.1v0.6l.5 0.1v-0.7l.5 0.1v0l.5 0.1v-0.1l.5 0.1v0l.5 0.7v-0.7l.5 1.3v1.4l.5-0.3v-2.2l.5 1.9v1.8l.5 0.4v-1.6l.5 1.5v2.3l.5 1.4v-2.1l.5 0.5v1.4l.5 0.8v-1.3l.5 1.3v0.3l.5 0.4v-0.3l.5 0.1v0.3l.5 0.4v-0.7l.5 0.3v1l.5-0.1v-1.2l.5 0.2v1.9l.5-0.2v-1.4l.5 0.6v0.7l.5-0.9v-1.3l.5 0.1v0.7l.5 0v-1.1l.5 0.9v0.3l.5 0.1v-0.9l.5 0.1v0.9l.5 0.1v-0.7l.5 0.2v1.6l.5-0.8v-0.8l.5 0v1.9l.5-0.1v-1l.5-0.1v0.4l.5 0v-0.8l.5 0.4v0.7l.5-0.4v-0.9l.5-1v1l.5-1v-0.7l.5-0.3v0l.5 0v0l.5 0v0.3l.5 1v-0.9l.5 0.2v0.5l.5 0.1v-1.1l.5 0.4v0.4l.5 0.5v-1.2l.5 0.3v1l.5-0.5v-0.7l.5-0.2v0.4l.5 1.5v-1.4l.5 2v0.5l.5 0.5v-0.6l.5 0v1l.5 0v-1l.5-0.5v0.9l.5 0.4v-1l.5-0.6v0.9l.5 0.4v-0.6l.5-0.7v0.9l.5 0.3v-0.9l.5 1v6.6l.5-6.4v-0.5l.5-0.5v0.6l.5-0.7v-2.3l.5 1.7v0.5l.5-0.4v-0.9l.5-0.4v0.7l.5-0.3v-0.7l.5 0.3v0.9l.5 2.2v-2.3l.5 0.1v0.3l.5 0.5v-1.2l.5-0.1v0.4l.5 0.5v-1.2l.5-2.3v4.5l.5-0.2v-1.1l.5-1.1v1.2l.5-0.3v-1.3l.5-0.4v1.1l.5-2.1v-0.8l.5 0.2v1.4l.5 0.3v-1l.5-1.1v1.3l.5 0.5v-1.4l.5-0.2v1.5l.5-1.7v-1.1l.5 0.3v0.7l.5 0.3v-0.4l.5 0.1v1.9l.5-0.3v-1.2l.5 1.1v0.5l.5 0.4v-1.3l.5-2.7v4.6l.5 0.4v-2.3l.5 1.3v1l.5 0v-1.2l.5-0.6v1.2l.5-0.1v-1.5l.5 0.7v1.3l.5-2v-0.9l.5-0.9v1l.5 0.6v-2.7l.5 3.4v0.5l.5-0.4v-1.1l.5 0.3v0.6l.5-0.1v-1.2l.5-0.2v1.5l.5 0.1v-0.5l.5-0.4v1.7l.5 0.5v-1.4l.5-0.4v1.8l.5-0.8v-0.7l.5-0.5v0.5l.5 0v-0.9l.5-2v3.3l.5 1.3v-4.9l.5 2v0.9l.5-0.8v-1.3l.5 0v1.2l.5 0.2v-1.3l.5 1.2v0.7l.5 0.7v-1l.5 1.1v0.2l.5 1.2v-1l.5 0v1.1l.5 0.3v-0.7l.5 0.4v0.6l.5-0.1v-1.8l.5-1.3v1.9l.5 1.2v-3.4l.5 0.2v1.2l.5-0.4v-0.4l.5 1.6v1.1l.5 0.6v-0.8l.5 0.3v1l.5-1.6v-0.9l.5 0.2v1.2l.5-0.2v-0.5l.5-0.6v1.4l.5-0.5v-0.4l.5-1.2v1.9l.5 0.5v-1.2l.5 1.8v0.3l.5 0.1v-2.4l.5-0.7v1.8l.5 0.7v-1.5l.5-0.1v0.4l.5 0.3v-0.9l.5-0.9v1.4l.5 0.3v-1.9l.5 1.2v1.3l.5-0.3v-2.8l.5 1.8v1l.5-0.1v-0.5l.5 0.3v1.6l.5-1.1v-0.5l.5 0.6v1.1l.5 0.2v-0.4l.5-0.9v1.1l.5 0.1v-1.2l.5 0.5v1.2l.5-0.9v-1.2l.5-0.9v1.8l.5-1.1v-0.8l.5 1.2v1.3l.5 0.1v-1.7l.5-0.6v1l.5-0.3v-1.1l.5-0.1v1.5l.5-0.5v-1.6l.5 1.7v0.8l.5 0.8v-0.9l.5 0.2v1l.5-0.8v-1.3l.5 0.2v0.9l.5-1.2v-1.4l.5-0.1v1.5l.5 0v-1l.5-0.1v2.1l.5-0.7v-1.3l.5-0.3v0.6l.5 1.4v-1l.5 0.3v0.9l.5-1.3v-0.6l.5 0.1v1l.5 0.7v-0.9l.5 0.2v1.3l.5 1v-2.1l.5 0.9v1.3l.5-0.1v-0.8l.5 0.5v2.2l.5-0.4v-1l.5-0.9v1.3l.5 1v-1.4l.5 0.3v1.6l.5-0.3v-0.8l.5-1.4v1.4l.5-1.4v-0.8l.5 0.6v0.7l.5-0.7v-0.6l.5-0.9v1.1l.5-0.3v-1.4l.5 0.3v1.8l.5 0.5v-1.5l.5 0.8v1.1l.5-1.3v-0.6l.5 0.8v0.6l.5 0.1v-1.3l.5 0.5v1l.5 1v-1.4l.5 0v1l.5 0.7v-1l.5 1.1v1l.5 0.1v-0.1l.5-0.8v0.8l.5 0.1v-1.6l.5-0.1v0.8l.5-0.6v-0.3l.5 0.5v0.5l.5-0.5v-0.4l.5-1v1.5l.5 0.4v-0.7l.5-0.3v1.4l.5-0.6v-0.5l.5 0v1.2l.5-0.6v-1.3l.5 2v0.5l.5 0v-0.6l.5-0.2v0.8l.5 0v-0.6l.5 0v0.2l.5 0.5v-0.6l.5-0.4v0.3l.5-0.2v-1l.5 0.5v0.8l.5-0.7v-1l.5-0.3v1.1l.5 0.1v-1.1l.5 0.9v0.6l.5 0.6v-0.8l.5-3.5v3.9l.5-0.6v-0.6l.5-0.2v0.9l.5 0v-1l.5 0.5v0.4l.5 0.2v-0.8l.5 0.5v1l.5 0.3v-0.8l.5-0.4v0.9l.5 0v-0.7l.5 1v0.5l.5-0.8v-0.5l.5-0.8v1.1l.5-1.1v-0.7l.5-0.5v0.8l.5 1.4v-1.7l.5 1.7v0.6l.5 0.3v-1.1l.5-0.3v1.4l.5-0.5v-1l.5 0.7v0.8l.5-0.5v-0.4l.5-0.2v0.7l.5 0.9v-1.7l.5 0.7v0.7l.5-0.6v-1.3l.5 0.4v0.7l.5 0.1v-1l.5 0.6v0.7l.5-0.1v-0.7l.5-0.7v1.6l.5-1.3v-0.9l.5 0.2v0.7l.5 0.5v-1.3l.5-0.4v0.7l.5-0.3v-1l.5 0.6v1l.5 0.6v-0.4l.5 0v0.9l.5 0v-0.9l.5 0.2v0.6l.5 0.3v-1.5l.5 0.8v0.7l.5 0v-1.7l.5-0.2v0.4l.5 0.3v-0.7l.5 0.1v0.8l.5-1.1v-1.7l.5 0.3v0.8l.5 0.4v-0.7l.5-1.2v2.8l.5 0.4v-0.9l.5 0.3v1.1l.5 0.1v-0.6l.5-0.7v0.8l.5-0.3v-1l.5-0.3v0.5l.5-0.6v-1.7l.5 0.9v0.7l.5-0.4v-0.7l.5-0.4v1.3l.5-1.1v-1l.5-1.5v0.9l.5 1.1v-1.1l.5 0.3v1.6l.5 0.3v-1.6l.5 0.1v1.4l.5-0.5v-0.3l.5-1.6v0.9l.5 0.3v-1.9l.5-1.4v2.1l.5 0.6v-1.4l.5-0.9v1.9l.5 0.5v-0.8l.5-0.7v0.9l.5-0.2v-1.3l.5-2.8v3.5l.5-1.5v-2.3l.5 1.6v2.4l.5-1.1v-1.9l.5 0.6v2.2l.5-0.6v-1.8l.5-0.7v3.5l.5 0.7v-0.9l.5-0.5v2.2l.5-0.8v-0.7l.5 0.2v1.3l.5-1v-1.9l.5-0.3v1.4l.5 1.8v-2.3l.5 1.8v0.8l.5 0v-1.1l.5-0.8v1.3l.5 0.6v-1.8l.5-0.8v1.7l.5-0.4v-3.3l.5-1.6v1.9l.5-2v-1.2l.5-0.3v3.4l.5 0.1v-0.4l.5-2.9v1.3l.5-0.4v-2.5l.5 1v1.9l.5 0.4v-3.9l.5-1.9v4.5l.5-3.5v-0.9l.5 0.1v2.3l.5-0.3v-3.7l.5-0.1v2.6l.5 1.7v-3.4l.5 1.3v4.3l.5 1.1v-2.7l.5 1.5v2.9l.5 0.2v-1.1l.5-0.7v2.1l.5-0.3v-5.3l.5 1.3v3.4l.5 0.5v-6l.5-1.4v3.7l.5-1.1v-2.3l.5-2.7v5.3l.5-1.2v-2.2l.5-2.2v4.6l.5-1.3v-2.5l.5-0.2v2.7l.5 0.2v-3.4l.5 0.9v3.2l.5 2.1v-2.4l.5 1.5v1.8l.5 1.1v-5l.5-2.4v6.9l.5-1.9v-3.8l.5 0.7v2.7l.5 1.2v-3.6l.5 3.5v2.4l.5 1.6v-3.6l.5 2.9v1.4l.5 0.2v-2.7l.5 1.7v1.1l.5-0.1v-2.1l.5-1.2v1.8l.5-1.7v-0.6l.5-1.3v1.2l.5 1v-1.1l.5-1.7v2.2l.5 1.8v-1.9l.5 0v3l.5-2.2v-1.1l.5-1.5v1l.5 0.2v-0.4l.5-0.1v1.1l.5 1.2v-2.6l.5 1.5v1.4l.5-0.6v-2.3l.5 0.5v2l.5-0.9v-0.8l.5-0.7v1.6l.5 0.9v-0.7l.5-2.9v3.4l.5 2.1v-4.6l.5 0.8v2.7l.5-1.8v-2.6l.5 0.8v1.8l.5-1.3v-1.9l.5-1.2v3.8l.5-1v-2.8l.5-2v3.2l.5 2.9v-7.6l.5 2.7v16.9l.5-14.4v-4.1l.5-1.3v5.2l.5-2.8v-2.8l.5 0.6v2.1l.5-0.5v-4l.5-0.2v9.9l.5-6.5v-2.3l.5 2.6v6.1l.5-3.7v-1.9l.5 2v1.1l.5-0.9v-2.8l.5-1v3l.5 0.5v-2.9l.5-0.3v3.6l.5 2.2v-1.7l.5-2.9v5.8l.5-2.3v-1.8l.5 1v3.4l.5 0.2v-3.1l.5 0.4v2.7l.5 0v-0.2l.5-1.6v1.8l.5 0v-2.9l.5 2.4v0.5l.5 0v-1l.5 1v0l.5 0v-0.2l.5-1.4v1.6l.5-0.8v-3.8l.5 1.3v1l.5 0.2v-3.3l.5-0.9v3.2l.5-1.9v-2.2l.5 0.4v2.3l.5-0.7v-1.2l.5-0.7v1.8l.5 3v-1.6l.5 0.7v2.3l.5-1.8v-7.7l.5 4.3v3.4l.5-1.4v-0.7l.5-4.1v3.5l.5-3.9v-1l.5 0.6v1.5l.5-1.7v-6.7l.5-1.9v5.8l.5-5.5v-2.2l.5-1.6v3.5l.5-0.2v-5.7l.5-1.1v4.7l.5-2.2v-5.4l.5-1.5v4l.5 3.9v-5.5l.5 1.8v2l.5-0.2v-0.9l.5-1.5v1.8l.5-0.6v-2.4l.5-3.8v27.1l.5-26.6v-1.7l.5 0v1l.5 0.5v-1.8l.5 1v3l.5-1.3v-1.5l.5 0.1v0.8l.5 0.8v-1.4l.5-0.5v1.6l.5-1.6v-1.2l.5 0.6v1.2l.5 1.6v-1.9l.5 1.7v2.7l.5 0.1v-1.8l.5-1v1.3l.5-0.2v-2.2l.5-0.3v1.2l.5-0.1v-1.3l.5-2.6v3.8l.5-0.1v-1.5l.5-0.1v1.3l.5-1.3v-1.4l.5-10.9v12.7l.5 1.6v-1.3l.5 0.5v2.4l.5 1.3v-3l.5 0.2v1l.5 1v-2l.5-0.6v2.7l.5-2.8v-0.8l.5-1.3v2.1l.5-1.8v-1l.5-0.7v23.8l.5-22v-1.3l.5 0.9v0.9l.5-0.2v-0.8l.5 1.4v1.1l.5 1v-1.4l.5-0.9v2.2l.5 0.4v-2.4l.5-1.7v1.4l.5 1.5v-1.7l.5-1v1l.5 1.9v-1.8l.5 1v1.6l.5 1.1v-8l.5 5.9v3.2l.5 3.2v-8l.5-1.8v7.9l.5-0.1v-9.9l.5 3.5v4l.5 7.8v-9.5l.5 9.1v10.5l.5-7.5v-5.3l.5-1.3v6.6l.5 0v-1.8l.5-19.4v17.6l.5 3.6v-5.7l.5-11.3v13.6l.5-4.2v-8l.5-4.4v20l.5-9.9v-11.9l.5 2.8v5.7l.5 12v-7.5l.5 2.3v6l.5-5.5v-9.4l.5-2.4v11.2l.5-2.2v-6l.5-0.5v7l.5 7.1v-6.2l.5-7v9.2l.5-7.1v-10l.5 0v12.9l.5 9.2v-20.3l.5-1.7v12.5l.5 5v-13.5l.5 3.9v7.1l.5 2.2v-10.3l.5-2.1v11l.5-2v-12.1l.5-10v25.1l.5-1.3v-11.1l.5 5.6v4.5l.5-0.6v-9.5l.5 4.7v6.2l.5 0.9v-14l.5 6.9v6.9l.5 4v-6.4l.5-5.2v11.9l.5-4v-8.2l.5-6.2v19.3l.5-2.5v-8.9l.5-0.7v9l.5-0.1v-10l.5 1.5v6.5l.5-1.8v-12.5l.5-1v12.4l.5-3.9v-8.4l.5 0v11.1l.5 4.2v-9.3l.5 0.1v10.9l.5-9.9v-4.7l.5-2.3v3.1l.5-2.3v-0.7l.5 0v5.5l.5 4.8v-7.2l.5-3.1v3l.5 7v-6l.5-4.6v5.8l.5 3v-3.2l.5-8.2v13.1l.5 7.7v-19.7l.5-9.1v18.5l.5-1.7v-12.6l.5 5.7v7.8l.5 2.5v-25.8l.5-2.6v18.4l.5-16.1v-4.4l.5-0.3v14.8l.5 6.9v-21.6l.5 4.7v11.2l.5 8.1v-21.4l.5-3.2v21.2l.5 11.6v-18.9l.5 9.7v9.2l.5 0v-15.3l.5-3.6v11.1l.5 7.8v-20.9l.5-11.9v32.8l.5-6.9v-13.2l.5-0.5v15.3l.5-10.8v-3.1l.5-1.1v24.5l.5-7.5v-14.9l.5-13v19.2l.5-4.1v-9.6l.5-5.4v9.7l.5 8.4v-9.6l.5-6.7v19.9l.5-2.3v-12.1l.5-0.4v11.4l.5 1.5v-7.7l.5-4.2v6.2l.5-3.2v-8.1l.5 1.9v11.2l.5-1.6v-8.7l.5-4.9v16.9l.5-5v-11.6l.5-0.1v13.3l.5-4v-9.3l.5 0.1v12.4l.5-1.5v-10.8l.5 3.7v6.4l.5-4.1v-5.9l.5 5.7v16l.5-4.5v-10.7l.5 5v10.2l.5 2.8v-13.8l.5-2v22.4l.5-1.3v-8.9l.5-6.8v15.7l.5 0v-16.9l.5 6v10.9l.5 0v-4l.5-3.7v7.7l.5 0v-5.2l.5-2.4v7.6l.5-3.9v-11.2l.5 2.6v11.3l.5 1.2v-12.8l.5-3.9v9.6l.5-7.3v-6.9l.5-2.3v7.1l.5-3.2v-8.7l.5 0v1.8l.5 6.3v-8l.5 0.1v9.2l.5 7v-16.1l.5 2.2v17.5l.5 4.1v-21.3l.5-2.4v22.3l.5-1.3v-19.8l.5 4v15.4l.5-5v-15.2l.5 8.7v3.2l.5 5.4v-14.2l.5-3v14.1l.5 4.8v-17.4l.5-0.8v14.6l.5-1.4v-8.2l.5 0.2v6.7l.5 7.5v-4.1l.5-6.2v3.1l.5-1.6v-4.9l.5-2v7.1l.5-0.5v-2.2l.5 1.3v2.5l.5 0.3v-2.3l.5 1.1v1.4l.5-0.4v-8l.5 7.1v1.7l.5-2.9v-2.8l.5-3.2v2.6l.5-1.3v-1.5l.5-0.4v3l.5-2.3v-3.3l.5-0.4v3.2l.5-1.3v-2.4l.5 0.9v2.1l.5 0.5v-1.6l.5 1.4v4.3l.5-2.8v-4.2l.5 0.9v2.3l.5 0.6v-3.3l.5-4.4v3.6l.5 1.1v-5.2l.5 5.2v1.1l.5 2v-4.1l.5 1.2v3.2l.5-0.6v-1.4l.5-0.4v1.5l.5-1.6v-2.9l.5-3.5v3l.5-1.7v-1.3l.5-1.2v3l.5-2.6v-1.2l.5 0.9v2.6l.5-1.7v-1.5l.5-0.5v2.6l.5-0.3v-2.1l.5-1.5v4.3l.5-2.5v-1.9l.5-0.3v4l.5-2.2v-1.8l.5-3.7v7.4l.5-2.4v-3.3l.5-2.7v29l.5-26.6v-2.8l.5 1.2v2.3l.5-1.2v-2l.5-4.3v4.9l.5-2.3v-4.1l.5 0.4v0.8l.5-1.2v-3.5l.5 1.8v2l.5-1.9v-2.2l.5-8.5v7.3l.5 4.4v-9.6l.5-4.5v4.5l.5-3.6v-2l.5-4v8.2l.5 10.9v-16.6l.5 9.7v3.3l.5 5.3v-12.5l.5-7.5v8.1l.5 9.1v-11.2l.5-0.9v7l.5 0.3v-14.4l.5 4.5v21.9l.5-5.2v-6l.5-11v19.9l.5 7.2v-21.6l.5 0v14.6l.5-0.4v-12.9l.5-6.4v5.5l.5 9.6v-16.9l.5 9.3v18.3l.5-0.3v-23.6l.5 1.1v15.8l.5-0.8v-10.4l.5 2.9v15.6l.5-8.7v-13.5l.5 3.4v3.6l.5 17.1v-24.8l.5 2.4v22.7l.5-0.1v-5.7l.5 0.7v5.1l.5 0.1v-23.1l.5 6v14.9l.5 2.4v-14.3l.5-20.1v26.1l.5-12.7v-9.2l.5 1.6v9.6l.5 5.9v-19.2l.5 2.3v23.6l.5-12.5v-6.5l.5-0.9v12.7l.5 10.9v-17.7l.5-3.1v11.9l.5 7.8v-17.7l.5 3.4v6.7l.5-0.1v-13.4l.5-10.1v25.5l.5 2.2v-18l.5 3.9v16.4l.5-7.5v-15.9l.5 9.8v10.1l.5 0.1v-14.6l.5-13.2v37.2l.5-16.4v-8.9l.5-2.6v18.3l.5-6.3v-21.7l.5-0.2v8.4l.5 5.8v-13.7l.5-1.1v6.7l.5 6.5v-13.6l.5-0.2v4.8l.5 0.9v-4.7l.5-0.1v2.7l.5-1v-3.1l.5 0.6v2.7l.5-1.2v-2.4l.5 0.4v1.2l.5 2.4v-1.4l.5-1.7v3.2l.5 1.5v-4.3l.5 3.4v0.9l.5 2.6v-1.5l.5 0.5v1.9l.5 1.1v-1.8l.5 0.9v1.4l.5 1.8v-1l.5 0.3v1.4l.5-0.4v-0.6l.5-0.7v1.6l.5-0.4v-1.3l.5 0.9v0.8l.5-0.6v-0.5l.5-0.7v1l.5 0v-0.9l.5-13.9v14.9l.5-0.1v-0.7l.5-1v1.8l.5-0.3v-2l.5 0.2v1.9l.5 6.2v-8.5l.5 0.5v36.1l.5-33.5v-2.9l.5 4.8v2.3l.5-0.1v-4.5l.5-0.2v2.6l.5 9.6v-12.5l.5-0.7v7l.5 5.1v-6.7l.5 2.4v2.9l.5 3.6v-4.9l.5 0.2v6.3l.5-5.3v-5.3l.5 1.4v9.2l.5-2.3v-10l.5-1v6.1l.5-3.8v-5.7l.5 5.2v5.1l.5 4.3v-6.3l.5-1.4v5.4l.5 5.5v-9.5l.5 2.3v7.3l.5 0.7v-7.5l.5-3.4v5.8l.5 3.2v-4.5l.5-3.6v7.2l.5 0.2v-4l.5-7.1v4.9l.5 8.9v-12.9l.5-2.8v9.5l.5 4.1v-3l.5-1.6v29.9l.5-31.4v-8.6l.5 0v9.9l.5 1.1v-10.6l.5 8.2v4.6l.5-4.2v-8.5l.5 0v8.1l.5 3.6v-8.3l.5-2.2v11.9l.5-2.5v-10l.5 3.1v8.6l.5 2.4v-6l.5-0.7v7.5l.5 0v-11.2l.5-2.9v11.6l.5 1.8v-5.8l.5-0.4v5l.5 1.6v-10.1l.5 3.3v13.5l.5-1.4v-12.8l.5 7.3v4.2l.5 3.5v-9l.5 3.6v5.5l.5-6.5v-8.8l.5-1.1v5.7l.5 6.7v-10.7l.5-0.3v9.8l.5-0.6v-11.5l.5 3v8.4l.5 1.1v-6.4l.5-3.8v11.6l.5-2.9v-7.4l.5-2.8v11.6l.5-1.7v-6.5l.5-0.3v7.5l.5-0.5v-2.5l.5-1.2v8.6l.5-8.1v-4.3l.5-2.6v10.7l.5-1.6v-3.8l.5-3.6v10.2l.5 9.4v-7l.5-3.3v4.7l.5 1.7v-8.1l.5 2.7v4.4l.5-4.9v-9.3l.5 1.6v7.6l.5 9.7v-13.3l.5 4.9v2.6l.5 7.7v-10.5l.5 3.7v6.3l.5 0.3v-15l.5-3.2v10.2l.5 7.3v-10.2l.5-1.4v13.6l.5 0.1v-14.3l.5-6.3v10.8l.5 6.5v-12.3l.5 0.9v9.6l.5 4.8v-17.2l.5 3.9v10l.5 3v-11.6l.5 3.2v9.4l.5 1.5v-19.4l.5 12v7.5l.5-4.5v-3.4l.5-11.7v17.3l.5 1.2v-4.7l.5-12.9v17.2l.5-3.4v-7.1l.5 4.1v5.6l.5-1.3v-7.3l.5 2.7v9.6l.5-6.6v-9.2l.5-3.9v19.2l.5 0.2v-12.8l.5 1.3v6.1l.5 1.1v-9.6l.5-2.2v7.6l.5 8.3v-14.6l.5-2.7v10.1l.5-2.7v-6l.5-1.3v10.7l.5-8v-4.3l.5 3.7v5.6l.5-3.2v-5.8l.5 0.2v5.8l.5-0.5v-5.1l.5 0.1v0.8l.5 1v-1.7l.5 0.2v2.3l.5-0.2v-2l.5-0.3v0.6l.5 1.6v-1.5l.5 0.1v6.8l.5 0.7v-7.1l.5 1.3v6.8l.5 1.9v-7.8l.5 4.5v10.7l.5-2.3v-6.2l.5-4.8v7.2l.5 7.5v-11.5l.5 1.7v10.1l.5 1.3v-6.6l.5-3.2v7.9l.5 1.7v-11.9l.5 0.7v5.6l.5 6.3v-10l.5 9.1v3.5l.5 2.6v-3.7l.5-7.7v11.2l.5-1.7v-2.1l.5 1.4v3.5l.5 0v-2.5l.5 1.7v1.2l.5-0.4v-1.2l.5-0.5v1.4l.5-0.4v-4.1l.5 2v2.1l.5-0.2v-3.3l.5-2v5.4l.5-2.5v-2.9l.5-2.1v6.6l.5 0.2v-7.4l.5 1.9v2l.5-0.1v-6.7l.5 1.8v1.2l.5 3.7v-6.7l.5 2.3v3.2l.5 2v-7.6l.5-0.3v10l.5-1v-5.6l.5-2v7.6l.5-4.6v-5l.5 4.3v9.1l.5-2v-7.2l.5 1.2v8.2l.5-2.2v-6.6l.5 2v5.2l.5-4.2v-5.3l.5 4.8v2.5l.5 3.9v-8.8l.5-0.3v5.4l.5 0.2v-6.8l.5-2.8v6.7l.5-2.9v-6.2l.5 3.6v3.4l.5 2.7v-7.3l.5 4.1v5.7l.5-0.7v-5.7l.5 0v10.5l.5 0.5v-1.2l.5-6v6.3l.5-4.7v-5.1l.5-4.8v12.6l.5 2v-4.7l.5-4.4v5.8l.5 0.1v-3.7l.5 0.5v5.8l.5 1.5v-5l.5 2.4v2.6l.5-1.6v-6.9l.5-0.3v8.8l.5-4.4v-4.8l.5 6.1v3.1l.5 0v-6.9l.5-1.9v8.1l.5-1.1v-6.8l.5-5.4v10.4l.5-5.5v-3.6l.5 0.5v7.7l.5-6.8v-5.5l.5 0v8.2l.5-2.6v-5l.5 6.8v6.1l.5-0.3v-5.6l.5-2.2v7.6l.5-3.9v-5.4l.5 1.4v6.4l.5-4.1v-7.4l.5 0.9v3.4l.5 4.4v-5.3l.5 2.8v4.6l.5 1.2v-8.8l.5 2.5v2.4l.5 0.7v-3.9l.5 5.3v6.6l.5-0.1v-5.6l.5-1.5v6.7l.5-3.6v-5.4l.5 3.3v6.2l.5 0v-3.7l.5 3v0.7l.5-0.7v-4.3l.5-11.1v15.2l.5-1.1v-6.2l.5-0.4v4l.5 3.5v-6.9l.5 2.7v5l.5 0.3v-4l.5-5.2v9.2l.5-4.5v-4.1l.5-7.6v12.2l.5 2.8v-5.3l.5-5.2v7.7l.5-3.3v-5.7l.5 0.6v8l.5-1.9v-4.7l.5 2.6v6.7l.5-1.6v-6.3l.5-3.7v10.7l.5-7.1v-3.1l.5-2.4v8.2l.5-3.7v-3.2l.5-0.6v9.1l.5-0.3v-7.2l.5-2.3v13.6l.5 3v-6.6l.5 2.5v4.1l.5 0.2v-5.7l.5 1.5v2.8l.5-2.5v-2.9l.5-6.7v6.3l.5 1.7v-6.9l.5-4.7v8.7l.5 1.8v-9.5l.5 2.6v8.2l.5 2.9v-1.7l.5-12.9v9.3l.5-4v-9l.5 0.8v10.1l.5-0.1v-12.3l.5 9v9.6l.5-4.8v-4l.5-2.6v11.6l.5-0.1v-15.4l.5 7.6v7.8l.5-0.1v-7.1l.5-2.7v4.5l.5-0.1v-7.5l.5-1.2v13.9l.5-8.3v-5.9l.5-5.1v9.6l.5 2.6v-5.4l.5-0.4v4.3l.5 2.2v-7.6l.5 0.8v12l.5-0.6v-9.6l.5 0v10.9l.5-5.2v-7.6l.5 2.1v3.7l.5 3.4v-10.9l.5-3.1v6.1l.5 3.4v-10.2l.5 2.3v12.1l.5-9.9v-6.4l.5 0v11.9l.5 2.3v-13l.5 10.6v7.7l.5-0.1v-7.3l.5-3.6v8.4l.5-4.4v-11.7l.5 5.7v7.4l.5 2.9v-6.4l.5 4.9v1.5l.5 1.3v-4.6l.5-5.2v6.9l.5 0.4v-0.8l.5-5.7v4.9l.5-0.6v-6.9l.5-6.3v7.9l.5-3.4v-5.3l.5 1.9v5.4l.5-0.9v-4.4l.5 4v2.9l.5-0.6v-4.2l.5-0.6v1.9l.5 3.3v-4.4l.5 1.3v3.4l.5-0.8v-3.9l.5-5.2v9.7l.5-0.5v-1.9l.5 0.6v4.7l.5 0.1v-1.1l.5 1.1v0.1l.5 0v-0.2l.5 0.2v0.1l.5 0v-3.6l.5 0.9v2.8l.5-1v-4l.5 2.1v2.6l.5 0v-3.7l.5-1.9v6.8l.5 0.6v-0.4l.5-12v12.5l.5-4.3v-3.6l.5 4.2v2.2l.5 1.9v-5.6l.5-5.5v6.1l.5 7.6v-7.4l.5-1v5.4l.5 5.4v-11l.5 3.6v7.9l.5 0.2v-4.9l.5-2.7v5.7l.5 0.2v-2.8l.5-2.1v12.9l.5-6.5v-6.7l.5 3.5v7.5l.5 0.4v-6.6l.5-5.7v9.1l.5-5.8v-6l.5 4.3v6.6l.5-5.5v-6.6l.5 1.5v4.7l.5 2.8v-5l.5 4.7v8.8l.5 0v-5.9l.5-10.9v11.8l.5-5.8v-5.9l.5 1v4.1l.5 6.8v-13.3l.5-1.4v11.2l.5-2.6v-8.8l.5-0.1v4.6l.5 5.2v-8.9l.5 4.9v11l.5 3v-8.2l.5-6.4v7.7l.5-3.3v-6.9l.5-0.3v4.2l.5-1v-3.6l.5-0.9v5.6l.5 3.9v-8.7l.5 11.4v5.5l.5-7.3v-2.7l.5-3.8v11.1l.5 2.9v-11.2l.5 4v2.2l.5-4.2v-3.6l.5 0v11.9l.5-2.7v-7.6l.5 1.5v6.9l.5-3.1v-7.1l.5-2.9v7.2l.5-1.2v-7.6l.5-1.2v9.8l.5-2.5v-4.1l.5 3.4v3.9l.5 9v-9l.5 0v8l.5-4.1v-4.2l.5-0.9v6.1l.5 0.7v-7.7l.5 3.4v2.9l.5-0.5v-9.3l.5-5.9v12.5l.5 2v-5.2l.5-0.8v4.4l.5 1.7v-8.3l.5 4.4v4.4l.5-1.7v-3.8l.5-0.7v4l.5 4.8v-5.8l.5 1.3v7.3l.5-1.8v-12.5l.5 4.4v9.4l.5-0.7v-13.5l.5 0.5v3.7l.5 2.6v-9.3l.5 5.2v5l.5-0.3v-7.6l.5 6.5v3.2l.5-6.3v-7.7l.5 2.6v6l.5 3.9v-10.7l.5 0.5v15.2l.5-6.9v-4.1l.5-4.5v5.8l.5 10.1v-14l.5 7v8.3l.5-3.5v-6.7l.5 1.3v4.8l.5 4.1v-6.3l.5 1.2v5.1l.5-4v-5.9l.5 5v4.9l.5 0v-8.7l.5-1.2v5.6l.5 1.9v-6.5l.5 2.4v6.6l.5 0.1v-7l.5-6v7.9l.5 3.9v-5.1l.5-0.4v3l.5-0.3v-1.5l.5 4v3.3l.5 0v-1.8l.5-0.9v1.6l.5 0.1v-3l.5 0.2v2.3l.5-1.9v-1.1l.5 0.4v1.1l.5 0.2v-2l.5-0.3v2.6l.5-0.2v-1.5l.5-1v1.7l.5 0.8v-2.1l.5 2.5v1.3l.5-0.3v-2.2l.5-0.2v2.2l.5-0.5v-1.6l.5 0.1v2.6l.5-1.4v-1.3l.5 0.9v1l.5-0.3v-1l.5-0.6v1l.5 0.9v-2.2l.5 0.8v1.8l.5-1.6v-1.2l.5 2v0.3l.5 1.6v-1.3l.5-2.4v3.9l.5-2.9v-1.2l.5-0.8v5.4l.5-4.3v-0.8l.5 2v1.6l.5 0.4v-1l.5-1.7v1.9l.5-0.1v-1.2l.5 0.6v0.6l.5-0.9v-2.8l.5-2.1v2.5l.5-1.5v-1.4l.5 0v2.6l.5 1.3v-2.5l.5-1.4v1.9l.5-0.9v-1l.5 0v1.7l.5 1.9v-1.1l.5-2v2.4l.5-0.3v-1.4l.5-1.2v1.3l.5 0.3v-1.4l.5 0.4v1.5l.5-1.3v-0.8l.5 0v0l.5 1.3v-1.3l.5 0v1.6l.5 1.2v-1.7l.5-0.5v2l.5-0.7v-1.9l.5 0.5v3l.5 1.8v-1.8l.5-0.5v3.5" fill="none" stroke="#ff7f00" stroke-width="1.3" stroke-linejoin="round" clip-path="url(#c3)"/>
<path d="M213.95 640.5v26.8l.5-13.6v-30.4l.5 10.3v65.4l.5-44.6v-12.5l.5-4.7v23.8l.5-8.6v-20l.5 9.9v56.7l.5-48.7v-22.2l.5 0.9v14.3l.5 6.9v-10.1l.5-10.1v60l.5-44.7v-16.7l.5-18.6v33l.5-5.3v-6.5l.5-4.7v13.6l.5-1.6v-10.6l.5-3v53.1l.5-46.7v-10.6l.5 0.9v12.2l.5-3.6v-11.1l.5 3.5v9.2l.5-8.1v-4.2l.5-0.4v6.7l.5 0.3v-6.7l.5 0.3v4.5l.5 3.4v-5.8l.5 0.3v9.3l.5-0.8v-9.3l.5 7.1v5.1l.5-2v-5.3l.5-14.2v18l.5 4.5v-9.3l.5 2.2v2.1l.5 0.2v-6.1l.5 4.3v5.7l.5 1v-4.4l.5-0.8v9.3l.5 0.2v-4.3l.5-9.5v14.2l.5 0.3v-0.4l.5-6.3v6.9l.5 0.3v-7l.5 3.5v3.7l.5-1.4v-13.6l.5 10.5v3.1l.5 1.7v-6.4l.5-2.5v1.3l.5 7.3v-8.5l.5 0.5v3.2l.5 3.1v-9l.5-2.5v11.1l.5-0.3v-9.2l.5 3.3v7.4l.5-4v-7.5l.5-2v11.1l.5-1.1v-8.2l.5 2.6v6.3l.5-2v-3.1l.5-4.7v9.3l.5 3.4v-16.3l.5 6.4v11.9l.5-5.7v-11.2l.5-1.8v12.4l.5 7.5v-20l.5 0.2v10.3l.5 0.5v-11.2l.5-0.2v4.2l.5 8.4v-12.7l.5 0.3v8.9l.5-0.8v-8.6l.5 4.5v10.2l.5 3v-18l.5 0v10.1l.5 7.7v-5.9l.5-10.5v13.9l.5 2.2v-15.8l.5 1.5v7l.5 0.1v-7.5l.5 5.8v5.5l.5-2.4v-10.4l.5 7.1v14.3l.5-3.3v-15.5l.5 3.6v15.4l.5-4.2v-13.2l.5-0.9v13.1l.5-4.7v-14.6l.5 3.2v11.6l.5 6.3v-11.3l.5-2.7v17.3l.5 43.5v-58.5l.5-9.9v10.2l.5 12.7v-15.1l.5-6.8v22.2l.5-6.6v-10.3l.5 7.5v12.3l.5-5.5v-19.1l.5 13.5v11.2l.5 0.1v-15.6l.5 0.4v14.2l.5 0.8v-14.2l.5-6v40.5l.5-29.8v-10.7l.5 7.6v6.1l.5 0.4v-20.6l.5-19v34.9l.5 11.3v-18.7l.5-6.2v11l.5 2.2v-15.6l.5 2.3v17.2l.5 4v-19.5l.5 8.2v11.5l.5-10.4v-9.6l.5 5.6v9.2l.5 0.3v-16.9l.5-22.8v48.7l.5-8.6v-9.9l.5-5.2v20.7l.5-6.8v-15.2l.5-2.7v26.5l.5-5.7v-13.5l.5-5.9v13.1l.5 1v-13.4l.5 0.1v15.9l.5-1v-13.8l.5-3.9v18.5l.5-7.5v-5.9l.5 1.4v12.1l.5-6.6v-12.1l.5 2v25l.5-8.9v-16l.5-16.4v42.2l.5-0.5v-23.6l.5 3v32.9l.5-22.3v-13.5l.5 0v13.1l.5 1.5v-17l.5 0.5v25.1l.5-5.6v-20.4l.5 7.5v9.3l.5 5.2v-19.9l.5 7.2v19.1l.5-11.5v-9.9l.5-1.3v8.2l.5-7.1v-7.7l.5 5v22.4l.5-4.8v-8.9l.5-14.5v22.1l.5-0.2v-14.7l.5 5.9v8.1l.5-2.9v-18.2l.5 5.4v9.2l.5 2.9v-15.7l.5-2.1v23.7l.5 7.2v-14.2l.5-31.2v45.5l.5 0v-14.4l.5-2.5v14.2l.5 2.7v-15.7l.5-1.7v17.4l.5-3.1v-17.7l.5-2.8v9.8l.5 13.8v-23.9l.5 5.2v13.2l.5 5.4v-2.8l.5-16v23.4l.5-19.2v-15.9l.5 4.9v12.4l.5-10v-7.1l.5 2.7v25.9l.5-12.3v-10l.5-6v17l.5 2.6v-12.7l.5-6.6v10.7l.5 5.2v-15.8l.5 6.3v13.7l.5-1.7v-14l.5-3.9v16l.5-2v-11.6l.5-0.7v11.9l.5 7.5v-19.1l.5 6.2v14l.5-1.1v-11.6l.5 1.9v11l.5 5v-16.5l.5 2.4v5.6l.5 2.7v-13.7l.5-5.2v19.4l.5 3.8v-11.4l.5-10.9v17.9l.5-7.4v-12.5l.5 0v6.3l.5 4.6v-10.8l.5 7.4v8.1l.5 2.8v-17.7l.5 1.6v21.9l.5-5.4v-11.5l.5-25.1v32.8l.5 1.4v-9.2l.5-6.1v15.6l.5-3.7v-7l.5-4v14.1l.5 8v-20.5l.5 12.4v8.8l.5 0v-11.1l.5-13.1v11.5l.5 12.7v-11.1l.5-4v4.7l.5 8.5v-11.9l.5 3.2v9.5l.5-0.1v-10.3l.5 5.3v6.2l.5-2.6v-12.5l.5-22.5v32.1l.5 0v-3.9l.5 3.1v6.3l.5-7.9v-5.6l.5 1.2v5.2l.5 7.1v-11.1l.5-9.4v20.5l.5-0.4v-18.9l.5-4.9v17.3l.5-11.1v-6.2l.5 6.5v4.9l.5 7.8v-14.4l.5-4.8v13.5l.5 1.1v-11.4l.5 0.3v18.7l.5-13.5v-8.7l.5 5v6.5l.5 3.5v-6.5l.5-1v11.4l.5-7.9v-11l.5 0v9.5l.5 6.1v-5.7l.5-3.1v17.4l.5-12.8v-9.6l.5 4.9v15.5l.5-4.9v-8.4l.5 3v4.2l.5-0.8v-13.2l.5 3.1v11.4l.5 7.6v-13.6l.5-5.8v19.4l.5-0.7v-10.9l.5-8.7v16l.5-2.8v-7.4l.5-7.2v12.8l.5-1.9v-9.8l.5 0.3v13.7l.5 5.1v-15.9l.5 1.4v9.1l.5 0.5v-9.7l.5-29.5v33.9l.5 5.6v-7.5l.5-9.6v13.6l.5-1.4v-6.8l.5 1.2v24l.5-15.8v-8.4l.5-4v18.6l.5-5.6v-12.7l.5-1.9v11l.5 9.6v-18l.5 3.4v7.9l.5 4.7v-17.5l.5 1v12.3l.5 0.5v-9.9l.5 8.2v9.2l.5 0v-15.5l.5 9.2v6.3l.5-2.9v-11.6l.5-2.2v16.7l.5 0v-4.2l.5-2.4v6.6l.5-2.5v-16.2l.5 4v8.8l.5 5.5v-8.6l.5 8v0.9l.5 0v-3.7l.5 3.7v0l.5 0v-6.9l.5-7.3v14l.5-4.2v-17.1l.5 1v20.5l.5-5.4v-4.6l.5-28.5v34.7l.5 3.6v-17.8l.5-0.2v9.3l.5 4.4v-7.8l.5-2.9v13.9l.5 1.3v-13.3l.5 1.7v11.6l.5-0.8v-14.9l.5 4.5v9.8l.5 1.4v-4.2l.5-1.5v5.7l.5 0v-9.3l.5-2.5v10.3l.5-1.1v-4.5l.5-5.4v8.8l.5-0.1v-8.3l.5-1.8v9.9l.5-0.1v-10l.5 7.9v6.2l.5 0v-11.8l.5 3.1v7.4l.5 1.3v-8.1l.5-4.8v9.9l.5 3v-8.5l.5-31v38.2l.5 1.1v-10.5l.5-10.1v15.3l.5 5.5v-12.2l.5 9.2v3l.5-0.4v-10.1l.5 4.6v5.9l.5 0v-4.1l.5-13.6v17.7l.5-4.3v-6.6l.5 4.9v6l.5-1.8v-11l.5 2.6v7.1l.5-1.2v-11.6l.5 7.4v7.2l.5-2.1v-8.9l.5 3.1v9.2l.5-4.9v-13.8l.5-16.8v32.7l.5-6v-5.3l.5-3.3v11.5l.5-1.9v-7.4l.5-3.7v17l.5-3.4v-5.4l.5-5.8v7.6l.5-0.8v-4.8l.5-2.4v6l.5 1.1v-9.2l.5-20.5v28.7l.5-1.1v-7.3l.5 0.9v10.4l.5 0v-11.2l.5 3v7l.5 3.6v-13.4l.5 1.6v6.7l.5 9.1v-16.5l.5 0v4.6l.5 8v-3.5l.5-0.7v9.4l.5-8.4v-10l.5 8.7v8.3l.5 0.9v-13.4l.5 3.4v10.1l.5 0.5v-4.3l.5 4.3v0l.5-2.2v-3.3l.5 1.6v3.9l.5 0v-9.2l.5-1.2v10.5l.5 0v-7.9l.5-0.6v8.5l.5 0v-6.4l.5-5v5.1l.5 4.3v-6.2l.5 0.1v3.1l.5 5.1v-7.6l.5-0.1v6.2l.5 0.4v-7l.5 3.5v2.7l.5 2v-7.6l.5-73.1v76.7l.5 0.4v-5.4l.5-8v13.6l.5-1.2v-7.7l.5-0.9v6l.5-2.4v-8l.5 0.7v3.1l.5 5.7v-7.1l.5 4.4v3.1l.5-0.7v-3.9l.5-5.2v13.8l.5-1.5v-7.7l.5-4.5v9.4l.5 3.5v-9.3l.5-3.6v9.1l.5 3v-9.7l.5 0.9v7.7l.5-0.2v-9l.5-0.9v11.8l.5 1.1v-3.9l.5 0.2v8l.5-4.8v-2.8l.5 0v5.3l.5-2.7v-9.1l.5 3.7v8.7l.5-1v-10.6l.5 2.8v7.7l.5 2.6v-5.8l.5-2.5v8.7l.5-2.7v-7.5l.5-16.4v26.7l.5-10v-7.8l.5 0v5.5l.5 7v-12.4l.5-15v29.8l.5-0.1v-5.1l.5-8.3v8l.5 3.3v-5.7l.5-2.7v11.6l.5-1.7v-6.1l.5-2v8l.5-0.7v-7.6l.5 2.8v2.3l.5 5.1v-6.4l.5 0.4v3.4l.5-0.1v-7.7l.5 10.6v2.1l.5-1v-9.4l.5-4.1v9.2l.5 2.2v-11l.5 7.8v6.5l.5 0v-6l.5-6.2v9.1l.5-1.3v-13.4l.5 8v8l.5-6.5v-2.6l.5 3.4v7.7l.5-2.5v-5.3l.5-1.8v8.9l.5 0.8v-7.6l.5-2v3.7l.5 0.3v-7.7l.5-0.7v8.1l.5-3.4v-3.2l.5-2.4v7.4l.5 0.5v-6.2l.5 2.5v3.3l.5-0.2v-4.6l.5-2.9v6.3l.5 5.2v-4l.5-1v6.4l.5 1.7v-9.7l.5 0.7v6.1l.5 0.5v-3.3l.5 0.1v6.6l.5-8.5v-6.1l.5 4.9v7.9l.5-0.6v-7.8l.5 6.6v3.7l.5-0.1v-6.6l.5-7.4v14.2l.5-6.7v-9.2l.5 4v7.3l.5-2.2v-3.4l.5-7.7v8.3l.5 3.9v-10.6l.5-6.3v11l.5 5.6v-12.6l.5 0.8v10.8l.5 2.7v-21.3l.5 3.4v11.3l.5-3v-9.9l.5-1.9v13.8l.5 7.2v-21.6l.5-8.1v11.8l.5-1.1v-5.9l.5-0.3v10.2l.5 2.5v-9l.5-0.4v11.2l.5-4.9v-8.2l.5 6.3v18.4l.5-5.1v-21.7l.5 1.7v17.9l.5-1.8v-10.2l.5 3.3v17.5l.5 2.7v-19.2l.5-11.1v20.8l.5 10.1v-16.4l.5-80.8v94.6l.5-11.5v-7.7l.5-4.7v14.5l.5 4.6v-13l.5-10.4v17.7l.5-6.2v-4.4l.5-3.8v16.2l.5-0.1v-11.1l.5-0.5v15.1l.5 6.8v-26.8l.5 0.7v24.7l.5-1.2v-26.5l.5 9.1v12.4l.5-2.4v-15.7l.5 13.6v8.5l.5-2.3v-12.5l.5 5.9v5l.5 6.7v-13.1l.5-19.5v29.5l.5 2v-19.6l.5 7v12.7l.5-2v-12l.5-4.7v11.8l.5 0.8v-16.7l.5-2.4v15.7l.5-5.7v-9.1l.5-1.7v9.2l.5 1.3v-10.4l.5 1.5v14l.5 3.6v-10.8l.5-8.1v16.2l.5-9.3v-6.8l.5 0v10.9l.5 2.5v-13.4l.5 0v17.7l.5-0.1v-17.6l.5 3.2v25.8l.5-16.1v-13l.5-0.1v13.6l.5-12v-1.7l.5-0.1v11.5l.5 0.3v-12l.5 4.5v8.8l.5-1.9v-2.2l.5-8v16.1l.5 4.6v-22.7l.5 3.8v16l.5-5.1v-12.3l.5-0.8v16.5l.5 0.5v-18.3l.5 3.5v10l.5 6.5v-13.7l.5-7.9v14.4l.5 4.1v-9.4l.5-7.9v10.3l.5 3.9v-13.2l.5-0.9v5.5l.5 10.7v-15.9l.5-1.8v10.8l.5 7.2v-14.8l.5 7.6v11.1l.5 0v-19l.5 15.1v3.7l.5-0.2v-4.4l.5-13.9v14.7l.5 3.3v-2.8l.5-18.6v14.3l.5 6.7v-10.5l.5-18.4v28.8l.5-2.1v-18.2l.5 14.8v5.3l.5-5.7v-9.7l.5-0.5v12.7l.5-1.8v-14.1l.5 5.8v11.5l.5-1.7v-9l.5-4.5v38.4l.5-26v-12.4l.5-1.4v41.8l.5-37.3v-11.6l.5-1.3v13.7l.5-1.8v-12.1l.5-0.3v12.3l.5 5.1v-14l.5-3.8v17.2l.5 1.5v-18.5l.5 1.3v12.3l.5 4.3v-12.9l.5-7.1v20.6l.5 6.2v-21l.5 16v4.9l.5-0.2v-7.8l.5-3.9v11.6l.5-0.1v-3.7l.5-1v4.6l.5-0.2v-8.3l.5-4.9v13l.5-0.1v-5.4l.5-2.8v8l.5-0.1v-11.1l.5-0.5v11.4l.5-5.5v-17.2l.5 4.5v13.4l.5-14.1v-7.3l.5 2.6v9.6l.5-2v-7.7l.5-2.8v15.2l.5-2.9v-10.3l.5-2.2v14.9l.5-9.9v-5.1l.5 2.7v5.2l.5 6.3v-7.7l.5-6.8v19.4l.5-8.7v-10.8l.5 8.9v10.6l.5-9.1v-10.5l.5 5.8v13.9l.5-0.8v-7.5l.5-8.7v10.1l.5 5.8v-12.2l.5-3.2v9.1l.5 10v-17.1l.5 6.9v10l.5-3.6v-5.4l.5-12.2v14.3l.5 1.5v-11.2l.5 5.2v9.1l.5-4.8v-5l.5-3.3v12.8l.5-6.5v-5.6l.5-5v11.3l.5-5v-3.8l.5 6.4v2.8l.5 4.7v-8.3l.5-0.2v8.4l.5 2v-6.6l.5-1.1v7.5l.5-3.4v-8.9l.5-3.4v7.1l.5 4.7v-5.7l.5-1.5v4.7l.5 5.6v-6.5l.5 2.8v3.6l.5-0.1v-14.1l.5 10.8v3.2l.5 0v-6.1l.5 1.2v4l.5-1.1v-12.4l.5-0.6v11l.5-2.1v-3.2l.5 0.7v20.3l.5-15.4v-7.7l.5 5.2v3.1l.5 2.6v-10.3l.5 2.2v3.6l.5 4.6v-13.1l.5 0.7v10.6l.5-3.4v-5.5l.5-2.9v7.5l.5-0.2v-2.8l.5-2.3v3.5l.5 2.2v-4.2l.5-5.2v5.1l.5 9.8v-11.8l.5-2.1v5.3l.5 1.6v-4.4l.5 0.8v7.3l.5-3.3v-3.6l.5 4.6v3.7l.5 1.5v-6.5l.5-2.3v5.9l.5-2.1v-5.6l.5-14.7v18.3l.5-1.8v-5.7l.5 7.6v2l.5-1.3v-4.7l.5 1.3v5.8l.5-3.7v-6.4l.5 2.9v4.2l.5 0.8v-4.7l.5 0v9.3l.5-6.8v-6.2l.5 5.5v4.1l.5 4.6v-5.5l.5-2.7v8.2l.5-6.2v-6.3l.5-3.2v14.9l.5-6.2v-8.8l.5 2.1v6.3l.5 2v-7.9l.5 1.2v10.1l.5-5.4v-7.9l.5 2.2v8.6l.5-5.3v-6.3l.5 2.2v10.9l.5-2.9v-4.1l.5 0.5v5l.5 3.7v-8.5l.5 1.7v2.9l.5 3.4v-12.8l.5-1.4v11.3l.5-6.9v-3.9l.5 2v5.1l.5 2.7v-4.6l.5 2.1v7l.5-3.8v-3.9l.5 0.2v5.5l.5 2v-6.6l.5 0.7v3.9l.5-0.9v-6.5l.5-0.3v7l.5 2.5v-8.9l.5 1.6v5.7l.5-2.2v-11.6l.5 9v6.4l.5-3.1v-8.6l.5 1.2v8.2l.5 1.1v-8.1l.5-1.8v9.4l.5-0.6v-14.2l.5 4.4v5.6l.5 2.5v-4.5l.5 2.4v5.8l.5-2.3v-4.2l.5-9.1v13.6l.5-6.7v-4.2l.5-1.2v8.6l.5-3.1v-4.9l.5 1.1v11.6l.5-4.9v-3.5l.5-1.9v2.8l.5 1.3v-6l.5-9.9v17.9l.5-0.8v-5.5l.5-0.2v8.8l.5-0.9v-11.5l.5-0.5v7.3l.5 2.1v-3.7l.5-2.3v6.8l.5-0.7v-4.8l.5-2.1v6.7l.5 5.3v-7.2l.5-4.1v40.4l.5-30.3v-7.9l.5 1.3v5l.5-4.5v-2.9l.5-0.7v6l.5 0.4v-3.8l.5-1.6v4l.5 1.8v-5.5l.5-5.5v6.8l.5 3v-8.5l.5-1.8v11.6l.5-5.1v-7.7l.5 5.7v8l.5 0.6v-10l.5-3.7v9.6l.5 3.1v-13.5l.5 2.4v4.7l.5 0.4v-7.7l.5 6.9v9.5l.5 0.6v-13l.5-0.4v5.8l.5 2.5v-4.3l.5-6.3v14.1l.5-1.7v-5.4l.5 0v8.6l.5-0.8v-5.8l.5-0.1v5.8l.5 0.6v-5.9l.5-2.4v8.5l.5 0v-9.9l.5-3.9v9.6l.5 0.2v-12.1l.5-10.4v24.5l.5 1.7v-8.5l.5 1v20.3l.5-16.4v-5l.5-2.2v8.7l.5 0.7v-9l.5 1.5v4.7l.5 0.2v-6.9l.5-0.2v7.7l.5 1.8v-8.8l.5 3v8.3l.5-1.8v-5.9l.5-2.1v9.3l.5 0.6v-3.7l.5-0.9v4.7l.5-2v-7.6l.5-8.4v14.1l.5-5.6v-9l.5 3.1v15.6l.5-2.4v-17.4l.5 14.6v5.4l.5 0v-8.2l.5-1.2v9.4l.5 0.1v-1.5l.5-5.5v7.1l.5 0v-6.6l.5 3v3.7l.5 0v-16.3l.5 4.5v9.4l.5 2.6v-9.8l.5-1.9v11.7l.5-2.4v-6.2l.5-7.3v14.1l.5-9.3v-9.1l.5 7.2v9.7l.5 3.3v-6.5l.5-3.4v9.9l.5-7.5v-5.3l.5-14.4v26.5l.5-4.7v-4.9l.5-13.6v21.4l.5-5.7v-7.6l.5-5.6v15l.5 3.5v-11.6l.5-9.4v20.6l.5 0.6v-21.2l.5 3.2v19.2l.5-5.9v-3.4l.5-4.8v8.4l.5-8.5v-6.2l.5-2.6v35.3l.5-14.9v-16.2l.5-2.9v10.5l.5 9.2v-22l.5 3v7.7l.5-7.8v-5.9l.5-0.9v10.7l.5-3v-8.6l.5 3.7v16.4l.5-9.9v-10.2l.5-0.7v9.5l.5-2.8v-8.8l.5 4.4v14.9l.5-11.4v-4.8l.5 0.3v12l.5-1.3v-3.4l.5-21.8v24.3l.5-2.5v-11.5l.5 0.6v9.9l.5-0.9v-9.3l.5-5.2v10.3l.5-0.7v-8.9l.5 5.2v3.2l.5 2.9v-6.4l.5 1.4v6l.5-2.3v-4.5l.5-1.6v36l.5-32.9v-5.6l.5-3.5v9.8l.5-1.3v-4.6l.5 0.9v9l.5-3.8v-6.6l.5-0.1v7.1l.5-0.6v-5.8l.5 0.3v5.7l.5-2.4v-3.9l.5-12.7v19.2l.5-1.2v-3.2l.5-2.7v10.4l.5-0.2v-12.8l.5 3.8v5.2l.5-4v-6.1l.5 3.2v5.5l.5 3.5v-5.1l.5-1.7v4.9l.5-2.7v-2.1l.5-3.8v8.7l.5 0.9v-5.9l.5-1.5v10l.5-4v-3.7l.5-0.7v4.9l.5 8.1v-11.2l.5-4.3v9.7l.5 7.7v-15.9l.5 4.4v10.5l.5-0.9v-8.7l.5 0.8v8.8l.5 0.7v-12.2l.5 5v5.4l.5 5.7v-7l.5-1.4v6.3l.5-0.4v-10l.5-4.9v14.5l.5-1.3v-8l.5 2.2v4.7l.5-1.8v-6.7l.5 2.5v3.1l.5 5.6v-9.9l.5-0.7v7l.5 4v-7.5l.5 3.1v6.6l.5-7.3v-7.8l.5 2.5v4.3l.5 2.8v-9.5l.5-1.9v7.9l.5-1.9v-6.7l.5 7.4v10.2l.5-5.9v-7.4l.5-1.8v14.6l.5-7.4v-8.3l.5-1.6v3.8l.5 1.6v-5.9l.5 0v8.1l.5-3v-5.1l.5 1.8v8.2l.5-1.6v-8.3l.5 0v17.4l.5-6.3v-8.2l.5-2.3v5.9l.5 10.3v-16.5l.5-0.2v4.8l.5-1v-3.8l.5 0v6.6l.5 4v-9.9l.5 5.8v9.7l.5-8.2v-4.5l.5-1.8v11.8l.5 3.7v-7l.5-2.5v6.6l.5 2.7v-9.6l.5 1.7v32.6l.5-28v-5.9l.5-4.4v10.2l.5-8.6v-3.6l.5 0v5.1l.5 7.6v-12.5l.5 5.9v5.9l.5 7v-12l.5 2.5v8.7l.5-3.5v-10.9l.5 4.7v15.3l.5-10v-5l.5-1.4v10.7l.5 3.6v-18.1l.5 8.6v7.7l.5 7v-13.7l.5 2.7v9.2l.5 2.8v-6.9l.5-7.2v11.4l.5 1.7v-11.1l.5 2.5v9.6l.5-1.6v-14.8l.5 8.3v7.8l.5 0.3v-9.2l.5-4.3v13.5l.5 0v-9.4l.5-3.9v11.5l.5-1.6v-17.4l.5 10.4v10.4l.5-6.6v-15.6l.5 6.5v15.7l.5-10.3v-12.8l.5-28.5v44.5l.5 4.3v-11.6l.5-6.8v11.6l.5 9v-22.3l.5 3.6v9.3l.5 0.3v-6.6l.5-6.8v20.6l.5-5.9v-3.2l.5-3.8v11.9l.5 3.5v-18.5l.5 11.9v6.6l.5 0v-16l.5 1.3v27.1l.5-15.3v-10.6l.5-4.4v7.6l.5 9v-8.9l.5-2.7v2l.5 7.8v-9.9l.5 1.9v10l.5 0v-10.4l.5-3.8v8.5l.5-5.8v-9l.5 8.4v13.2l.5-5.3v-3.7l.5-4.1v12.9l.5 0.2v-7.1l.5-2.3v7.8l.5 1.6v-19.3l.5 1.7v17.6l.5-6.5v-7.6l.5 0.7v7.2l.5-2.4v-8.9l.5-5.6v21l.5-13.3v-7.7l.5 0v7.1l.5 10v-8.5l.5-5v11.1l.5-4.4v-5.7l.5 4.6v14.5l.5-5.7v-8.3l.5 1.1v48.7l.5-47.5v-7.7l.5 9.8v6l.5-1.8v-8l.5-0.4v10.1l.5 6.7v-14.5l.5 2.4v9l.5-3.9v-6.3l.5 2.3v8.3l.5-1.5v-8.7l.5-3.2v10.4l.5 8.3v-8l.5-6.4v11l.5-0.4v-16.8l.5 3.7v8.8l.5 5.5v-20.9l.5 2.4v19.5l.5-4.2v-11.9l.5 0.1v54.8l.5-39v-22.6l.5-0.2v15.2l.5 6.7v-20.9l.5-1.2v18.3l.5 0.8v-16.8l.5 7.8v5.9l.5 3.7v-15.2l.5 2.5v17.8l.5 1.4v-21.7l.5-1.3v12.8l.5 3.4v-16.7l.5-0.8v22.4l.5-0.3v-23.2l.5 12.9v15.2l.5-9.7v-14.3l.5 0v9.5l.5 14.7v-18.1l.5 2.1v5.4l.5-2.3v-5.5l.5-3v15.1l.5 1.8v-15.2l.5-7.4v13.1l.5 3.4v-16.3l.5-1.2v20.6l.5 8v-14.4l.5-4.4v18.1l.5-0.3v-24.5l.5 11.5v12.1l.5 2.2v-8.9l.5-8.3v17.2l.5 0.1v-11.3l.5-3.2v10.7l.5 2.3v-10.6l.5-2.8v9.8l.5 1.4v-12l.5 3.9v4.7l.5 6.2v-11.5l.5-0.9v8.9l.5-1.8v-11.1l.5-3.1v16.3l.5 1.6v-14.6l.5-5.5v19.1l.5-1v-11.1l.5-10.1v18.5l.5-7.1v-9l.5-2.5v76.8l.5-68v-7l.5 7.3v5.9l.5-8v-7.4l.5-0.1v10.5l.5 1.5v-12.3l.5 1.3v11.4l.5 0.1v-13l.5-11.2v19.8l.5-0.1v-7.8l.5-1.2v10l.5 13v-16l.5 0.8v10.1l.5-2.3v-14.6l.5-0.2v8.2l.5 6.5v-16.3l.5-0.1v10.2l.5 7.7v-18.1l.5-0.2v16.9l.5-1.7v-7.1l.5-1v7.8l.5 5.8v-11.9l.5-3.7v16.6l.5-1.9v-13.3l.5-4.3v19.7l.5-7.7v-15.2l.5 8.9v17.1l.5-3v-16.3l.5-2.6v55.5l.5-32.4v-28.1l.5 7.4v18.9l.5-14.6v-4.5l.5 3.5v22l.5-9.1v-16.3l.5 10.7v14.7l.5-3.9v-27.2l.5 11.1v19.8l.5-0.1v-10.2l.5-0.8v10.9l.5-0.1v-24l.5-17.7v41.5l.5-0.2v-10.7l.5-22.7v95.7l.5-69.2v-28.2l.5 13v21.5l.5-3.7v-24.8l.5 6.7v9.3l.5-4.3v-4l.5-4.7v20.1l.5-9.9v-21.4l.5 16.9v17.8l.5-1v-33l.5-6.7v74l.5-32.9v-15.8l.5-12v18.8l.5 8.9v-16.3l.5-8.2v23.7l.5 0.6v-19.6l.5-18v31.7l.5 5.7v-28.4l.5-8.9v22.2l.5 7.1v-23.7l.5 10.2v17.9l.5 0.3v-31l.5-0.3v20.5l.5 9v-11.5l.5 3.9v12.6l.5-3.1v-19.7l.5-16.7v39.4l.5-10.3v-18.4l.5-6.1v28.6l.5-5.8v-12.3l.5 6.6v8.1l.5 9.1v-10l.5-4.9v15.4l.5-3.8v-16.7l.5 7.3v13.2l.5-10v-23.1l.5 8.2v17.5l.5-0.9v-13.9l.5 6.2v11.8l.5-0.7v-23.4l.5 11.6v12.9l.5-8.1v-19.5l.5 10.2v21.1l.5-6.9v-10.5l.5-10.1v22.1l.5-10v-10.3l.5 13.1v10.7l.5-8.4v-18.5l.5 6v17.5l.5-0.5v-17l.5 4.9v9.4l.5 6.7v-14.3l.5 6.9v8l.5-5.8v-13.8l.5 1.3v13.2l.5-4.8v-5.3l.5 1.8v10.7l.5 2v-9.3l.5 0v4.7l.5 1.6v-3l.5 2.1v3.4l.5 1.6v-6.6l.5 1.2v5.9l.5 1.7v-13l.5 9.4v3.6l.5 0v-8.2l.5 2.6v5.6l.5-0.4v-6.8l.5 0v2l.5 4.6v-5l.5-0.8v5.6l.5-0.3v-9.3l.5 3.4v6l.5-1.6v-3.9l.5-1.7v1.9l.5 6.3v-4.9l.5-21.8v25.3l.5-1v-2.2l.5 0.3v4.3l.5-3.3v-7.4l.5 3.2v2.6l.5 4.9v-12.5l.5 2.4v5.2l.5 0.2v-3.1l.5-0.9v6.3l.5 2.4v-5.1l.5 3.2v1.9l.5-2.9v-1.6l.5-0.4v4.9l.5 0v-4.5l.5 0.4v3.4l.5-1.4v-5.9l.5-0.9v5.2l.5 1.8v-8l.5-0.6v5.7l.5 4.2v-6l.5 0.2v2.8l.5-0.5v-4.5l.5 0.9v3.9l.5 2.8v-6.6l.5 0.7v6.6l.5 69.6v-78.7l.5 2v5.2l.5-2.2v-7.3l.5-1.1v8.5l.5-0.9v-6.9l.5-3.1v5.9l.5-3v-4.5l.5-2.7v7.4l.5-7.7v-0.7l.5-1.4v4.3l.5-0.7v-4.1l.5-1.2v6.2l.5 7.3v-7.1l.5-11.5v10.3l.5 4.3v-13.4l.5-0.7v5.7l.5 6.1v-12.5l.5-0.9v14.2l.5 7v-15.9l.5 3.9v12.4l.5-13.3v-6.5l.5 5.1v11.1l.5-4.7v-13.1l.5 0v10l.5 3.5v-12.1l.5 1.8v14.3l.5-1.8v-14.6l.5 3v15l.5-8.2v-10.6l.5 1.6v5.1l.5 3.4v-10.1l.5 0.1v10.6l.5 6.9v-10.5l.5 1.7v5.2l.5 6.1v-18.5l.5-1.3v5.1l.5 3.5v-8.6l.5 3.5v39.8l.5-27.9v-5.6l.5-7.2v17.6l.5-4.6v-7.6l.5-0.2v10l.5 1.7v-11.5l.5 6.3v4.1l.5 0.8v-6.2l.5-12.5v13.8l.5-1.5v-9.6l.5 3.4v6.5l.5 6.5v-11.6l.5-7.3v20l.5-6.1v-10.4l.5 3.5v7.5l.5 2.4v-12.6l.5-2.4v12.9l.5-0.9v-11.9l.5-0.6v6.8l.5 3.8v-9.3l.5 6.9v8l.5 3.5v-19.6l.5 6.2v84.5l.5-75.6v-7.4l.5-1.7v10.3l.5 2.3v-4.3l.5-11.2v9.1l.5 6.6v-6.1l.5-5.8v7.5l.5-1.9v-8.4l.5 0.6v5l.5 0.3v-1.8l.5-4.7v6.8l.5 7.6v-10.3l.5-0.4v11.9l.5-3.8v-4.8l.5-2.1v7.1l.5 1v-3.8l.5-3.1v4.3l.5-1.4v-2.3l.5 3.1v3.7l.5-1.6v-3.4l.5 1.8v3.3l.5 0.7v-3.6l.5-0.6v2.8l.5 1.8v-4.7l.5 0.1v3.3l.5 1.3v-5l.5 2.4v4.5l.5-3.6v-1.7l.5-0.7v1.8l.5-0.7v-2.5l.5 0v4.4l.5 0.5v-3l.5-0.4v1.2l.5-0.2v-1l.5-2.3v4.6l.5 2.1v-5.1l.5 0.4v6l.5-0.8v-3.7l.5-0.6v81.3l.5-74.7v-0.9l.5-5.3v6.2l.5-0.7v-2l.5-1.1v78.5l.5-75.7v-2.1l.5-3.2v5.1l.5-0.3v-3.3l.5 1v2.5l.5-1.1v-8.4l.5 4.8v3.3l.5 1v-2.8l.5-3.7v2.8l.5 0.3v-2.5l.5 1.7v3.2l.5-3.1v-4.8l.5-0.9v11l.5 0.2v-7.3l.5 0.6v5.1l.5-2.7v-3.9l.5 2.6v78.6l.5-72.7v-9.8l.5 5.3v6.4l.5 0.2v-8.7l.5 5.4v3.6l.5 0.4v-8.5l.5-8.3v14.4l.5-1.9v-10l.5-3.7v8.5l.5 3.1v-19l.5 2.3v9.6l.5 3.7v-15.9l.5 6.9v13.6l.5-11.1v-2.1l.5-3.3v17.3l.5-3.1v-9.5l.5-2.1v19l.5 1.2v-10.6l.5 5.1v5.5l.5-6v-12.2l.5 3.8v7.3l.5-4.7v-14.7l.5 2.1v18.3l.5 1.6v-13.5l.5 6.3v8.4l.5 2.4v-17l.5 0.8v9.8l.5 4.7v-7l.5-17v15.9l.5 1.8v-17.4l.5 2.9v16.2l.5-1.1v-12.7l.5-5.8v17.7l.5 9.1v-12.2l.5 6.3v5.9l.5 0v-6l.5-10.2v38l.5-30.4v-12.2l.5-6v8.6l.5 16.6v-22.8l.5-2.4v11.1l.5 13.2v-17.9l.5-4.7v11.7l.5-1.5v-11.9l.5 0v8.7l.5-0.7v-8l.5 0v6.7l.5 3.3v-10l.5 0v15.3l.5-5.9v-7.4l.5-2v14l.5 1.6v-15.6l.5 3.3v12l.5 1.2v-16.5l.5 6.2v3.2l.5 4.1v-11.9l.5-1.6v8.7l.5 2.4v-11.1l.5 0v15l.5-0.3v-4.9l.5-8.9v15.4l.5 4.2v-17.4l.5 12.5v27l.5-15.3v-20.8l.5-7.4v20.4l.5-13.1v-8l.5 2.1v16l.5-12.7v-9.7l.5-0.2v24.9l.5 4.5v-26.6l.5 7.8v13.2l.5 0.3v-22.1l.5 15.1v18.9l.5-8.8v-30.2l.5-3.2v28.7l.5 12.1v-23.8l.5-20.1v32.3l.5-8.4v-15.4l.5 20v7.7l.5-8.5v-20.9l.5-1.8v18.9l.5 1.7v-21l.5-2.6v12.8l.5 4.7v-17.4l.5-0.1v17.7l.5 5.8v-23.5l.5 16.5v39.5l.5-11.9v-20.9l.5-20.8v31.8l.5-6.3v-16.2l.5 3.8v21l.5 0.4v-20.1l.5-16.8v25.1l.5 15v-40.1l.5 0v14.2l.5 5.5v-19.7l.5 10.7v16.7l.5-4.9v-22.5l.5 14.9v24.6l.5 1.3v-31.5l.5-5.4v26.1l.5 4.5v-26.6l.5-6.9v31.5l.5 11.6v-28.2l.5-14.6v35.2l.5-3.5v-33l.5 4v22.9l.5-6.9v-10.2l.5-9.7v59.9l.5-28.6v-17.9l.5-3v16.3l.5-1.8v-19.8l.5 2.8v10.7l.5 5.2v-14.8l.5-7.1v20.4l.5-0.5v-6.1l.5 1.7v17.8l.5 1.1v-13.5l.5 0.7v24.3l.5-0.6v-17.2l.5-0.9v21.7l.5-7v-10.8l.5 7.3v10.3l.5-8.8v-5.5l.5 1.6v18.5l.5 0v-13.1l.5 1v19.9l.5-0.1v-18.2l.5-0.5v10.2l.5-1.2v-10.5l.5-2.3v13.1l.5 8.5v-11.7l.5-3.2v14.4l.5-5.7v-8l.5-2.6v9.8l.5 3.8v-12.6l.5-6.2v18.9l.5-0.9v-15.3l.5 1.6v20.4l.5-10.5v-5.8l.5-0.4v8.3l.5-1.9v-12l.5-3v15.7l.5-0.5v-8.5l.5-1.1v8.9l.5-0.1v-9.8l.5 0.1v9.3l.5-0.1v-10.9l.5-1.9v12.8l.5 0v-12.4l.5-6.1v13l.5-0.1v-7l.5-6v14.9l.5 3.7v-2.6l.5-16.4v10.6l.5 7.6v-6.8l.5-2.4v10l.5 0v-4.6l.5-18v17.2l.5 2.7v-20.5l.5 5v14.5l.5-10.5v-10l.5-17.4v32.8l.5 0v-11.8l.5-0.9v6.3l.5-0.1v-9.2l.5 7.2v6.2l.5-1.6v-12.1l.5 0.9v19.8l.5-1.3v-7.7l.5-7.6v19.9l.5-5.1v-5l.5-4.7v20l.5-14.4v-8.1l.5-5.2v11.2l.5 0.4v-6l.5-4.3v16.9l.5 3.7v-23.4l.5 0v8.9l.5-0.5v-8.4l.5 0v14.4l.5 9.4v-23.8l.5 0v11.5l.5 1.9v-13.4l.5 0v9.9l.5 1.8v-7.4l.5 0.6v14.3l.5-6.8v-8.7l.5 0.1v10.6l.5-4.8v-9.6l.5 0v5.9l.5 7v-12.9l.5 0v3.7l.5-0.9v-2.5l.5 0.8v21.4l.5-14.9v-7.6l.5 0.3v16.3l.5-7.9v-8.6l.5-0.1v9.7l.5 7.4v-17.1l.5 0v10.4l.5 10.6v-18.5l.5 3v7.4l.5 8.1v-10.3l.5 2.5v4.4l.5-0.1v-15.2l.5 5.2v10.3l.5-1v-9.1l.5 3.1v14l.5 0v-21.3l.5 4.6v11.5l.5-3.3v-7.2l.5-23.9v34.1l.5-8.5v-11l.5 0v24.4l.5-21.7v-4l.5-0.8v0.5l.5 5v-6l.5-0.8v9l.5 0.8v-10.5l.5 8.4v22.1l.5-12.6v-19.9l.5-0.7v9.5l.5 9.7v-20.1l.5 9.7v22.8l.5 0.7v-20.7l.5-4.8v23.4l.5 3.4v-22.7l.5-13.7v27.8l.5 10v-17l.5-0.7v16.5l.5-19.6v-12.4l.5-4.3v22l.5-4.2v-14.9l.5-6.2v19.6l.5 14.8v-21.4l.5 6v22l.5-10.1v-29.4l.5-1.5v18.7l.5-15.8v-2.9l.5 0v26.8l.5-4.4v-20.4l.5-0.1v20.4l.5 14.7v-15.8l.5-0.1v11.4l.5 8.5v-31.7l.5 11.2v18.4l.5-7v-10.8l.5-8.2v17.7l.5 2.6v-11.4l.5-10.2v16.1l.5 13.3v-17.5l.5-16v25.7l.5 4.3v-17.2l.5-4.7v23.7l.5-9.3v-18.3l.5 23.9v9.4l.5-4v-8.8l.5-22.7v27l.5-2.5v-21.8l.5 6.2v13.1l.5 8.7v-33.6l.5 16.5v10l.5 5.8v-28.6l.5-10.3v6.5l.5 7v-13.5l.5 0.1v27.9l.5-13.2v-14.8l.5 0v28.2l.5-7.3v-13.4l.5 8.2v19.2l.5-10.6v-24.3l.5 12.1v20.1l.5-5.1v-18.2l.5-5.4v15.1l.5 11.6v-26l.5-2.9v33.2l.5 2.3v-17.1l.5-7.1v23.4l.5-10v-12.2l.5 6.9v19l.5-0.1v-23.8l.5 4.4v12.5l.5 5v-14.5l.5 3v11.5l.5 0.3v-17l.5 3.2v14.1l.5-0.5v-9.5l.5-5.1v10l.5-2.5v-5.2l.5 2.5v5.5l.5 0.7v-3.4l.5-1.9v5.8l.5 0.9v-4.2l.5 0.2v4.4l.5 1.1v-3.6l.5-0.8v4.6l.5 0v-12.4l.5 7.8v4.1l.5-3.3v-2.4l.5 0.5v3.1l.5 0.5v-2.3l.5-8.7v11.1l.5-2.1v-3.7l.5-0.2v5.6l.5-1.6v-3.5l.5-1.1v3l.5 1.9v-9.5l.5 6.2v3.2l.5 3.1v-8.9l.5-4v12.4l.5-6.5v-2l.5-0.5v8.5l.5 3.4v-14.4l.5-2.2v16.3l.5-6.6v-11.6l.5-0.4v19.8l.5-4.1v-17.5l.5 1.7v13.7l.5-9.5v-10.8l.5 1.8v21.2l.5-1.6v-21.5l.5-4.3v27l.5-3.2v-12l.5-0.5v23.6l.5-3.5v-16.9l.5 9.5v11l.5 0v-14.3l.5-26.7v31.6l.5-10.6v-21l.5 4.2v13.4l.5 5.1v-22.7l.5 21.3v8.9l.5 10.8v-25l.5-3.5v26.6l.5-12.8v-17.6l.5-8.7v16.6l.5 1.6v-7.5l.5 6.7v23.6l.5-1.6v-6l.5-14.6v21.2l.5 1v-17.9l.5-13.2v28.2l.5-9.3v-13.5l.5-9v18.3l.5 5.7v-30.3l.5 9.9v37.1l.5-21.6v-18.1l.5 3.1v11l.5 6.2v-27l.5-0.6v30.4l.5-6.9v-23.5l.5 12.8v5.5l.5 21.5v-36.3l.5 3.5v14.6l.5 16.5v-33.5l.5-0.6v23.9l.5-2.6v-23.6l.5 13.3v26l.5 0v-11.4l.5-21.6v27.3l.5 5.7v-41l.5 1.7v19.2l.5-0.7v-10.7l.5-9.4v26.9l.5 1.2v-15.4l.5-1.7v20.6l.5 9.3v-28.3l.5-9.3v18.1l.5 13.4v-27.6l.5-7.3v24.2l.5 5.6v-29.1l.5-0.7v24.4l.5-4.5v-16.9l.5 2.9v23.9l.5-8v-16.1l.5 1.1v38.2l.5-18v-23.7l.5-2.3v37.4l.5-18.7v-13.6l.5-3.8v19.8l.5-22.1v0l.5 0.9v18.9l.5-6.6v-13.2l.5 0v23.3l.5-18.9v-4.4l.5 0v10.7l.5 6.7v-17.4l.5 0.1v8.7l.5 4v-10.7l.5-1.3v10.6l.5 3.7v-13.2l.5 1.2v1.8l.5 4.2v-4.6l.5 1.6v6.8l.5 0.9v-7.2l.5 1.2v7.7l.5-1.3v-5.1l.5 1.7v1.6l.5 11.1v-10.8l.5 4v12.1l.5-3.4v-10.6l.5 1.3v6.3l.5 6.2v-7.9l.5-3.8v5l.5 0.7v-5.3l.5 0.5v3.1l.5 4.3v-7.8l.5 4.5v5l.5-2.5v-5.9l.5 4.6v3.6l.5-3.9v-4.8l.5 5.8v6.5l.5-5.6v-7.3l.5 1.7v4l.5 4v-5.3l.5-3.6v6.6l.5 3.6v-5.7l.5-4.1v7.9l.5-0.6v-8.5l.5 1.2v8.6l.5-2.1v-4.2l.5 2v3.4l.5 1.3v-4l.5 1.1v4.7l.5-2.3v-4.3l.5 1.1v6.2l.5-0.3v-5.4l.5 1v4.8l.5-0.5v-1.7l.5-0.6v3.5l.5-4.4v-5.2l.5 2.1v4.2l.5 3.3v-4.6l.5-5.1v9.1l.5-3.4v-2.9l.5-1.4v5.2l.5 0.4v-6.7l.5 2v4.1l.5 2.8v-7.9l.5 2.3v1.8l.5 2.8v-4.9l.5 0v2.6l.5 1.9v-4.4l.5-2.9v2.9l.5 3.9v-6.8l.5-1.8v5l.5 0.6v-5.6l.5-2.5v3.3l.5 1.1v-4.4l.5 0v4.8l.5 1.9v-3.9l.5-0.6v5.7l.5-0.1v-7l.5 0.5v7.5l.5 0.6v-4.1l.5-0.5v3.5l.5 1.9v-8.4l.5-1v3.8l.5 2.8v-7.1l.5-0.1v5.3l.5 3.8v-8.4l.5-0.2v5.2l.5 0v-2.7l.5 2v2.3" fill="none" stroke="#ff00e6" stroke-width="1.2" stroke-linejoin="round" clip-path="url(#c4)"/>
<path d="M213.95 795.5v11.5l.5 0.5v-6.9l.5-5.4v13.8l.5-2.6v-10.1l.5 0.7v38l.5-34.1v-5.3l.5 0.3v1.3l.5 15.7v-14.6l.5-1.7v4.6l.5-1.2v-3l.5 0.6v4.4l.5 3.3v-4.2l.5-2.7v7.8l.5 0.9v-8.6l.5 3.8v3.9l.5-1v-2.2l.5-1v3.1l.5 3.4v-4.9l.5 1.5v3.6l.5 3v-9.7l.5-0.9v1.3l.5 3.7v-4.8l.5 1.5v3.3l.5-1.4v-2.9l.5 0.5v3.9l.5-2.9v-3.1l.5-1.1v1.5l.5 4.9v-6.6l.5 4.2v11.9l.5-3.3v-9.9l.5-2.3v8.4l.5-3.6v-3.5l.5-2.8v6l.5-1.6v-4.7l.5 1.7v4.9l.5-1.8v-2.7l.5-2.1v2.6l.5 5.8v-5.6l.5-0.1v10.9l.5-4.3v-4.1l.5-6.2v13.7l.5 2.2v-7l.5-4.5v7.7l.5-4.4v-8.8l.5-0.1v3.5l.5 1.8v-5.6l.5-0.2v5.6l.5 2.5v-6l.5-0.1v5l.5-0.3v-7.4l.5-0.2v1.9l.5 9.1v-11.2l.5-0.1v8l.5-3v-5.2l.5-0.1v11.2l.5-1.4v-4.2l.5-2v8.1l.5-3.1v-5.1l.5-1v6.7l.5 0.1v-7.9l.5 6.7v8.2l.5-1.1v-8.8l.5 0.6v7.1l.5-3.2v-10.8l.5-1.7v9.3l.5 6.2v-10.7l.5 0.3v6.9l.5 8v-11.1l.5 1.7v6.9l.5 0.6v-11.3l.5-4.5v10.6l.5 3v-10.6l.5 7.1v6.9l.5-8.8v-3.5l.5-5.1v10.3l.5 3.9v-11.1l.5 1.6v6.7l.5 8.4v-20.9l.5 3.6v11.6l.5 0.3v-10.7l.5-4.2v12.3l.5-2.2v-6.5l.5-2.2v10.7l.5 5.2v-12.1l.5-3.5v9l.5 3.4v-12.2l.5 3.1v10.1l.5-1.2v-17.5l.5 0.1v11.3l.5 11.9v-23.5l.5-0.1v14.6l.5 9.4v-11.3l.5-10.9v6.1l.5 5.7v-13.9l.5-0.1v24.5l.5-3.5v-13.5l.5-5.5v12.3l.5-8.1v-6.5l.5-18.7v24l.5 0.8v-6.3l.5-0.1v6.3l.5-3.6v-2.8l.5-0.1v10.4l.5-2.5v-6.6l.5-1.4v6.4l.5 2.8v-9.4l.5 0.5v24.6l.5-23.6v-1.7l.5-0.1v25.9l.5-25v-1l.5 0v11.7l.5-0.4v-11.4l.5-0.2v7.1l.5 10.9v-18l.5 1.1v23.5l.5-13.6v-11.3l.5 7.6v6.2l.5 2.1v-16.1l.5 7.4v15.2l.5 4.7v-14.1l.5-13.4v19.1l.5-6.9v-8l.5-3.4v11.1l.5 4.4v-13.6l.5 4.3v6.7l.5 12.6v-22.6l.5 1.5v26.3l.5-8.4v-22.5l.5 3.5v22l.5-3.6v-9.8l.5-1.7v7.8l.5 9.6v-29.5l.5 6.3v12.1l.5 12.9v-10.7l.5-4v10.3l.5 2.5v-24.3l.5-5.6v26.9l.5-5.1v-17l.5 11.3v10.4l.5 1.6v-17.3l.5 4.5v10.7l.5 5.9v-12.2l.5-17.2v29.4l.5-6.6v-14.9l.5 0.2v21.3l.5-0.3v-18.2l.5-1.1v16l.5-16.4v-5.2l.5-7.6v9.9l.5 20.6v-22.6l.5 7.2v8.6l.5 9.1v-24.3l.5 9.9v8.9l.5 5.5v-19.3l.5-2.3v21.6l.5-0.6v-13.1l.5-11.5v25.2l.5-16v-16.2l.5-12.6v44.8l.5-19.7v-12.8l.5-1.3v21.4l.5 3.7v-25.2l.5 10.1v14.8l.5-6.9v-18.2l.5 1.3v25.5l.5-21.2v-5.2l.5 6.6v24.3l.5-8.3v-16.9l.5-6.5v15.9l.5-2.8v-13.2l.5-0.1v4.5l.5 16.8v-11.7l.5-1.5v13.2l.5 12.4v-28.3l.5 5.8v13.9l.5-10.2v-11.9l.5 5.3v26.4l.5-0.8v-5.7l.5-14.5v21l.5-13.6v-8.9l.5 1.6v20.9l.5 0v-23.2l.5 4.9v18.4l.5 0v-18.4l.5 3.6v11.7l.5 3.1v-21.4l.5-2.2v17.5l.5 2.8v-11.3l.5-6.2v17.6l.5 3.2v-22.1l.5 5.7v8.3l.5 8v-10.9l.5 0v10.9l.5 0v-14.8l.5-4.9v19.6l.5-0.1v-11.8l.5-11.6v23.1l.5-2.5v-20.4l.5-7.1v30.2l.5-3.6v-27.4l.5 1.2v27.9l.5 1.6v-13.1l.5-7.6v16.1l.5-10.7v-9.3l.5-1.7v18l.5-10.3v-17.4l.5 0.5v16.3l.5 3.4v-20.2l.5 1.1v29.5l.5-9.2v-18.2l.5 9.4v12.7l.5 0.6v-13.6l.5-12.3v21.7l.5-16v-5.7l.5 2.7v23.4l.5-6.1v-13.7l.5-6.3v30.9l.5 3.4v-28l.5-6.3v11.5l.5 3.3v-13.7l.5 0v18.7l.5 12.5v-26.6l.5 11.8v14.3l.5 0.3v-19.7l.5-0.8v20.6l.5-11.5v-20.7l.5 0v40.8l.5-28.1v-12.5l.5-0.2v20.6l.5-1.1v-18.4l.5 5v23.9l.5-5.9v-12.4l.5-6.3v21l.5-4.3v-15.2l.5-6.9v18.8l.5-9.5v-7.9l.5-1.4v16.1l.5 0.8v-16.9l.5 0v16.9l.5 13.4v-23.9l.5-6.4v20.3l.5 0.6v-15.8l.5 2.1v12.6l.5 2.5v-15.3l.5-16.2v33l.5-7v-13.4l.5 9.1v18.7l.5-10.4v-7.4l.5-10.2v24.2l.5 0v-14.1l.5-5.2v16l.5 4.3v-17.7l.5-10.4v21.5l.5-1.8v-10.4l.5 1.7v11.8l.5 7.7v-18l.5 0.8v16.5l.5 0.7v-10.5l.5-4.1v3.7l.5 6.6v-12.6l.5-11.3v28.4l.5-6.3v-21l.5 17.4v9.4l.5-1.2v-14.9l.5-7.6v24.4l.5 0.1v-9.9l.5-5.5v15.4l.5-10.7v-10.4l.5-5.6v23.3l.5-6.1v-6.7l.5-10.8v15.7l.5 1.6v-17.6l.5 1v9.7l.5 16.7v-23.7l.5 3.4v26.7l.5-18v-17l.5 0.1v24.9l.5-2.9v-16l.5-5.7v18.7l.5 9.5v-19l.5-2.7v19.8l.5-9.8v-12.3l.5-3.8v27.1l.5 0.2v-18.7l.5-8.2v14.8l.5 2v-7.7l.5-1.3v10.7l.5 2.9v-13.5l.5 2v7l.5 2.7v-9.8l.5-4.6v15.6l.5-6v-12l.5 1v16.7l.5-5.1v-7.3l.5-1.1v9.6l.5-6.4v-4.2l.5 0v8l.5 1v-7.2l.5-0.1v5.4l.5 5.3v-7.8l.5-1.8v1.7l.5 6v-3.9l.5 3.5v3.2l.5-0.7v-5.5l.5-1.4v7.5l.5 0v-6.8l.5 2.2v3l.5 0.6v-4.5l.5-0.9v6.4l.5 0v-9l.5 5.1v3.6l.5-3.1v-5.3l.5-1.6v8.1l.5 3.4v-6.6l.5 3.4v2.7l.5 0.4v-3.3l.5-1.4v4.3l.5 1.2v-3l.5-0.9v4.7l.5-1.6v-4.8l.5 0.5v6.9l.5-2.5v-6.3l.5 2.3v4.6l.5-0.1v-3.2l.5-0.8v2.6l.5-0.2v-3l.5 2.7v8.8l.5-7.9v-2.1l.5 0v3l.5 0.5v-4.1l.5 3.4v2.9l.5-2.9v-2.6l.5 2.3v2.7l.5-1.4v-3.3l.5 0.3v5.7l.5-1.7v-2.6l.5-3.5v4.4l.5-0.4v-3l.5-1.3v4.1l.5-2.8v-0.9l.5-0.6v0.7l.5 9.9v-10.6l.5 0.9v4l.5 2.7v-4l.5-0.6v3.2l.5 0.3v-4.3l.5 0v2.6l.5-1.9v-0.3l.5-2.8v5.1l.5-0.6v-4.5l.5 1.8v4.8l.5 0.3v-3.9l.5-1.5v5.6l.5 2.2v-2.7l.5-3.1v12.5l.5-8v-2.5l.5-0.4v3.6l.5-2.5v-3.5l.5-5.8v6l.5 0.8v-5.1l.5-3.4v8.6l.5-4.3v-5.1l.5 4.8v5.6l.5 6.8v-11.7l.5-0.6v13.1l.5-7.9v-9.1l.5 0.5v10.7l.5 4.9v-21.9l.5 5.5v8.1l.5 6.7v-21.2l.5 0.3v13.1l.5 8.8v-11.6l.5-0.2v13.9l.5-1.8v-7.9l.5-7v12.6l.5 4.1v-12l.5 8.1v3.9l.5-2.5v-18.1l.5 9v11.6l.5 0v-8.2l.5-3.9v9.4l.5-2v-10.6l.5-0.2v11l.5 4.5v-9.4l.5-3.6v13l.5 0v-7.2l.5-2.6v9.8l.5 0v-6.5l.5-2v8.5l.5-10.1v-11.7l.5 8.8v6.7l.5 5.6v-12.8l.5-2.5v9.2l.5 5.1v-10.8l.5-8.3v11.6l.5-6.6v-9l.5 9.7v7.5l.5-0.4v-15.8l.5 11.6v12.2l.5-9.2v-7l.5-0.6v14.7l.5-4.5v-17.4l.5 4.8v7.8l.5-3.8v-9.7l.5 4.5v6l.5 8.2v-18.7l.5 5.9v5.3l.5-3.6v-3.3l.5-3v15.2l.5 0.1v-12.3l.5 4.6v10.7l.5-3.7v-4.2l.5 0.9v10.9l.5-0.6v-13.9l.5-9v16l.5 6.9v-11.7l.5-6.7v10l.5 8.6v-18.6l.5 0.2v20.9l.5 1.5v-17.2l.5 4v14.5l.5-3.4v-8.7l.5-1.7v12.6l.5-5.8v-14l.5 5.1v15.4l.5 3.7v-18.8l.5-12.4v17l.5 14.2v-13.6l.5-3.4v20.4l.5-11.9v-22.5l.5 12.1v23.7l.5-4.8v-12.7l.5 1.6v14.7l.5-4.2v-17l.5-32.1v55l.5-6.3v-27.8l.5 0.5v24.1l.5-3.7v-22.7l.5 0.9v8.9l.5 4.6v-19.2l.5 0.2v18.1l.5-1.2v-16.8l.5 0.2v27l.5 1.9v-28.8l.5 18.1v14.6l.5-13.5v-15.2l.5 7.4v14.4l.5-9.7v-15.4l.5 7.1v15.9l.5 13.2v-36l.5 14.5v20.1l.5 5.7v-26.3l.5-4v25.2l.5 6.2v-21.9l.5-6.9v18.9l.5 7.9v-25.5l.5 1.4v22.3l.5-3.4v-15.4l.5-14.6v9.7l.5 3.3v-12.8l.5 15.7v19.5l.5-15.5v-13.6l.5-8.4v31.2l.5-6.5v-24.6l.5 0.5v14.4l.5 13.3v-26.3l.5 11.2v22.9l.5 6.8v-28l.5-2.2v16l.5-3.1v-21.5l.5 8.1v15l.5 13.1v-21.2l.5-9.2v9.6l.5 21.4v-20.2l.5 10.6v12.5l.5 2.3v-30.9l.5 15.2v22.1l.5-19.4v-13.6l.5 2.9v17.4l.5 9.1v-36.6l.5 10.5v15.1l.5-0.7v-18.8l.5-5.4v23.3l.5 2.5v-18.2l.5 1.5v25.5l.5 7.5v-36.1l.5-0.1v23l.5 13.2v-14.9l.5 8.5v6.4l.5 0v-29.4l.5-11.8v20l.5 13v-29.7l.5 8.8v17.9l.5-3.6v-17.3l.5-6.7v27l.5-2.4v-16.8l.5-9.2v32.1l.5-5.4v-9.6l.5-3.2v26.3l.5-6.5v-25.1l.5 2.3v22.1l.5-8.4v-11.2l.5-13.3v23.1l.5 17v-13.8l.5-7.5v21.2l.5-2.1v-26.3l.5-5.6v17.7l.5-0.9v-7.1l.5-10.9v18.1l.5 6.1v-24.1l.5 1.8v19.1l.5 0.3v-18.2l.5-4.3v25.2l.5 11v-35.8l.5 18.3v15.6l.5 1.8v-22.9l.5 7.2v15.6l.5-0.4v-11.3l.5-8.2v18l.5-3.7v-28.8l.5 18.2v14.1l.5-3.5v-20.9l.5-2v31l.5-8.7v-22.3l.5-7.5v18.1l.5 8.9v-15l.5-5.1v11.5l.5 4.5v-23.3l.5 18v15.5l.5 2.1v-17l.5 0.1v17l.5 0.2v-22.8l.5 14.4v8.6l.5-1.9v-7.8l.5-0.3v9.9l.5 0.7v-9.4l.5-4.2v12.7l.5-3.2v-4.9l.5-5.3v3.8l.5 9.9v-8.2l.5-15.4v10.4l.5 7.2v-13.4l.5 5.4v8l.5-5.9v-6l.5 10.1v6.2l.5 3.6v-7l.5-15.8v24.6l.5-14.1v-12.5l.5 3.3v11.2l.5-0.3v-14.2l.5 2.6v16.4l.5-6.9v-12.1l.5 0v5.4l.5 9.2v-14.6l.5 0v8.7l.5 4.4v-7.4l.5 1.7v7.6l.5 9.8v-22.5l.5 1.4v19.7l.5-3.6v-16l.5-1v19.6l.5-6.6v-14.1l.5 7v5.2l.5-3.7v-6.4l.5 3v16l.5-2.3v-18.4l.5 0.2v4.9l.5 7.4v-6.9l.5-4.2v9.8l.5-1.1v-3.6l.5-3.9v7.5l.5 7.6v-4.8l.5-7v10.6l.5-5v-4.5l.5-2.4v5.3l.5 2.4v-3.2l.5 1.1v2.6l.5 3.9v-6.5l.5-3.2v3.7l.5 0.2v-4l.5 0.8v10.3l.5 0.2v-10.7l.5 2.4v5.3l.5-3.5v-4.5l.5 0.8v5.7l.5-0.4v-2.1l.5 1.3v5.4l.5-2.2v-2.3l.5-0.4v3.3l.5 0v-9.9l.5 5.1v2.6l.5 1.2v-7.9l.5-0.3v4.2l.5 5v-7.7l.5 1.7v4.1l.5-1.1v-6.8l.5 1.3v5.1l.5 0.3v-7.6l.5 0.7v6.4l.5-4.6v-2.9l.5 0v3.8l.5-0.5v-3.3l.5 2.3v10l.5-6.6v-5.7l.5 2.5v2.9l.5 1.9v-7.3l.5 3.6v6.4l.5-1.3v-3.4l.5-2.6v2.7l.5 2v-3.6l.5-2.8v7.1l.5-0.6v-6.6l.5-22.6v32.5l.5 1.6v-7.7l.5 2v6.9l.5-2.4v-4.1l.5-2.1v5.6l.5 1.2v-8l.5 4.8v5l.5-1.1v-11.3l.5 6.6v3.1l.5 2.2v-4.7l.5-4.6v5.6l.5-1.7v-1.8l.5-1.6v7.7l.5-1.3v-4l.5-1.9v7.6l.5-2v-10l.5 4v7.8l.5 0.9v-4.4l.5 0.6v4.3l.5 0v-5.7l.5-1.5v7.2l.5 0.2v-9.4l.5 7v2.6l.5-1.6v-5.1l.5-1v4.3l.5 4.5v-7.5l.5 2.9v4.9l.5 0.4v-3l.5-5.5v8.9l.5-0.1v-11.2l.5 0.4v11.8l.5 0.3v-0.3l.5-0.4v1l.5 0.4v-0.6l.5-15.7v19.5l.5-2.8v-12.5l.5-4.3v15.2l.5-12.9v-12l.5 5.9v20.4l.5 0.3v-18.3l.5-13.8v30.8l.5-6.9v-15.3l.5 0v13.1l.5 9.8v-22.2l.5 12.9v8.1l.5-8.3v-17.6l.5-4.4v20.1l.5-2v-6.4l.5-2.7v18.6l.5-11v-12.5l.5-7.3v15.6l.5 11.7v-22l.5 4.7v18.2l.5-6.1v-16.8l.5-2v34.7l.5-16.5v-10.4l.5-2.7v14.5l.5-2.2v-10.1l.5-4.8v18.1l.5 8.9v-21.8l.5-5.8v14.5l.5-7.9v-8.5l.5 20.5v8.1l.5 0.8v-15.6l.5 4.7v12.1l.5 0v-27.9l.5 8v19.8l.5-5v-14.9l.5-4.4v15.6l.5 4.3v-23.7l.5 6.4v11.8l.5 0.8v-15.2l.5 6.7v8.8l.5 6.4v-25.1l.5 1.9v13.8l.5 4.4v-13l.5-10.1v15.7l.5-2.1v-6.5l.5-0.6v21.5l.5-15.5v-8.3l.5 0.8v24l.5-0.1v-19.4l.5 7.8v11.3l.5-4.1v-14.6l.5-2.3v9.6l.5 7v-25.6l.5 14.9v11.2l.5-9.8v-14.4l.5-0.1v15.1l.5 9.9v-18.2l.5-12.9v9.3l.5 3.2v-13.1l.5 7.9v10.5l.5-7.7v-11.8l.5 1.4v20.1l.5-15.4v-5.5l.5 10.1v8.4l.5-7.3v-13.4l.5 0v29.2l.5-9v-19.9l.5 1v14.4l.5 1.3v-17l.5 1.2v18.1l.5 5.6v-23.5l.5 8.6v18.3l.5 1v-19.6l.5-4.5v20.3l.5-12.8v-6.5l.5 11.1v8.7l.5 3.2v-21.4l.5-9.1v4.1l.5 15.5v-18.3l.5 0.2v11.3l.5 11.3v-20.8l.5-1.8v9.2l.5 6.6v-14.2l.5 0.8v20.4l.5-0.1v-12.7l.5-10.2v13.8l.5 8.1v-17.1l.5-4.8v29.1l.5-4.4v-22.4l.5 19.9v7.9l.5 0.7v-16.9l.5-2.6v19.5l.5 0v-9l.5-8v11.9l.5-0.7v-21.8l.5-3.2v15.4l.5 4.6v-11.7l.5 9.2v8.9l.5 4.4v-9.4l.5 3.1v6.3l.5 0v-4.7l.5-12.9v17.6l.5-15.5v-14.4l.5 1.4v17.5l.5 7.3v-15.3l.5-6v16.7l.5-3v-11.2l.5 0v6.3l.5 3.5v-10.7l.5 1.8v17.5l.5-2.3v-22.1l.5-2.3v17.6l.5-4.9v-12.7l.5 0v15.1l.5-5.3v-9.8l.5-4.3v28.9l.5 4.8v-16.8l.5-1.1v4.3l.5 14v-20l.5-9v28.5l.5 0.9v-10.8l.5-11.7v17.7l.5-3.9v-10.2l.5 1.9v15.8l.5-0.1v-11.9l.5-0.8v6.7l.5 3.4v-15.4l.5 5v13.1l.5-1.9v-13.3l.5 3v11.7l.5-6.3v-8.4l.5-18.1v29.2l.5 3v-8.5l.5-5.1v10l.5 0.7v-10.8l.5-0.9v11.4l.5 2.4v-10.5l.5-12.1v15.4l.5 6.5v-23.4l.5-4.3v16.8l.5 5.1v-11l.5-0.7v14.8l.5-6.3v-20.8l.5 6.1v14.7l.5-0.3v-6.9l.5-9.9v19.9l.5-10.5v-8.7l.5 7.6v12.4l.5 2.9v-18.1l.5-13v15.5l.5-1.9v-6.2l.5 6v12.2l.5 4.3v-13l.5-21.5v30.2l.5 2.2v-33.9l.5 24.7v2.6l.5-1.1v-27.1l.5 0.1v33.6l.5-11.5v-17.9l.5 10.8v13.4l.5-12.9v-13.1l.5 5v18.2l.5 5v-14.8l.5-11.5v8.6l.5 20.5v-23l.5-1.4v15l.5 10.9v-24.8l.5 2.1v18.7l.5 3.8v-16.6l.5 2v10.2l.5 3.2v-17.4l.5-14.2v15.8l.5 16v-19.4l.5-12.4v32.9l.5-9.3v-15.8l.5 0.7v21.1l.5 2.1v-11l.5-1.3v12.1l.5-0.1v-15.4l.5-4.8v20.1l.5-0.2v-17.5l.5 11v6.5l.5-0.2v-9.8l.5-9.9v14.6l.5 4.8v-5.5l.5 0.9v4.5l.5-0.1v-26l.5 4.7v21.1l.5-15.4v-5.5l.5-7.3v13.4l.5 4v-13.5l.5 3.7v14.5l.5 3.4v-17.3l.5 10.8v5.9l.5 0.3v-8.7l.5-10v13.6l.5 3.9v-9.3l.5-10.4v8.9l.5 3.8v-16.1l.5 4.3v7.8l.5-5v-5.9l.5 1.1v7.6l.5-6.9v-1.8l.5 0.1v6.1l.5-3.9v-1.8l.5 0.2v2.7l.5-1.5v-1l.5 0.5v28.4l.5-26.5v-2.2l.5-0.3v3.7l.5-1.3v-2.6l.5-1.3v3l.5-1.2v-3.2l.5-1.2v3.7l.5-3.9v-0.7l.5-1v9.7l.5-3v-4l.5-1.8v7.6l.5 2v-10l.5 2.1v5l.5-2.4v-5.7l.5 1.2v9.4l.5-7.3v-7.7l.5-1.4v8.6l.5 0.7v-8l.5-0.3v8.1l.5 5.3v-13.4l.5-0.5v19.6l.5-6.9v-8.6l.5-1.3v7l.5-5.2v-4.9l.5 4.7v8.1l.5 3.8v-14.3l.5 5v5.8l.5 0.7v-12.6l.5 0.9v8.4l.5 3.1v-7.2l.5-2.6v4.2l.5-0.1v-4.8l.5 0.3v4.1l.5 2.7v-5l.5 2.3v4.1l.5 3.1v-5.6l.5 3v2.3l.5 1.8v-6.1l.5 3.8v1.8l.5-4.7v-2.3l.5-4.8v9.3l.5 2.8v-5.4l.5-2.9v26.4l.5-25.5v-2.4l.5-2.3v4.8l.5 0.9v-3l.5-1.3v2.1l.5 0.7v-3.3l.5 3.7v3.4l.5-2.1v-3.7l.5 2.5v1.2l.5 2v-8.4l.5 5.9v3.7l.5-2.6v-4.5l.5-6.8v10.2l.5-1.5v-4l.5 3.3v8.1l.5-5.3v-5.6l.5 0.1v9.5l.5-2.1v-8.9l.5 0.3v9.8l.5-0.4v-12.4l.5 0.3v7.7l.5 3.6v-13.1l.5 0.7v14.1l.5-3.1v-8.7l.5-6.1v5.8l.5 3.1v-8.5l.5-2.4v9.5l.5-3.9v-5.5l.5-0.1v12.5l.5 0.7v-11.9l.5-1.3v10.2l.5 4v-14.2l.5 0v40.5l.5-29.9v-10.6l.5 0v11.7l.5 5.9v-8.8l.5-9.1v18.3l.5-1.7v-11.5l.5 1.2v8.4l.5-1.2v-12.9l.5-4.2v16.5l.5-3v-6.7l.5-6.7v7l.5 5v-16.2l.5-18.5v29.9l.5-4.1v-5.3l.5-2.8v5.4l.5-7.7v-4.9l.5-1.1v5.7l.5-1.6v-5.1l.5-3.1v6.6l.5-5.1v-2.7l.5-0.7v12.6l.5-10.5v-2.6l.5 0v3.7l.5 2.5v-3.5l.5-1.9v3.5l.5-0.7v-3.5l.5 0v4.2l.5 3.7v-7.6l.5 5v2.7l.5 4.7v-12.5l.5 3.5v5.5l.5 0.6v-3.3l.5 3.6v20.9l.5-21v-6.1l.5 4.8v5l.5-2.4v-1.9l.5-0.2v4.5l.5-0.8v-3.6l.5-2.1v4.1l.5-2.2v-1.8l.5-1.2v2.3l.5-0.7v-2l.5 0.8v35.5l.5-29.3v-6.1l.5 2v5.7l.5 5.8v-10.8l.5-3.3v7.8l.5 12.6v-7.9l.5 2.3v7.2l.5 2.6v-12.8l.5 0.4v14.1l.5 2.6v-4.2l.5 5v1.8l.5 1.8v-8.7l.5-0.2v9.9l.5-3.3v-11.5l.5 3.5v14.7l.5 0.1v-8l.5-19.5v24.5l.5-3.4v-5.8l.5 1.1v8.8l.5 2.7v-16.6l.5-8.6v23.2l.5-7.4v-18.1l.5-0.1v21l.5-6v-18.2l.5-0.1v18.7l.5-2.4v-16.2l.5 5.9v8.1l.5 6v-17.4l.5 6.2v19.1l.5 0.5v-17.1l.5-12.7v24.5l.5 3.6v-25.6l.5 10.4v20.1l.5-4.5v-9.4l.5-17.3v15.7l.5-0.3v-4.4l.5-7.8v9.4l.5 8.9v-19.2l.5 9.3v7.6l.5-4.4v-13.5l.5 1.3v25.6l.5 3.6v-10.8l.5 3.4v7.4l.5-1.3v-10.6l.5 1.7v10.5l.5 0v-15.2l.5-0.2v15.6l.5-4.5v-13.1l.5 12.6v5.2l.5-1v-12.4l.5-8.6v22.2l.5-4v-15l.5 4.1v10.6l.5-0.9v-25.4l.5-11.9v42.4l.5 0.8v-13.6l.5-18.7v21.9l.5-7.7v-8.2l.5-1.9v19.8l.5 1v-11.3l.5-9.7v9.4l.5-1.7v-13.2l.5-0.1v17.9l.5-6.7v-11.2l.5 5.5v13.1l.5 4.8v-23.6l.5 17.6v18.1l.5-9.3v-13.9l.5 6.6v35.9l.5-18.9v-25.9l.5 12.6v13.5l.5-7.4v-10.9l.5 0.6v12.9l.5 4.5v-21.8l.5-8.2v25.3l.5 5.7v-6.9l.5-6.6v11.3l.5 2.2v-10l.5-11.9v16.1l.5-8v-9.3l.5-9.5v20.9l.5 0.8v-27.5l.5 9.3v14.3l.5-12.7v-11.1l.5-0.6v13.3l.5 16.9v-20l.5-1.9v15.2l.5 8.8v-23.7l.5-8.3v33.1l.5-3.3v-13.7l.5-0.7v10.1l.5 2.6v-15.7l.5 12.1v6.3l.5-3.8v-9.1l.5 1.1v11.6l.5-11.8v-7l.5 1.3v11.2l.5-0.5v-25.5l.5 0v9.8l.5 11v-20.8l.5 0v16l.5 3v-7.8l.5-11.2v45.6l.5-15.8v-20.3l.5-5.6v5.9l.5 11.6v-21.3l.5 0v23.3l.5 9v-32.3l.5 3.6v15.5l.5 11v-27.4l.5 1v39.8l.5-32v-7.7l.5 5.5v13.3l.5-4.8v-8.5l.5-6.6v18.3l.5 9.8v-19.1l.5-18.2v27.6l.5 7v-20.6l.5-2.8v24.7l.5-14.8v-14.4l.5 0v8l.5 12.2v-13.7l.5 1.1v16.4l.5-3.7v-15.5l.5-1.4v11.8l.5 5.3v-20.4l.5 4.7v17.6l.5-6v-16.3l.5 4.2v18.1l.5-3.5v-17.3l.5 1.2v17.2l.5-0.5v-15.9l.5 0.4v16.3l.5 0.4v-20.5l.5 0.5v26l.5-2.2v-15l.5-4.1v11.7l.5 15v-15l.5 1v14l.5-2.5v-13.2l.5 5.8v9.2l.5-2.5v-9.6l.5-13.4v18.1l.5 8.1v-18.4l.5 8.4v9.5l.5 0.5v-20.4l.5 13v7.4l.5-8.7v-17.5l.5 7.8v9.7l.5 5v-18.4l.5-1v42.3l.5-29v-12.1l.5 1.3v13.3l.5-2.1v-22.2l.5 0v5.9l.5 5v-10.9l.5 5.9v13.3l.5-13.9v-5.2l.5 4.3v13.2l.5 2.3v-10.1l.5 4.6v10.5l.5-8.8v-12.6l.5 0.1v16.3l.5-9.9v-8.7l.5 1.5v7.1l.5-7.6v-1.6l.5 0.1v11.1l.5 1.2v-11l.5 0.7v3.9l.5 4v-8.1l.5-1.6v3.9l.5 0.6v-4.5l.5 0.5v6.2l.5-1.5v-5.2l.5 2.4v5.3l.5 0v-1.7l.5-3.2v6.9l.5 3.8v-9.8l.5 7.8v3.7l.5-0.7v-5.8l.5 2v3.6l.5 0.9v-4.4l.5 2.2v2.2l.5 0v-6.5l.5-0.5v5.2l.5 0.8v-1.8l.5-7.6v5.8l.5 1.8v-5.5l.5 1.6v6.7l.5 0v-13.9l.5 4v9.4l.5-4.7v-7.7l.5 4.7v7.5l.5-3.4v-2.9l.5-1.2v5.5l.5-1.2v-10.3l.5 5v5.4l.5-2v-3.7l.5-2.1v5.3l.5 1.7v-5.3l.5-0.4v6.2l.5-2.2v-4l.5-2.2v8.8l.5-4.9v-4.2l.5 0.4v4.2l.5-0.5v-6.5l.5 0v4.9l.5 3.7v-5.7l.5 0.2v7.2l.5-0.7v-4l.5-1.3v4l.5 1.6v-2.9l.5-1.4v4.4l.5 0v-2.5l.5-6.5v13.3l.5-3.8v-6.1l.5-21.6v24.6l.5 4.2v-10.4l.5-3.7v7.3l.5 2.8v-7.3l.5 3.4v2.7l.5-0.4v-4.5l.5-12v12.3l.5 2.9v-6.7l.5-7.8v10l.5-6.9v-6.4l.5 1.6v4.1l.5-1v-2.3l.5-4.9v10.9l.5-4.3v-7.7l.5-2v10.2l.5-1.5v-4.5l.5-2.3v11.9l.5 2.7v-8l.5-2.6v3.2l.5 8v-10.3l.5 3.7v9.1l.5 0v-8.5l.5-10.2v11.8l.5 7v-11l.5 5.1v2.4l.5 1.3v-10.9l.5 5.9v7.4l.5 0v-6.5l.5-1.7v4.5l.5 3.8v-11.3l.5 7.3v4l.5-6.1v-6l.5 5.1v5.4l.5-3.9v-4.6l.5 2.5v5.1l.5-0.7v-9.7l.5 0.9v6.8l.5 2.7v-10l.5 0.7v11.7l.5-4.6v-14.6l.5 11v36.8l.5-29.2v-8.7l.5-10.1v20.1l.5 0.1v-6.6l.5-8v8l.5-6.3v-4.9l.5 5v11.4l.5 0.2v-11.7l.5 4v9.6l.5-2.3v-13.1l.5 8.2v9.9l.5-3.1v-6.8l.5-4v9.4l.5-2.5v-8.3l.5 3.9v50.8l.5-45.4v-6.9l.5 1.9v5.9l.5 1.8v-6.7l.5 1.5v4.8l.5 0.2v-3.6l.5 1.1v3.9l.5 0.2v-4.1l.5-0.9v5.4l.5-0.5v-5.2l.5 0v2.9l.5-1.6v-1.3l.5 0v4.3l.5 0.6v-4.9l.5 4v2.7l.5-2.9v-2.5l.5-0.6v3.6l.5 1.7v-5l.5 2.5v4.4l.5-0.8v-4.1l.5-0.5v4.6l.5-1.4v-3.6l.5-0.7v4.2l.5 0.2v-3.5l.5-1v11.5l.5 0v-8.2l.5 0.8v3.6l.5-2.8v-5.9l.5 0.5v5.2l.5 6.9v-9.7l.5-1.6v5.7l.5 2.6v-2.8l.5-3v5.2l.5 1.6v-7.1l.5 3.6v5.1l.5-5v-3.7l.5 0.1v5.8l.5-2.8v-3.4l.5-1.8v9.5l.5-4.5v-4.8l.5 0.4v37.3l.5-31.1v-6l.5 3.8v7.1l.5 6.1v-14.7l.5-1.6v9.7l.5 4.3v-8.9l.5-3.5v10.7l.5-2.4v-8.6l.5 6v8.5l.5-4.9v-4.6l.5 0.6v8.8l.5 3.7v-5.4l.5-7.1v11.7l.5-8.4v-6.1l.5-1.1v5.8l.5 1.9v-10.1l.5-0.3v9.8l.5 8.6v-15.2l.5 4v9.5l.5-2.8v-7.6l.5-2.8v9.3l.5 4.9v-5.7l.5-4.4v11.7l.5-5.7v-3.6l.5-4.3v12.3l.5 1.3v-11.8l.5 0.6v8.6l.5-0.3v-5.4l.5-5.5v6l.5 6.7v-11.2l.5-1.1v7.5l.5 1.8v-12.9l.5 3.7v6.8l.5 11.7v-17.8l.5 8v6.8l.5-7.9v-6.7l.5 3.9v15.1l.5-2.8v-13.2l.5 0.1v10l.5 11.2v-13.8l.5 0.2v22.7l.5-1.4v-8.1l.5-9v20l.5 3.8v-20.7l.5-8.1v22l.5 0.9v-12.1l.5 5v13.7l.5-1.9v-11.1l.5-35.2v35.5l.5-2.6v-14.1l.5 3.3v18.4l.5-0.4v-15.2l.5 0.3v16.4l.5-2.2v-20.4l.5 2.3v20.6l.5-1.6v-19.5l.5 6.5v9.2l.5-0.7v-13.8l.5-2.7v26.6l.5-5.9v-20.7l.5 6.6v14.9l.5 4.7v-19.6l.5 0.3v21.9l.5 2.9v-24l.5 0.8v17.8l.5-1.7v-15.4l.5 1.3v8.8l.5-5.3v-12.1l.5 4.8v14.8l.5-7.5v-13.5l.5 5.8v23.7l.5-10v-19.4l.5 2.7v15.6l.5 3.3v-13.3l.5 10.3v8.3l.5 2.6v-22.8l.5 3.7v10l.5-4.1v-11.5l.5 5.4v21.9l.5-0.2v-21.9l.5-5.9v18l.5-6.5v-11.3l.5 2.6v8.4l.5 12.8v-17.3l.5 6.8v5.5l.5 5.9v-15.7l.5 6v10.1l.5-1.4v-12.5l.5 1.6v15.3l.5-1.7v-27.2l.5-1.4v20.8l.5 0.1v-20.9l.5 1.9v16.4l.5-1.8v-7.2l.5 3.8v14.4l.5-10.2v-18.2l.5 2.1v18.2l.5-8.3v-10.5l.5 4.9v19.8l.5 3v-16.8l.5-11.1v32.6l.5-12.1v-7.9l.5-1.6v7.9l.5-4.3v-15.5l.5 0.1v26.8l.5-9.3v-10.9l.5 5.6v10l.5 3.9v-21.7l.5 4.6v30.4l.5-27v-5.7l.5-26.3v39.2l.5 12.2v-22.9l.5-4.9v14.9l.5-5v-13.4l.5 3.5v15l.5 13.1v-22.3l.5-4.5v10.3l.5-2.3v-4.5l.5-29.4v43.5l.5 7.6v-22.2l.5-1.2v17.5l.5 1.1v-14.4l.5-4v12.4l.5-3.2v-14.7l.5 12.1v4.3l.5 12.7v-24.7l.5 0.4v16.1l.5 7.6v-23.4l.5-5.1v24.5l.5-1.3v-15.5l.5 6v15.1l.5 2.5v-22.6l.5-1.7v29.6l.5-14.3v-17.6l.5 6.6v17.7l.5-9.7v-10l.5-1.1v10.9l.5 0.6v-17.7l.5 0.8v16.1l.5-1.9v-14l.5 3.2v6.9l.5 0.4v-9.4l.5 7.4v12.7l.5-6.1v-12.1l.5 2.6v24.2l.5 3.3v-17.3l.5-9.8v23.5l.5 2.5v-19.3l.5-9.9v22.2l.5 10.4v-28l.5 11.3v8.5l.5 8.2v-32.6l.5 5.6v15l.5-1.8v-7.8l.5-11.7v24.5l.5-3.5v-10.9l.5-3.9v7l.5-0.1v-10.7l.5-3.6v9.2l.5-11.5v-1.2l.5 1.5v27.1l.5-18.9v-11.5l.5-1.1v8.1l.5 1.8v-10.5l.5-1.3v21l.5-6.9v-14.1l.5-1.5v10.5l.5-1.4v-9.6l.5-0.5v3.6l.5 15.2v-18.9l.5 0v3.5l.5-0.9v-2.6l.5 0v8.8l.5 2.8v-11.6l.5-13.4v18l.5-4.6v0l.5 0.9v8.8l.5 9.4v-19.1l.5 0v7.7l.5 4.5v-12.2l.5 0v10.6l.5 9.3v-12.2l.5-7.7v15.4l.5 0.6v-7.6l.5-1.3v18.6l.5-9.9v-15.8l.5 6.7v9.7l.5 10.6v-19.5l.5 0.9v10.6l.5 8v-19.5l.5-4.4v13.6l.5-2.1v-13.5l.5 1v16.8l.5-5v-11l.5-2.9v4.4l.5 12v-15.6l.5-0.8v9l.5 10.8v-19.8l.5 0v5.9l.5 4.8v-10.7l.5 0v10.8l.5 1.3v-12.1l.5 3.6v10l.5-5.1v-8.5l.5 0v4.4l.5 9.2v-13.6l.5 2.2v18.4l.5-7.8v-12.7l.5 1.4v17.3l.5-1.1v-7l.5-5.1v10.7l.5 9v-18.2l.5 1.8v15.3l.5 1.6v-10.8l.5-4.9v15.3l.5-17.7v-10.3l.5-2.1v24.1l.5-7.2v-15.6l.5 3.3v20.1l.5 0v-13.3l.5-0.4v13.8l.5-8.4v-3.9l.5-5.3v19.1l.5-6.4v-6.2l.5-14.9v29.3l.5-11.6v-9.3l.5-6.6v27.5l.5-12.8v-15.1l.5 6.5v14.4l.5 6.7v-30.5l.5-0.2v19.8l.5 1.7v-21.2l.5-5.1v26.8l.5-5.7v-8l.5-4.8v26.1l.5-2v-17.8l.5 6.9v11.6l.5-5.6v-19l.5 2.8v15.7l.5 0.3v-27.8l.5-5.5v29.1l.5-0.6v-15.2l.5 2.4v11l.5 0.6v-16l.5-3.5v7.5l.5 3.1v-16.6l.5 7.2v10l.5 3.3v-13.6l.5-2.2v13.8l.5 1.1v-21.1l.5 12v17.7l.5-4.3v-13.1l.5-0.2v6.5l.5 5.7v-4.8l.5-8.9v14.5l.5 0.5v-9.1l.5 2.9v11l.5 0v-6.7l.5-14.9v15.4l.5 0.3v-12.7l.5-14.1v30.8l.5-2.4v-12.3l.5-3.3v13.5l.5-9.6v-5.3l.5 0.9v15.8l.5-5.2v-14.4l.5-6v16.1l.5 1.3v-5.7l.5-5.6v11.2l.5 8.2v-19.7l.5 2.5v12.8l.5-8.8v-10.6l.5 3.2v15.3l.5 4.7v-24.6l.5 1.3v13.4l.5-0.6v-13.3l.5 6.7v15.7l.5-1v-20.9l.5 14.5v4.1l.5-3.6v-16l.5-0.2v18.1l.5 1.6v-12.1l.5-7.5v17.7l.5 0.9v-15.2l.5 5.6v14.5l.5-5.5v-16.2l.5 8.5v11.8l.5-0.7v-7.6l.5-7.3v12.9l.5 5.5v-7.1l.5-0.2v10.9l.5-0.8v-8.5l.5-12.8v21.1l.5-3.2v-16.3l.5-10v17.7l.5 8.7v-13.2l.5-0.2v7.7l.5-0.9v-4.9l.5 2.2v4.6l.5-2.3v-4.7l.5-3.1v5.2l.5-2.8v-1.9l.5 0.2v4l.5 0.7v-4.3l.5 1.1v13.2l.5-10.5v-3.6l.5 0.5v2.3l.5-0.1v-3.5l.5-0.5v5.9l.5-2.3v-3.8l.5 3v2.8l.5 0.2v-2.7l.5 2.2v1.3l.5 0v-1l.5-1.2v1.6l.5 0.4v-2.3l.5 0.4v1.7l.5 0v-0.5l.5 0.9v0l.5 0v-1.5l.5 0.1v1.4l.5 0v-3.4l.5-1.1v3.2l.5-0.8v-3.6l.5 0.3v2.5l.5 0.3v-2.1l.5-0.7v2.6l.5 1.2v-2.3l.5-2.5v3.2l.5 1.8v-2.9l.5-2.8v6.7l.5 3.4v-5.7l.5 1.8v3.5l.5 3.3v-11.5l.5-11.6v20.4l.5 4.1v-12l.5 12.4v3.4l.5 0.5v-12.8l.5-5v11.2l.5-6v-8.5l.5 7.6v16.2l.5 0.5v-10.9l.5-8.2v19.7l.5 2v-6.5l.5 4.6v1.9l.5 0v-29.5l.5 28.1v1.4l.5 0v-13.9l.5 0.5v13.3l.5 0.1v-22.6l.5 9.1v9.4l.5 4.1v-14l.5 6.6v7.4l.5 0v-14.8l.5-4.2v18.9l.5-3.1v-26.5l.5-1.8v31.2l.5 0.3v-19.5l.5-3.5v16l.5 0.8v-17.1l.5-7.6v30.6l.5-15v-12.7l.5 5.5v16.7l.5 5.8v-7.3l.5-11.4v43.1l.5-24.4v-7l.5-6.1v8.4l.5-2.4v-20.1l.5 12.1v15.1l.5 0v-11.2l.5 2.3v8.9l.5-5.8v-7.7l.5-8.6v22.1l.5-9.1v-10.2l.5 1.3v5.4l.5 6v-16.9l.5-7.5v26.2l.5-1.5v-19.4l.5 1.4v15.2l.5 0.5v-21.6l.5 12.6v13.9l.5 1v-27.1l.5 9.3v19.3l.5-11.3v-13.3l.5-10.8v33.9l.5-19.1v-10.1l.5 0v15.2l.5-1.3v-5.6l.5-3.1v9.4l.5 1.9v-16l.5 3.2v13.6l.5-2.5v-7.1l.5 11.8v12.4l.5-9.1v-21.4l.5 2.9v10.7l.5 5.6v-15.2l.5 14.2v7.7l.5 3.1v-17.1l.5-2.4v18.5l.5 2.5v-14.3l.5-13.3v25.5l.5-1.3v-16.7l.5-1.8v13.6l.5-5.6v-17.7l.5 7.7v14.5l.5 0.5v-12.3l.5 1.4v12.6l.5 3.3v-19.4l.5-5.6v27.6l.5-0.6v-20.5l.5-9.1v21.2l.5 1v-21.1l.5 1.3v24.5l.5-2.4v-14.2l.5 2.9v13.2l.5-17.3v-6.8l.5-1.7v13l.5 4.9v-14.7l.5 5.1v11.5l.5 7.7v-19.4l.5-0.3v18l.5-4.7v-12l.5-3.7v12.8l.5 2.8v-15.8l.5 0.4v6.4l.5-0.3v-2.1l.5-0.8v4.9l.5 3.5v-7.9l.5 5.5v2.4l.5-0.4v-4.5l.5-0.3v5l.5-2.9v-4.5l.5 4.1v2.8l.5-1.7v-3.4l.5 1.9v2.5l.5-0.1v-4.7l.5-1.2v7.1l.5 2.7v-4.9l.5 1.5v3.4l.5-0.6v-7l.5 1.4v3.3l.5 5.6v-12.1l.5 0.8v4.6l.5-2.7v-3.1l.5 0v3.8l.5 2.5v-3.2l.5-1.6v5.2l.5 1v-6l.5 3v2l.5 1.2v-3l.5-2v7.8l.5-2.6v-4.5l.5-2.4v6.6l.5-5.2v-2.8l.5 1.8v7.3l.5 1.2v-3.5l.5-0.7v5.5l.5-1.7v-6.8l.5 1.7v3.9l.5-2.3v-5.4l.5-1v10.7l.5-6.9v-3.8l.5 0.7v5.2l.5-1.2v-3.3l.5-1.4v12.9l.5-8.4v-4.5l.5 0v5.9l.5 0v-1.8l.5-2.5v2.3l.5 4.8v-4.6l.5 1.2v3.1l.5-1.5v-6.9l.5 4.1v4.4l.5 4.5v-6.8l.5 2.3v2.9l.5-2.7v-5.3l.5 0.2v2.8l.5 2.3v-5.8l.5 2.1v8.3l.5-5.7v-7.1l.5 5.2v2.9l.5-3v-5.6l.5 0v3.3" fill="none" stroke="#9400d3" stroke-width="1.2" stroke-linejoin="round" clip-path="url(#c5)"/>
<path d="M213.5 94.5v-5M218.5 94.5v-3M224.5 94.5v-3M230.5 94.5v-3M236.5 94.5v-3M242.5 94.5v-3M248.5 94.5v-3M254.5 94.5v-3M260.5 94.5v-3M266.5 94.5v-3M272.5 94.5v-3M277.5 94.5v-3M283.5 94.5v-3M289.5 94.5v-3M295.5 94.5v-3M301.5 94.5v-3M307.5 94.5v-3M313.5 94.5v-3M319.5 94.5v-3M325.5 94.5v-3M331.5 94.5v-3M336.5 94.5v-3M342.5 94.5v-3M348.5 94.5v-3M354.5 94.5v-5M360.5 94.5v-3M366.5 94.5v-3M372.5 94.5v-3M378.5 94.5v-3M384.5 94.5v-3M390.5 94.5v-3M396.5 94.5v-3M401.5 94.5v-3M407.5 94.5v-3M413.5 94.5v-3M419.5 94.5v-3M425.5 94.5v-3M431.5 94.5v-3M437.5 94.5v-3M443.5 94.5v-3M449.5 94.5v-3M455.5 94.5v-3M460.5 94.5v-3M466.5 94.5v-3M472.5 94.5v-3M478.5 94.5v-3M484.5 94.5v-3M490.5 94.5v-3M496.5 94.5v-5M502.5 94.5v-3M508.5 94.5v-3M514.5 94.5v-3M520.5 94.5v-3M525.5 94.5v-3M531.5 94.5v-3M537.5 94.5v-3M543.5 94.5v-3M549.5 94.5v-3M555.5 94.5v-3M561.5 94.5v-3M567.5 94.5v-3M573.5 94.5v-3M579.5 94.5v-3M584.5 94.5v-3M590.5 94.5v-3M596.5 94.5v-3M602.5 94.5v-3M608.5 94.5v-3M614.5 94.5v-3M620.5 94.5v-3M626.5 94.5v-3M632.5 94.5v-3M638.5 94.5v-5M644.5 94.5v-3M649.5 94.5v-3M655.5 94.5v-3M661.5 94.5v-3M667.5 94.5v-3M673.5 94.5v-3M679.5 94.5v-3M685.5 94.5v-3M691.5 94.5v-3M697.5 94.5v-3M703.5 94.5v-3M708.5 94.5v-3M714.5 94.5v-3M720.5 94.5v-3M726.5 94.5v-3M732.5 94.5v-3M738.5 94.5v-3M744.5 94.5v-3M750.5 94.5v-3M756.5 94.5v-3M762.5 94.5v-3M767.5 94.5v-3M773.5 94.5v-3M779.5 94.5v-5M785.5 94.5v-3M791.5 94.5v-3M797.5 94.5v-3M803.5 94.5v-3M809.5 94.5v-3M815.5 94.5v-3M821.5 94.5v-3M827.5 94.5v-3M832.5 94.5v-3M838.5 94.5v-3M844.5 94.5v-3M850.5 94.5v-3M856.5 94.5v-3M862.5 94.5v-3M868.5 94.5v-3M874.5 94.5v-3M880.5 94.5v-3M886.5 94.5v-3M891.5 94.5v-3M897.5 94.5v-3M903.5 94.5v-3M909.5 94.5v-3M915.5 94.5v-3M921.5 94.5v-5M927.5 94.5v-3M933.5 94.5v-3M939.5 94.5v-3M945.5 94.5v-3M951.5 94.5v-3M956.5 94.5v-3M962.5 94.5v-3M968.5 94.5v-3M974.5 94.5v-3M980.5 94.5v-3M986.5 94.5v-3M992.5 94.5v-3M998.5 94.5v-3M1004.5 94.5v-3M1010.5 94.5v-3M1015.5 94.5v-3M1021.5 94.5v-3M1027.5 94.5v-3M1033.5 94.5v-3M1039.5 94.5v-3M1045.5 94.5v-3M1051.5 94.5v-3M1057.5 94.5v-3M1063.5 94.5v-5M1069.5 94.5v-3M1075.5 94.5v-3M1080.5 94.5v-3M1086.5 94.5v-3M1092.5 94.5v-3M1098.5 94.5v-3M1104.5 94.5v-3M1110.5 94.5v-3M1116.5 94.5v-3M1122.5 94.5v-3M1128.5 94.5v-3M1134.5 94.5v-3M1139.5 94.5v-3M1145.5 94.5v-3M1151.5 94.5v-3M1157.5 94.5v-3M1163.5 94.5v-3M1169.5 94.5v-3M1175.5 94.5v-3M1181.5 94.5v-3M1187.5 94.5v-3M1193.5 94.5v-3M1198.5 94.5v-3M1204.5 94.5v-5M213.5 245.5v-5M218.5 245.5v-3M224.5 245.5v-3M230.5 245.5v-3M236.5 245.5v-3M242.5 245.5v-3M248.5 245.5v-3M254.5 245.5v-3M260.5 245.5v-3M266.5 245.5v-3M272.5 245.5v-3M277.5 245.5v-3M283.5 245.5v-3M289.5 245.5v-3M295.5 245.5v-3M301.5 245.5v-3M307.5 245.5v-3M313.5 245.5v-3M319.5 245.5v-3M325.5 245.5v-3M331.5 245.5v-3M336.5 245.5v-3M342.5 245.5v-3M348.5 245.5v-3M354.5 245.5v-5M360.5 245.5v-3M366.5 245.5v-3M372.5 245.5v-3M378.5 245.5v-3M384.5 245.5v-3M390.5 245.5v-3M396.5 245.5v-3M401.5 245.5v-3M407.5 245.5v-3M413.5 245.5v-3M419.5 245.5v-3M425.5 245.5v-3M431.5 245.5v-3M437.5 245.5v-3M443.5 245.5v-3M449.5 245.5v-3M455.5 245.5v-3M460.5 245.5v-3M466.5 245.5v-3M472.5 245.5v-3M478.5 245.5v-3M484.5 245.5v-3M490.5 245.5v-3M496.5 245.5v-5M502.5 245.5v-3M508.5 245.5v-3M514.5 245.5v-3M520.5 245.5v-3M525.5 245.5v-3M531.5 245.5v-3M537.5 245.5v-3M543.5 245.5v-3M549.5 245.5v-3M555.5 245.5v-3M561.5 245.5v-3M567.5 245.5v-3M573.5 245.5v-3M579.5 245.5v-3M584.5 245.5v-3M590.5 245.5v-3M596.5 245.5v-3M602.5 245.5v-3M608.5 245.5v-3M614.5 245.5v-3M620.5 245.5v-3M626.5 245.5v-3M632.5 245.5v-3M638.5 245.5v-5M644.5 245.5v-3M649.5 245.5v-3M655.5 245.5v-3M661.5 245.5v-3M667.5 245.5v-3M673.5 245.5v-3M679.5 245.5v-3M685.5 245.5v-3M691.5 245.5v-3M697.5 245.5v-3M703.5 245.5v-3M708.5 245.5v-3M714.5 245.5v-3M720.5 245.5v-3M726.5 245.5v-3M732.5 245.5v-3M738.5 245.5v-3M744.5 245.5v-3M750.5 245.5v-3M756.5 245.5v-3M762.5 245.5v-3M767.5 245.5v-3M773.5 245.5v-3M779.5 245.5v-5M785.5 245.5v-3M791.5 245.5v-3M797.5 245.5v-3M803.5 245.5v-3M809.5 245.5v-3M815.5 245.5v-3M821.5 245.5v-3M827.5 245.5v-3M832.5 245.5v-3M838.5 245.5v-3M844.5 245.5v-3M850.5 245.5v-3M856.5 245.5v-3M862.5 245.5v-3M868.5 245.5v-3M874.5 245.5v-3M880.5 245.5v-3M886.5 245.5v-3M891.5 245.5v-3M897.5 245.5v-3M903.5 245.5v-3M909.5 245.5v-3M915.5 245.5v-3M921.5 245.5v-5M927.5 245.5v-3M933.5 245.5v-3M939.5 245.5v-3M945.5 245.5v-3M951.5 245.5v-3M956.5 245.5v-3M962.5 245.5v-3M968.5 245.5v-3M974.5 245.5v-3M980.5 245.5v-3M986.5 245.5v-3M992.5 245.5v-3M998.5 245.5v-3M1004.5 245.5v-3M1010.5 245.5v-3M1015.5 245.5v-3M1021.5 245.5v-3M1027.5 245.5v-3M1033.5 245.5v-3M1039.5 245.5v-3M1045.5 245.5v-3M1051.5 245.5v-3M1057.5 245.5v-3M1063.5 245.5v-5M1069.5 245.5v-3M1075.5 245.5v-3M1080.5 245.5v-3M1086.5 245.5v-3M1092.5 245.5v-3M1098.5 245.5v-3M1104.5 245.5v-3M1110.5 245.5v-3M1116.5 245.5v-3M1122.5 245.5v-3M1128.5 245.5v-3M1134.5 245.5v-3M1139.5 245.5v-3M1145.5 245.5v-3M1151.5 245.5v-3M1157.5 245.5v-3M1163.5 245.5v-3M1169.5 245.5v-3M1175.5 245.5v-3M1181.5 245.5v-3M1187.5 245.5v-3M1193.5 245.5v-3M1198.5 245.5v-3M1204.5 245.5v-5M213.5 378.5v5M218.5 378.5v3.3M224.5 378.5v3.3M230.5 378.5v3.3M236.5 378.5v3.3M242.5 378.5v3.3M248.5 378.5v3.3M254.5 378.5v3.3M260.5 378.5v3.3M266.5 378.5v3.3M272.5 378.5v3.3M277.5 378.5v3.3M283.5 378.5v3.3M289.5 378.5v3.3M295.5 378.5v3.3M301.5 378.5v3.3M307.5 378.5v3.3M313.5 378.5v3.3M319.5 378.5v3.3M325.5 378.5v3.3M331.5 378.5v3.3M336.5 378.5v3.3M342.5 378.5v3.3M348.5 378.5v3.3M354.5 378.5v5M360.5 378.5v3.3M366.5 378.5v3.3M372.5 378.5v3.3M378.5 378.5v3.3M384.5 378.5v3.3M390.5 378.5v3.3M396.5 378.5v3.3M401.5 378.5v3.3M407.5 378.5v3.3M413.5 378.5v3.3M419.5 378.5v3.3M425.5 378.5v3.3M431.5 378.5v3.3M437.5 378.5v3.3M443.5 378.5v3.3M449.5 378.5v3.3M455.5 378.5v3.3M460.5 378.5v3.3M466.5 378.5v3.3M472.5 378.5v3.3M478.5 378.5v3.3M484.5 378.5v3.3M490.5 378.5v3.3M496.5 378.5v5M502.5 378.5v3.3M508.5 378.5v3.3M514.5 378.5v3.3M520.5 378.5v3.3M525.5 378.5v3.3M531.5 378.5v3.3M537.5 378.5v3.3M543.5 378.5v3.3M549.5 378.5v3.3M555.5 378.5v3.3M561.5 378.5v3.3M567.5 378.5v3.3M573.5 378.5v3.3M579.5 378.5v3.3M584.5 378.5v3.3M590.5 378.5v3.3M596.5 378.5v3.3M602.5 378.5v3.3M608.5 378.5v3.3M614.5 378.5v3.3M620.5 378.5v3.3M626.5 378.5v3.3M632.5 378.5v3.3M638.5 378.5v5M644.5 378.5v3.3M649.5 378.5v3.3M655.5 378.5v3.3M661.5 378.5v3.3M667.5 378.5v3.3M673.5 378.5v3.3M679.5 378.5v3.3M685.5 378.5v3.3M691.5 378.5v3.3M697.5 378.5v3.3M703.5 378.5v3.3M708.5 378.5v3.3M714.5 378.5v3.3M720.5 378.5v3.3M726.5 378.5v3.3M732.5 378.5v3.3M738.5 378.5v3.3M744.5 378.5v3.3M750.5 378.5v3.3M756.5 378.5v3.3M762.5 378.5v3.3M767.5 378.5v3.3M773.5 378.5v3.3M779.5 378.5v5M785.5 378.5v3.3M791.5 378.5v3.3M797.5 378.5v3.3M803.5 378.5v3.3M809.5 378.5v3.3M815.5 378.5v3.3M821.5 378.5v3.3M827.5 378.5v3.3M832.5 378.5v3.3M838.5 378.5v3.3M844.5 378.5v3.3M850.5 378.5v3.3M856.5 378.5v3.3M862.5 378.5v3.3M868.5 378.5v3.3M874.5 378.5v3.3M880.5 378.5v3.3M886.5 378.5v3.3M891.5 378.5v3.3M897.5 378.5v3.3M903.5 378.5v3.3M909.5 378.5v3.3M915.5 378.5v3.3M921.5 378.5v5M927.5 378.5v3.3M933.5 378.5v3.3M939.5 378.5v3.3M945.5 378.5v3.3M951.5 378.5v3.3M956.5 378.5v3.3M962.5 378.5v3.3M968.5 378.5v3.3M974.5 378.5v3.3M980.5 378.5v3.3M986.5 378.5v3.3M992.5 378.5v3.3M998.5 378.5v3.3M1004.5 378.5v3.3M1010.5 378.5v3.3M1015.5 378.5v3.3M1021.5 378.5v3.3M1027.5 378.5v3.3M1033.5 378.5v3.3M1039.5 378.5v3.3M1045.5 378.5v3.3M1051.5 378.5v3.3M1057.5 378.5v3.3M1063.5 378.5v5M1069.5 378.5v3.3M1075.5 378.5v3.3M1080.5 378.5v3.3M1086.5 378.5v3.3M1092.5 378.5v3.3M1098.5 378.5v3.3M1104.5 378.5v3.3M1110.5 378.5v3.3M1116.5 378.5v3.3M1122.5 378.5v3.3M1128.5 378.5v3.3M1134.5 378.5v3.3M1139.5 378.5v3.3M1145.5 378.5v3.3M1151.5 378.5v3.3M1157.5 378.5v3.3M1163.5 378.5v3.3M1169.5 378.5v3.3M1175.5 378.5v3.3M1181.5 378.5v3.3M1187.5 378.5v3.3M1193.5 378.5v3.3M1198.5 378.5v3.3M1204.5 378.5v5M213.5 396.5v-5.2M218.5 396.5v-3.2M224.5 396.5v-3.2M230.5 396.5v-3.2M236.5 396.5v-3.2M242.5 396.5v-3.2M248.5 396.5v-3.2M254.5 396.5v-3.2M260.5 396.5v-3.2M266.5 396.5v-3.2M272.5 396.5v-3.2M277.5 396.5v-3.2M283.5 396.5v-3.2M289.5 396.5v-3.2M295.5 396.5v-3.2M301.5 396.5v-3.2M307.5 396.5v-3.2M313.5 396.5v-3.2M319.5 396.5v-3.2M325.5 396.5v-3.2M331.5 396.5v-3.2M336.5 396.5v-3.2M342.5 396.5v-3.2M348.5 396.5v-3.2M354.5 396.5v-5.2M360.5 396.5v-3.2M366.5 396.5v-3.2M372.5 396.5v-3.2M378.5 396.5v-3.2M384.5 396.5v-3.2M390.5 396.5v-3.2M396.5 396.5v-3.2M401.5 396.5v-3.2M407.5 396.5v-3.2M413.5 396.5v-3.2M419.5 396.5v-3.2M425.5 396.5v-3.2M431.5 396.5v-3.2M437.5 396.5v-3.2M443.5 396.5v-3.2M449.5 396.5v-3.2M455.5 396.5v-3.2M460.5 396.5v-3.2M466.5 396.5v-3.2M472.5 396.5v-3.2M478.5 396.5v-3.2M484.5 396.5v-3.2M490.5 396.5v-3.2M496.5 396.5v-5.2M502.5 396.5v-3.2M508.5 396.5v-3.2M514.5 396.5v-3.2M520.5 396.5v-3.2M525.5 396.5v-3.2M531.5 396.5v-3.2M537.5 396.5v-3.2M543.5 396.5v-3.2M549.5 396.5v-3.2M555.5 396.5v-3.2M561.5 396.5v-3.2M567.5 396.5v-3.2M573.5 396.5v-3.2M579.5 396.5v-3.2M584.5 396.5v-3.2M590.5 396.5v-3.2M596.5 396.5v-3.2M602.5 396.5v-3.2M608.5 396.5v-3.2M614.5 396.5v-3.2M620.5 396.5v-3.2M626.5 396.5v-3.2M632.5 396.5v-3.2M638.5 396.5v-5.2M644.5 396.5v-3.2M649.5 396.5v-3.2M655.5 396.5v-3.2M661.5 396.5v-3.2M667.5 396.5v-3.2M673.5 396.5v-3.2M679.5 396.5v-3.2M685.5 396.5v-3.2M691.5 396.5v-3.2M697.5 396.5v-3.2M703.5 396.5v-3.2M708.5 396.5v-3.2M714.5 396.5v-3.2M720.5 396.5v-3.2M726.5 396.5v-3.2M732.5 396.5v-3.2M738.5 396.5v-3.2M744.5 396.5v-3.2M750.5 396.5v-3.2M756.5 396.5v-3.2M762.5 396.5v-3.2M767.5 396.5v-3.2M773.5 396.5v-3.2M779.5 396.5v-5.2M785.5 396.5v-3.2M791.5 396.5v-3.2M797.5 396.5v-3.2M803.5 396.5v-3.2M809.5 396.5v-3.2M815.5 396.5v-3.2M821.5 396.5v-3.2M827.5 396.5v-3.2M832.5 396.5v-3.2M838.5 396.5v-3.2M844.5 396.5v-3.2M850.5 396.5v-3.2M856.5 396.5v-3.2M862.5 396.5v-3.2M868.5 396.5v-3.2M874.5 396.5v-3.2M880.5 396.5v-3.2M886.5 396.5v-3.2M891.5 396.5v-3.2M897.5 396.5v-3.2M903.5 396.5v-3.2M909.5 396.5v-3.2M915.5 396.5v-3.2M921.5 396.5v-5.2M927.5 396.5v-3.2M933.5 396.5v-3.2M939.5 396.5v-3.2M945.5 396.5v-3.2M951.5 396.5v-3.2M956.5 396.5v-3.2M962.5 396.5v-3.2M968.5 396.5v-3.2M974.5 396.5v-3.2M980.5 396.5v-3.2M986.5 396.5v-3.2M992.5 396.5v-3.2M998.5 396.5v-3.2M1004.5 396.5v-3.2M1010.5 396.5v-3.2M1015.5 396.5v-3.2M1021.5 396.5v-3.2M1027.5 396.5v-3.2M1033.5 396.5v-3.2M1039.5 396.5v-3.2M1045.5 396.5v-3.2M1051.5 396.5v-3.2M1057.5 396.5v-3.2M1063.5 396.5v-5.2M1069.5 396.5v-3.2M1075.5 396.5v-3.2M1080.5 396.5v-3.2M1086.5 396.5v-3.2M1092.5 396.5v-3.2M1098.5 396.5v-3.2M1104.5 396.5v-3.2M1110.5 396.5v-3.2M1116.5 396.5v-3.2M1122.5 396.5v-3.2M1128.5 396.5v-3.2M1134.5 396.5v-3.2M1139.5 396.5v-3.2M1145.5 396.5v-3.2M1151.5 396.5v-3.2M1157.5 396.5v-3.2M1163.5 396.5v-3.2M1169.5 396.5v-3.2M1175.5 396.5v-3.2M1181.5 396.5v-3.2M1187.5 396.5v-3.2M1193.5 396.5v-3.2M1198.5 396.5v-3.2M1204.5 396.5v-5.2M213.5 548.5v-5M218.5 548.5v-3M224.5 548.5v-3M230.5 548.5v-3M236.5 548.5v-3M242.5 548.5v-3M248.5 548.5v-3M254.5 548.5v-3M260.5 548.5v-3M266.5 548.5v-3M272.5 548.5v-3M277.5 548.5v-3M283.5 548.5v-3M289.5 548.5v-3M295.5 548.5v-3M301.5 548.5v-3M307.5 548.5v-3M313.5 548.5v-3M319.5 548.5v-3M325.5 548.5v-3M331.5 548.5v-3M336.5 548.5v-3M342.5 548.5v-3M348.5 548.5v-3M354.5 548.5v-5M360.5 548.5v-3M366.5 548.5v-3M372.5 548.5v-3M378.5 548.5v-3M384.5 548.5v-3M390.5 548.5v-3M396.5 548.5v-3M401.5 548.5v-3M407.5 548.5v-3M413.5 548.5v-3M419.5 548.5v-3M425.5 548.5v-3M431.5 548.5v-3M437.5 548.5v-3M443.5 548.5v-3M449.5 548.5v-3M455.5 548.5v-3M460.5 548.5v-3M466.5 548.5v-3M472.5 548.5v-3M478.5 548.5v-3M484.5 548.5v-3M490.5 548.5v-3M496.5 548.5v-5M502.5 548.5v-3M508.5 548.5v-3M514.5 548.5v-3M520.5 548.5v-3M525.5 548.5v-3M531.5 548.5v-3M537.5 548.5v-3M543.5 548.5v-3M549.5 548.5v-3M555.5 548.5v-3M561.5 548.5v-3M567.5 548.5v-3M573.5 548.5v-3M579.5 548.5v-3M584.5 548.5v-3M590.5 548.5v-3M596.5 548.5v-3M602.5 548.5v-3M608.5 548.5v-3M614.5 548.5v-3M620.5 548.5v-3M626.5 548.5v-3M632.5 548.5v-3M638.5 548.5v-5M644.5 548.5v-3M649.5 548.5v-3M655.5 548.5v-3M661.5 548.5v-3M667.5 548.5v-3M673.5 548.5v-3M679.5 548.5v-3M685.5 548.5v-3M691.5 548.5v-3M697.5 548.5v-3M703.5 548.5v-3M708.5 548.5v-3M714.5 548.5v-3M720.5 548.5v-3M726.5 548.5v-3M732.5 548.5v-3M738.5 548.5v-3M744.5 548.5v-3M750.5 548.5v-3M756.5 548.5v-3M762.5 548.5v-3M767.5 548.5v-3M773.5 548.5v-3M779.5 548.5v-5M785.5 548.5v-3M791.5 548.5v-3M797.5 548.5v-3M803.5 548.5v-3M809.5 548.5v-3M815.5 548.5v-3M821.5 548.5v-3M827.5 548.5v-3M832.5 548.5v-3M838.5 548.5v-3M844.5 548.5v-3M850.5 548.5v-3M856.5 548.5v-3M862.5 548.5v-3M868.5 548.5v-3M874.5 548.5v-3M880.5 548.5v-3M886.5 548.5v-3M891.5 548.5v-3M897.5 548.5v-3M903.5 548.5v-3M909.5 548.5v-3M915.5 548.5v-3M921.5 548.5v-5M927.5 548.5v-3M933.5 548.5v-3M939.5 548.5v-3M945.5 548.5v-3M951.5 548.5v-3M956.5 548.5v-3M962.5 548.5v-3M968.5 548.5v-3M974.5 548.5v-3M980.5 548.5v-3M986.5 548.5v-3M992.5 548.5v-3M998.5 548.5v-3M1004.5 548.5v-3M1010.5 548.5v-3M1015.5 548.5v-3M1021.5 548.5v-3M1027.5 548.5v-3M1033.5 548.5v-3M1039.5 548.5v-3M1045.5 548.5v-3M1051.5 548.5v-3M1057.5 548.5v-3M1063.5 548.5v-5M1069.5 548.5v-3M1075.5 548.5v-3M1080.5 548.5v-3M1086.5 548.5v-3M1092.5 548.5v-3M1098.5 548.5v-3M1104.5 548.5v-3M1110.5 548.5v-3M1116.5 548.5v-3M1122.5 548.5v-3M1128.5 548.5v-3M1134.5 548.5v-3M1139.5 548.5v-3M1145.5 548.5v-3M1151.5 548.5v-3M1157.5 548.5v-3M1163.5 548.5v-3M1169.5 548.5v-3M1175.5 548.5v-3M1181.5 548.5v-3M1187.5 548.5v-3M1193.5 548.5v-3M1198.5 548.5v-3M1204.5 548.5v-5M213.5 699.5v-5M218.5 699.5v-3M224.5 699.5v-3M230.5 699.5v-3M236.5 699.5v-3M242.5 699.5v-3M248.5 699.5v-3M254.5 699.5v-3M260.5 699.5v-3M266.5 699.5v-3M272.5 699.5v-3M277.5 699.5v-3M283.5 699.5v-5M289.5 699.5v-3M295.5 699.5v-3M301.5 699.5v-3M307.5 699.5v-3M313.5 699.5v-3M319.5 699.5v-3M325.5 699.5v-3M331.5 699.5v-3M336.5 699.5v-3M342.5 699.5v-3M348.5 699.5v-3M354.5 699.5v-5M360.5 699.5v-3M366.5 699.5v-3M372.5 699.5v-3M378.5 699.5v-3M384.5 699.5v-3M390.5 699.5v-3M396.5 699.5v-3M401.5 699.5v-3M407.5 699.5v-3M413.5 699.5v-3M419.5 699.5v-3M425.5 699.5v-5M431.5 699.5v-3M437.5 699.5v-3M443.5 699.5v-3M449.5 699.5v-3M455.5 699.5v-3M460.5 699.5v-3M466.5 699.5v-3M472.5 699.5v-3M478.5 699.5v-3M484.5 699.5v-3M490.5 699.5v-3M496.5 699.5v-5M502.5 699.5v-3M508.5 699.5v-3M514.5 699.5v-3M520.5 699.5v-3M525.5 699.5v-3M531.5 699.5v-3M537.5 699.5v-3M543.5 699.5v-3M549.5 699.5v-3M555.5 699.5v-3M561.5 699.5v-3M567.5 699.5v-5M573.5 699.5v-3M579.5 699.5v-3M584.5 699.5v-3M590.5 699.5v-3M596.5 699.5v-3M602.5 699.5v-3M608.5 699.5v-3M614.5 699.5v-3M620.5 699.5v-3M626.5 699.5v-3M632.5 699.5v-3M638.5 699.5v-5M644.5 699.5v-3M649.5 699.5v-3M655.5 699.5v-3M661.5 699.5v-3M667.5 699.5v-3M673.5 699.5v-3M679.5 699.5v-3M685.5 699.5v-3M691.5 699.5v-3M697.5 699.5v-3M703.5 699.5v-3M708.5 699.5v-5M714.5 699.5v-3M720.5 699.5v-3M726.5 699.5v-3M732.5 699.5v-3M738.5 699.5v-3M744.5 699.5v-3M750.5 699.5v-3M756.5 699.5v-3M762.5 699.5v-3M767.5 699.5v-3M773.5 699.5v-3M779.5 699.5v-5M785.5 699.5v-3M791.5 699.5v-3M797.5 699.5v-3M803.5 699.5v-3M809.5 699.5v-3M815.5 699.5v-3M821.5 699.5v-3M827.5 699.5v-3M832.5 699.5v-3M838.5 699.5v-3M844.5 699.5v-3M850.5 699.5v-5M856.5 699.5v-3M862.5 699.5v-3M868.5 699.5v-3M874.5 699.5v-3M880.5 699.5v-3M886.5 699.5v-3M891.5 699.5v-3M897.5 699.5v-3M903.5 699.5v-3M909.5 699.5v-3M915.5 699.5v-3M921.5 699.5v-5M927.5 699.5v-3M933.5 699.5v-3M939.5 699.5v-3M945.5 699.5v-3M951.5 699.5v-3M956.5 699.5v-3M962.5 699.5v-3M968.5 699.5v-3M974.5 699.5v-3M980.5 699.5v-3M986.5 699.5v-3M992.5 699.5v-5M998.5 699.5v-3M1004.5 699.5v-3M1010.5 699.5v-3M1015.5 699.5v-3M1021.5 699.5v-3M1027.5 699.5v-3M1033.5 699.5v-3M1039.5 699.5v-3M1045.5 699.5v-3M1051.5 699.5v-3M1057.5 699.5v-3M1063.5 699.5v-5M1069.5 699.5v-3M1075.5 699.5v-3M1080.5 699.5v-3M1086.5 699.5v-3M1092.5 699.5v-3M1098.5 699.5v-3M1104.5 699.5v-3M1110.5 699.5v-3M1116.5 699.5v-3M1122.5 699.5v-3M1128.5 699.5v-3M1134.5 699.5v-5M1139.5 699.5v-3M1145.5 699.5v-3M1151.5 699.5v-3M1157.5 699.5v-3M1163.5 699.5v-3M1169.5 699.5v-3M1175.5 699.5v-3M1181.5 699.5v-3M1187.5 699.5v-3M1193.5 699.5v-3M1198.5 699.5v-3M1204.5 699.5v-5M213.5 850.5v4.6M218.5 850.5v3.3M224.5 850.5v3.3M230.5 850.5v3.3M236.5 850.5v3.3M242.5 850.5v3.3M248.5 850.5v3.3M254.5 850.5v3.3M260.5 850.5v3.3M266.5 850.5v3.3M272.5 850.5v3.3M277.5 850.5v3.3M283.5 850.5v4.6M289.5 850.5v3.3M295.5 850.5v3.3M301.5 850.5v3.3M307.5 850.5v3.3M313.5 850.5v3.3M319.5 850.5v3.3M325.5 850.5v3.3M331.5 850.5v3.3M336.5 850.5v3.3M342.5 850.5v3.3M348.5 850.5v3.3M354.5 850.5v4.6M360.5 850.5v3.3M366.5 850.5v3.3M372.5 850.5v3.3M378.5 850.5v3.3M384.5 850.5v3.3M390.5 850.5v3.3M396.5 850.5v3.3M401.5 850.5v3.3M407.5 850.5v3.3M413.5 850.5v3.3M419.5 850.5v3.3M425.5 850.5v4.6M431.5 850.5v3.3M437.5 850.5v3.3M443.5 850.5v3.3M449.5 850.5v3.3M455.5 850.5v3.3M460.5 850.5v3.3M466.5 850.5v3.3M472.5 850.5v3.3M478.5 850.5v3.3M484.5 850.5v3.3M490.5 850.5v3.3M496.5 850.5v4.6M502.5 850.5v3.3M508.5 850.5v3.3M514.5 850.5v3.3M520.5 850.5v3.3M525.5 850.5v3.3M531.5 850.5v3.3M537.5 850.5v3.3M543.5 850.5v3.3M549.5 850.5v3.3M555.5 850.5v3.3M561.5 850.5v3.3M567.5 850.5v4.6M573.5 850.5v3.3M579.5 850.5v3.3M584.5 850.5v3.3M590.5 850.5v3.3M596.5 850.5v3.3M602.5 850.5v3.3M608.5 850.5v3.3M614.5 850.5v3.3M620.5 850.5v3.3M626.5 850.5v3.3M632.5 850.5v3.3M638.5 850.5v4.6M644.5 850.5v3.3M649.5 850.5v3.3M655.5 850.5v3.3M661.5 850.5v3.3M667.5 850.5v3.3M673.5 850.5v3.3M679.5 850.5v3.3M685.5 850.5v3.3M691.5 850.5v3.3M697.5 850.5v3.3M703.5 850.5v3.3M708.5 850.5v4.6M714.5 850.5v3.3M720.5 850.5v3.3M726.5 850.5v3.3M732.5 850.5v3.3M738.5 850.5v3.3M744.5 850.5v3.3M750.5 850.5v3.3M756.5 850.5v3.3M762.5 850.5v3.3M767.5 850.5v3.3M773.5 850.5v3.3M779.5 850.5v4.6M785.5 850.5v3.3M791.5 850.5v3.3M797.5 850.5v3.3M803.5 850.5v3.3M809.5 850.5v3.3M815.5 850.5v3.3M821.5 850.5v3.3M827.5 850.5v3.3M832.5 850.5v3.3M838.5 850.5v3.3M844.5 850.5v3.3M850.5 850.5v4.6M856.5 850.5v3.3M862.5 850.5v3.3M868.5 850.5v3.3M874.5 850.5v3.3M880.5 850.5v3.3M886.5 850.5v3.3M891.5 850.5v3.3M897.5 850.5v3.3M903.5 850.5v3.3M909.5 850.5v3.3M915.5 850.5v3.3M921.5 850.5v4.6M927.5 850.5v3.3M933.5 850.5v3.3M939.5 850.5v3.3M945.5 850.5v3.3M951.5 850.5v3.3M956.5 850.5v3.3M962.5 850.5v3.3M968.5 850.5v3.3M974.5 850.5v3.3M980.5 850.5v3.3M986.5 850.5v3.3M992.5 850.5v4.6M998.5 850.5v3.3M1004.5 850.5v3.3M1010.5 850.5v3.3M1015.5 850.5v3.3M1021.5 850.5v3.3M1027.5 850.5v3.3M1033.5 850.5v3.3M1039.5 850.5v3.3M1045.5 850.5v3.3M1051.5 850.5v3.3M1057.5 850.5v3.3M1063.5 850.5v4.6M1069.5 850.5v3.3M1075.5 850.5v3.3M1080.5 850.5v3.3M1086.5 850.5v3.3M1092.5 850.5v3.3M1098.5 850.5v3.3M1104.5 850.5v3.3M1110.5 850.5v3.3M1116.5 850.5v3.3M1122.5 850.5v3.3M1128.5 850.5v3.3M1134.5 850.5v4.6M1139.5 850.5v3.3M1145.5 850.5v3.3M1151.5 850.5v3.3M1157.5 850.5v3.3M1163.5 850.5v3.3M1169.5 850.5v3.3M1175.5 850.5v3.3M1181.5 850.5v3.3M1187.5 850.5v3.3M1193.5 850.5v3.3M1198.5 850.5v3.3M1204.5 850.5v4.6M213.5 887.5v-4.3M354.5 887.5v-4.3M496.5 887.5v-4.3M638.5 887.5v-4.3M779.5 887.5v-4.3M921.5 887.5v-4.3M1063.5 887.5v-4.3M1204.5 887.5v-4.3M213.5 245.5h-6M1204.5 245.5h6M213.5 242.5h-6M1204.5 242.5h6M213.5 239.5h-6M1204.5 239.5h6M213.5 236.5h-6M1204.5 236.5h6M213.5 233.5h-6M1204.5 233.5h6M213.5 230.5h-10M1204.5 230.5h10M213.5 227.5h-6M1204.5 227.5h6M213.5 224.5h-6M1204.5 224.5h6M213.5 221.5h-6M1204.5 221.5h6M213.5 218.5h-6M1204.5 218.5h6M213.5 215.5h-6M1204.5 215.5h6M213.5 212.5h-6M1204.5 212.5h6M213.5 209.5h-6M1204.5 209.5h6M213.5 206.5h-6M1204.5 206.5h6M213.5 203.5h-6M1204.5 203.5h6M213.5 200.5h-10M1204.5 200.5h10M213.5 197.5h-6M1204.5 197.5h6M213.5 194.5h-6M1204.5 194.5h6M213.5 191.5h-6M1204.5 191.5h6M213.5 188.5h-6M1204.5 188.5h6M213.5 185.5h-6M1204.5 185.5h6M213.5 182.5h-6M1204.5 182.5h6M213.5 179.5h-6M1204.5 179.5h6M213.5 176.5h-6M1204.5 176.5h6M213.5 173.5h-6M1204.5 173.5h6M213.5 170.5h-10M1204.5 170.5h10M213.5 167.5h-6M1204.5 167.5h6M213.5 164.5h-6M1204.5 164.5h6M213.5 161.5h-6M1204.5 161.5h6M213.5 158.5h-6M1204.5 158.5h6M213.5 155.5h-6M1204.5 155.5h6M213.5 152.5h-6M1204.5 152.5h6M213.5 149.5h-6M1204.5 149.5h6M213.5 146.5h-6M1204.5 146.5h6M213.5 143.5h-6M1204.5 143.5h6M213.5 140.5h-10M1204.5 140.5h10M213.5 137.5h-6M1204.5 137.5h6M213.5 134.5h-6M1204.5 134.5h6M213.5 131.5h-6M1204.5 131.5h6M213.5 128.5h-6M1204.5 128.5h6M213.5 125.5h-6M1204.5 125.5h6M213.5 122.5h-6M1204.5 122.5h6M213.5 119.5h-6M1204.5 119.5h6M213.5 116.5h-6M1204.5 116.5h6M213.5 113.5h-6M1204.5 113.5h6M213.5 110.5h-10M1204.5 110.5h10M213.5 107.5h-6M1204.5 107.5h6M213.5 104.5h-6M1204.5 104.5h6M213.5 101.5h-6M1204.5 101.5h6M213.5 98.5h-6M1204.5 98.5h6M213.5 95.5h-6M1204.5 95.5h6M213.5 377.5h-6M1204.5 377.5h6M213.5 375.5h-6M1204.5 375.5h6M213.5 372.5h-6M1204.5 372.5h6M213.5 369.5h-6M1204.5 369.5h6M213.5 367.5h-6M1204.5 367.5h6M213.5 364.5h-10M1204.5 364.5h10M213.5 361.5h-6M1204.5 361.5h6M213.5 359.5h-6M1204.5 359.5h6M213.5 356.5h-6M1204.5 356.5h6M213.5 354.5h-6M1204.5 354.5h6M213.5 351.5h-6M1204.5 351.5h6M213.5 348.5h-6M1204.5 348.5h6M213.5 346.5h-6M1204.5 346.5h6M213.5 343.5h-6M1204.5 343.5h6M213.5 340.5h-6M1204.5 340.5h6M213.5 338.5h-10M1204.5 338.5h10M213.5 335.5h-6M1204.5 335.5h6M213.5 333.5h-6M1204.5 333.5h6M213.5 330.5h-6M1204.5 330.5h6M213.5 327.5h-6M1204.5 327.5h6M213.5 325.5h-6M1204.5 325.5h6M213.5 322.5h-6M1204.5 322.5h6M213.5 319.5h-6M1204.5 319.5h6M213.5 317.5h-6M1204.5 317.5h6M213.5 314.5h-6M1204.5 314.5h6M213.5 312.5h-10M1204.5 312.5h10M213.5 309.5h-6M1204.5 309.5h6M213.5 306.5h-6M1204.5 306.5h6M213.5 304.5h-6M1204.5 304.5h6M213.5 301.5h-6M1204.5 301.5h6M213.5 298.5h-6M1204.5 298.5h6M213.5 296.5h-6M1204.5 296.5h6M213.5 293.5h-6M1204.5 293.5h6M213.5 290.5h-6M1204.5 290.5h6M213.5 288.5h-6M1204.5 288.5h6M213.5 285.5h-10M1204.5 285.5h10M213.5 283.5h-6M1204.5 283.5h6M213.5 280.5h-6M1204.5 280.5h6M213.5 277.5h-6M1204.5 277.5h6M213.5 275.5h-6M1204.5 275.5h6M213.5 272.5h-6M1204.5 272.5h6M213.5 269.5h-6M1204.5 269.5h6M213.5 267.5h-6M1204.5 267.5h6M213.5 264.5h-6M1204.5 264.5h6M213.5 262.5h-6M1204.5 262.5h6M213.5 259.5h-10M1204.5 259.5h10M213.5 256.5h-6M1204.5 256.5h6M213.5 254.5h-6M1204.5 254.5h6M213.5 251.5h-6M1204.5 251.5h6M213.5 248.5h-6M1204.5 248.5h6M213.5 246.5h-6M1204.5 246.5h6M213.5 548.5h19M1204.5 548.5h-19M213.5 546.5h10M1204.5 546.5h-10M213.5 543.5h10M1204.5 543.5h-10M213.5 541.5h10M1204.5 541.5h-10M213.5 539.5h10M1204.5 539.5h-10M213.5 537.5h10M1204.5 537.5h-10M213.5 535.5h10M1204.5 535.5h-10M213.5 533.5h10M1204.5 533.5h-10M213.5 530.5h10M1204.5 530.5h-10M213.5 528.5h10M1204.5 528.5h-10M213.5 526.5h19M1204.5 526.5h-19M213.5 524.5h10M1204.5 524.5h-10M213.5 522.5h10M1204.5 522.5h-10M213.5 520.5h10M1204.5 520.5h-10M213.5 517.5h10M1204.5 517.5h-10M213.5 515.5h10M1204.5 515.5h-10M213.5 513.5h10M1204.5 513.5h-10M213.5 511.5h10M1204.5 511.5h-10M213.5 509.5h10M1204.5 509.5h-10M213.5 507.5h10M1204.5 507.5h-10M213.5 504.5h19M1204.5 504.5h-19M213.5 502.5h10M1204.5 502.5h-10M213.5 500.5h10M1204.5 500.5h-10M213.5 498.5h10M1204.5 498.5h-10M213.5 496.5h10M1204.5 496.5h-10M213.5 494.5h10M1204.5 494.5h-10M213.5 491.5h10M1204.5 491.5h-10M213.5 489.5h10M1204.5 489.5h-10M213.5 487.5h10M1204.5 487.5h-10M213.5 485.5h10M1204.5 485.5h-10M213.5 483.5h19M1204.5 483.5h-19M213.5 481.5h10M1204.5 481.5h-10M213.5 478.5h10M1204.5 478.5h-10M213.5 476.5h10M1204.5 476.5h-10M213.5 474.5h10M1204.5 474.5h-10M213.5 472.5h10M1204.5 472.5h-10M213.5 470.5h10M1204.5 470.5h-10M213.5 468.5h10M1204.5 468.5h-10M213.5 465.5h10M1204.5 465.5h-10M213.5 463.5h10M1204.5 463.5h-10M213.5 461.5h19M1204.5 461.5h-19M213.5 459.5h10M1204.5 459.5h-10M213.5 457.5h10M1204.5 457.5h-10M213.5 455.5h10M1204.5 455.5h-10M213.5 452.5h10M1204.5 452.5h-10M213.5 450.5h10M1204.5 450.5h-10M213.5 448.5h10M1204.5 448.5h-10M213.5 446.5h10M1204.5 446.5h-10M213.5 444.5h10M1204.5 444.5h-10M213.5 442.5h10M1204.5 442.5h-10M213.5 439.5h19M1204.5 439.5h-19M213.5 437.5h10M1204.5 437.5h-10M213.5 435.5h10M1204.5 435.5h-10M213.5 433.5h10M1204.5 433.5h-10M213.5 431.5h10M1204.5 431.5h-10M213.5 429.5h10M1204.5 429.5h-10M213.5 426.5h10M1204.5 426.5h-10M213.5 424.5h10M1204.5 424.5h-10M213.5 422.5h10M1204.5 422.5h-10M213.5 420.5h10M1204.5 420.5h-10M213.5 418.5h19M1204.5 418.5h-19M213.5 416.5h10M1204.5 416.5h-10M213.5 413.5h10M1204.5 413.5h-10M213.5 411.5h10M1204.5 411.5h-10M213.5 409.5h10M1204.5 409.5h-10M213.5 407.5h10M1204.5 407.5h-10M213.5 405.5h10M1204.5 405.5h-10M213.5 403.5h10M1204.5 403.5h-10M213.5 400.5h10M1204.5 400.5h-10M213.5 398.5h10M1204.5 398.5h-10M213.5 396.5h19M1204.5 396.5h-19M213.5 699.5h19M1204.5 699.5h-19M213.5 683.5h10M1204.5 683.5h-10M213.5 675.5h10M1204.5 675.5h-10M213.5 668.5h10M1204.5 668.5h-10M213.5 663.5h10M1204.5 663.5h-10M213.5 659.5h10M1204.5 659.5h-10M213.5 656.5h10M1204.5 656.5h-10M213.5 653.5h10M1204.5 653.5h-10M213.5 651.5h10M1204.5 651.5h-10M213.5 648.5h19M1204.5 648.5h-19M213.5 633.5h10M1204.5 633.5h-10M213.5 624.5h10M1204.5 624.5h-10M213.5 618.5h10M1204.5 618.5h-10M213.5 613.5h10M1204.5 613.5h-10M213.5 609.5h10M1204.5 609.5h-10M213.5 606.5h10M1204.5 606.5h-10M213.5 603.5h10M1204.5 603.5h-10M213.5 600.5h10M1204.5 600.5h-10M213.5 598.5h19M1204.5 598.5h-19M213.5 583.5h10M1204.5 583.5h-10M213.5 574.5h10M1204.5 574.5h-10M213.5 568.5h10M1204.5 568.5h-10M213.5 563.5h10M1204.5 563.5h-10M213.5 559.5h10M1204.5 559.5h-10M213.5 556.5h10M1204.5 556.5h-10M213.5 553.5h10M1204.5 553.5h-10M213.5 550.5h10M1204.5 550.5h-10M213.5 548.5h19M1204.5 548.5h-19M213.5 850.5h19M1204.5 850.5h-19M213.5 834.5h10M1204.5 834.5h-10M213.5 826.5h10M1204.5 826.5h-10M213.5 819.5h10M1204.5 819.5h-10M213.5 814.5h10M1204.5 814.5h-10M213.5 810.5h10M1204.5 810.5h-10M213.5 807.5h10M1204.5 807.5h-10M213.5 804.5h10M1204.5 804.5h-10M213.5 802.5h10M1204.5 802.5h-10M213.5 799.5h19M1204.5 799.5h-19M213.5 784.5h10M1204.5 784.5h-10M213.5 775.5h10M1204.5 775.5h-10M213.5 769.5h10M1204.5 769.5h-10M213.5 764.5h10M1204.5 764.5h-10M213.5 760.5h10M1204.5 760.5h-10M213.5 757.5h10M1204.5 757.5h-10M213.5 754.5h10M1204.5 754.5h-10M213.5 751.5h10M1204.5 751.5h-10M213.5 749.5h19M1204.5 749.5h-19M213.5 734.5h10M1204.5 734.5h-10M213.5 725.5h10M1204.5 725.5h-10M213.5 719.5h10M1204.5 719.5h-10M213.5 714.5h10M1204.5 714.5h-10M213.5 710.5h10M1204.5 710.5h-10M213.5 707.5h10M1204.5 707.5h-10M213.5 704.5h10M1204.5 704.5h-10M213.5 701.5h10M1204.5 701.5h-10M213.5 699.5h19M1204.5 699.5h-19" fill="none" stroke="#000" stroke-width="1.1"/>
<path d="M213.5 94.5H1204.5V245.5H213.5ZM213.5 245.5H1204.5V378.5H213.5ZM213.5 396.5H1204.5V548.5H213.5ZM213.5 548.5H1204.5V699.5H213.5ZM213.5 699.5H1204.5V850.5H213.5ZM213.5 887.5H1204.5" fill="none" stroke="#000" stroke-width="1.1" stroke-linecap="square"/>
<text x="197.7" y="117.1" font-size="19.44" text-anchor="end" fill="#000" >20</text>
<text x="197.7" y="147.1" font-size="19.44" text-anchor="end" fill="#000" >10</text>
<text x="197.7" y="177.1" font-size="19.44" text-anchor="end" fill="#000" >0</text>
<text x="197.7" y="207.1" font-size="19.44" text-anchor="end" fill="#000" >−10</text>
<text x="197.7" y="237.1" font-size="19.44" text-anchor="end" fill="#000" >−20</text>
<text x="197.7" y="266.2" font-size="19.44" text-anchor="end" fill="#000" >20</text>
<text x="197.7" y="292.5" font-size="19.44" text-anchor="end" fill="#000" >10</text>
<text x="197.7" y="318.8" font-size="19.44" text-anchor="end" fill="#000" >0</text>
<text x="197.7" y="345.1" font-size="19.44" text-anchor="end" fill="#000" >−10</text>
<text x="197.7" y="371.4" font-size="19.44" text-anchor="end" fill="#000" >−20</text>
<text x="207.3" y="533.33" font-size="19.44" text-anchor="end" fill="#000" >300</text>
<text x="207.3" y="511.66" font-size="19.44" text-anchor="end" fill="#000" >400</text>
<text x="207.3" y="489.99" font-size="19.44" text-anchor="end" fill="#000" >500</text>
<text x="207.3" y="468.32" font-size="19.44" text-anchor="end" fill="#000" >600</text>
<text x="207.3" y="446.65" font-size="19.44" text-anchor="end" fill="#000" >700</text>
<text x="207.3" y="424.98" font-size="19.44" text-anchor="end" fill="#000" >800</text>
<text x="207.3" y="403.31" font-size="19.44" text-anchor="end" fill="#000" >900</text>
<text x="206.8" y="568.2" font-size="19.44" text-anchor="end" fill="#000" >100.0</text>
<text x="206.8" y="605.6" font-size="19.44" text-anchor="end" fill="#000" >10.0</text>
<text x="206.8" y="656" font-size="19.44" text-anchor="end" fill="#000" >1.0</text>
<text x="206.8" y="697.2" font-size="19.44" text-anchor="end" fill="#000" >0.1</text>
<text transform="translate(171.8 721.5) scale(1 1.075)" font-size="20.6">10<tspan font-size="14.6" dy="-7.63">7</tspan></text>
<text transform="translate(171.8 757.5) scale(1 1.075)" font-size="20.6">10<tspan font-size="14.6" dy="-7.63">6</tspan></text>
<text transform="translate(171.8 808.6) scale(1 1.075)" font-size="20.6">10<tspan font-size="14.6" dy="-7.63">5</tspan></text>
<text transform="translate(171.8 848.6) scale(1 1.075)" font-size="20.6">10<tspan font-size="14.6" dy="-7.63">4</tspan></text>
<text x="212.2" y="875.2" font-size="20.83" text-anchor="middle" fill="#000" >00</text>
<text x="283.05" y="875.2" font-size="20.83" text-anchor="middle" fill="#000" >12</text>
<text x="353.9" y="875.2" font-size="20.83" text-anchor="middle" fill="#000" >00</text>
<text x="424.75" y="875.2" font-size="20.83" text-anchor="middle" fill="#000" >12</text>
<text x="495.6" y="875.2" font-size="20.83" text-anchor="middle" fill="#000" >00</text>
<text x="566.45" y="875.2" font-size="20.83" text-anchor="middle" fill="#000" >12</text>
<text x="637.3" y="875.2" font-size="20.83" text-anchor="middle" fill="#000" >00</text>
<text x="708.15" y="875.2" font-size="20.83" text-anchor="middle" fill="#000" >12</text>
<text x="779" y="875.2" font-size="20.83" text-anchor="middle" fill="#000" >00</text>
<text x="849.85" y="875.2" font-size="20.83" text-anchor="middle" fill="#000" >12</text>
<text x="920.7" y="875.2" font-size="20.83" text-anchor="middle" fill="#000" >00</text>
<text x="991.55" y="875.2" font-size="20.83" text-anchor="middle" fill="#000" >12</text>
<text x="1062.4" y="875.2" font-size="20.83" text-anchor="middle" fill="#000" >00</text>
<text x="1133.25" y="875.2" font-size="20.83" text-anchor="middle" fill="#000" >12</text>
<text x="1204.1" y="875.2" font-size="20.83" text-anchor="middle" fill="#000" >00</text>
<text x="212.2" y="908" font-size="20.83" text-anchor="middle" fill="#000" >03 Nov.</text>
<text x="353.9" y="908" font-size="20.83" text-anchor="middle" fill="#000" >04 Nov.</text>
<text x="495.6" y="908" font-size="20.83" text-anchor="middle" fill="#000" >05 Nov.</text>
<text x="637.3" y="908" font-size="20.83" text-anchor="middle" fill="#000" >06 Nov.</text>
<text x="779" y="908" font-size="20.83" text-anchor="middle" fill="#000" >07 Nov.</text>
<text x="920.7" y="908" font-size="20.83" text-anchor="middle" fill="#000" >08 Nov.</text>
<text x="1062.4" y="908" font-size="20.83" text-anchor="middle" fill="#000" >09 Nov.</text>
<text x="1204.1" y="908" font-size="20.83" text-anchor="middle" fill="#000" >10 Nov.</text>
<text transform="translate(708.6 85.8) scale(1 0.945)" font-size="22.22" text-anchor="middle">DSCOVR realtime solar wind parameters</text>
<text x="1234.2" y="260.6" font-size="15.28" text-anchor="start" fill="#29a9e2" >Blue:</text>
<text x="1234.2" y="277.8" font-size="15.28" text-anchor="start" fill="#29a9e2" >Toward Sun</text>
<text x="1234.2" y="326.9" font-size="15.28" text-anchor="start" fill="#000" >Yellow:</text>
<text x="1234.2" y="343.6" font-size="15.28" text-anchor="start" fill="#000" >Away from Sun</text>
<text x="1234.2" y="729.9" font-size="15.28" text-anchor="start" fill="#000" >Not for publication</text>
<text x="1234.2" y="764.8" font-size="15.28" text-anchor="start" fill="#000" >data from NOAA/SWPC</text>
<text x="1234.2" y="781.8" font-size="15.28" text-anchor="start" fill="#000" >plotted by NICT</text>
<text x="1234.2" y="816.8" font-size="15.28" text-anchor="start" fill="#000" >Last update:</text>
<text x="1234.2" y="833.5" font-size="15.28" text-anchor="start" fill="#000" >2025/11/09 05:10 UT</text>
<text transform="translate(117.1 130.9) rotate(-90)" font-size="20.83" text-anchor="middle" fill="#000">Btotal</text>
<text transform="translate(117.1 187) rotate(-90)" font-size="20.83" text-anchor="middle" fill="#f00">Bz</text>
<text transform="translate(151.6 164.6) rotate(-90)" font-size="20.83" text-anchor="middle" fill="#000">(nT, GSM)</text>
<text transform="translate(117.1 287) rotate(-90)" font-size="20.83" text-anchor="middle" fill="#00f">Bx</text>
<text transform="translate(117.1 329.9) rotate(-90)" font-size="20.83" text-anchor="middle" fill="#000">By</text>
<text transform="translate(151.6 305.3) rotate(-90)" font-size="20.83" text-anchor="middle" fill="#000">(nT, GSM)</text>
<text transform="translate(117.1 473.8) rotate(-90)" font-size="20.83" text-anchor="middle" fill="#000">Speed</text>
<text transform="translate(153 473) rotate(-90)" font-size="20.83" text-anchor="middle" fill="#000">(km/s)</text>
<text transform="translate(117.1 641.6) rotate(-90)" font-size="20.83" text-anchor="middle" fill="#000">Density</text>
<text transform="translate(144.1 633.7) rotate(-90)" font-size="20.83" text-anchor="middle">(cm<tspan font-size="14.6" dy="-8">−3</tspan><tspan dy="8">)</tspan></text>
<text transform="translate(115.3 773.1) rotate(-90)" font-size="20.83" text-anchor="middle" fill="#000">Temperature</text>
<text transform="translate(153 760.5) rotate(-90)" font-size="20.83" text-anchor="middle" fill="#000">(K)</text>
</svg>
</body></html>
